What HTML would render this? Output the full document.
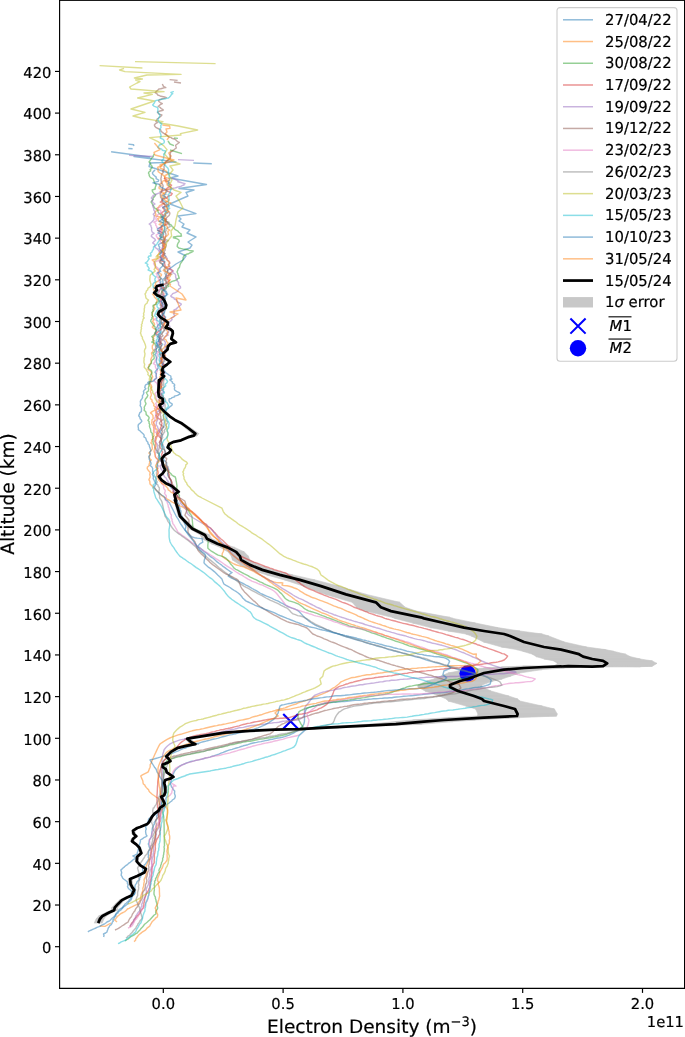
<!DOCTYPE html>
<html><head><meta charset="utf-8"><title>Electron Density</title>
<style>
html,body{margin:0;padding:0;background:#fff;}
svg{display:block;}
text{font-family:"DejaVu Sans","Liberation Sans",sans-serif;fill:#000;text-rendering:geometricPrecision;stroke:#000;stroke-width:0.2px;}
.tk{font-size:14.75px;}
.lg{font-size:14.85px;}
.ax{font-size:18.55px;}
</style></head><body>
<svg width="685" height="1037" viewBox="0 0 685 1037">
<rect x="0" y="0" width="685" height="1037" fill="#fff"/>
<clipPath id="cp"><rect x="59.6" y="0.6" width="624.6" height="987.6999999999999"/></clipPath>
<g clip-path="url(#cp)">
<path d="M162.4 284.6 L164.8 284.6 L158.2 286.0 L155.8 286.0Z M155.8 286.0 L158.2 286.0 L157.1 288.2 L154.7 288.2Z M154.7 288.2 L157.1 288.2 L158.2 290.1 L155.8 290.1Z M155.8 290.1 L158.2 290.1 L155.4 292.8 L153.0 292.8Z M153.0 292.8 L155.4 292.8 L158.2 295.2 L155.8 295.2Z M155.8 295.2 L158.2 295.2 L163.3 297.4 L160.9 297.4Z M160.9 297.4 L163.3 297.4 L165.8 301.0 L163.4 301.0Z M163.4 301.0 L165.8 301.0 L167.4 305.1 L165.0 305.1Z M165.0 305.1 L167.4 305.1 L166.7 308.1 L164.3 308.1Z M164.3 308.1 L166.7 308.1 L163.8 309.7 L161.4 309.7Z M161.4 309.7 L163.8 309.7 L160.2 311.7 L157.8 311.7Z M157.8 311.7 L160.2 311.7 L159.2 314.3 L156.8 314.3Z M156.8 314.3 L159.2 314.3 L161.7 317.3 L159.3 317.3Z M159.3 317.3 L161.7 317.3 L165.8 319.9 L163.4 319.9Z M163.4 319.9 L165.8 319.9 L169.1 322.5 L166.7 322.5Z M166.7 322.5 L169.1 322.5 L168.7 325.0 L166.3 325.0Z M166.3 325.0 L168.7 325.0 L166.9 327.6 L164.5 327.6Z M164.5 327.6 L166.9 327.6 L171.5 329.1 L169.1 329.1Z M169.1 329.1 L171.5 329.1 L173.8 331.1 L171.4 331.1Z M171.4 331.1 L173.8 331.1 L174.0 333.7 L171.6 333.7Z M171.6 333.7 L174.0 333.7 L173.0 336.8 L170.6 336.8Z M170.6 336.8 L173.0 336.8 L172.5 338.8 L170.1 338.8Z M170.1 338.8 L172.5 338.8 L177.3 342.4 L174.5 342.4Z M174.5 342.4 L177.3 342.4 L171.5 343.9 L169.1 343.9Z M169.1 343.9 L171.5 343.9 L169.1 346.5 L166.7 346.5Z M166.7 346.5 L169.1 346.5 L168.7 349.5 L166.3 349.5Z M166.3 349.5 L168.7 349.5 L164.3 353.6 L161.9 353.6Z M161.9 353.6 L164.3 353.6 L164.8 356.7 L162.4 356.7Z M162.4 356.7 L164.8 356.7 L166.9 358.7 L164.5 358.7Z M164.5 358.7 L166.9 358.7 L171.5 361.8 L169.1 361.8Z M169.1 361.8 L171.5 361.8 L168.4 364.3 L166.0 364.3Z M166.0 364.3 L168.4 364.3 L164.3 367.4 L161.9 367.4Z M161.9 367.4 L164.3 367.4 L163.3 370.0 L160.9 370.0Z M160.9 370.0 L163.3 370.0 L164.6 372.5 L162.2 372.5Z M162.2 372.5 L164.6 372.5 L163.0 374.6 L160.6 374.6Z M160.6 374.6 L163.0 374.6 L165.3 376.1 L162.9 376.1Z M162.9 376.1 L165.3 376.1 L161.7 379.2 L159.3 379.2Z M159.3 379.2 L161.7 379.2 L160.2 382.2 L157.8 382.2Z M157.8 382.2 L160.2 382.2 L160.2 380.0 L157.8 380.0Z M157.8 380.0 L160.2 380.0 L159.9 386.1 L157.5 386.1Z M157.5 386.1 L159.9 386.1 L159.5 392.3 L157.1 392.3Z M157.1 392.3 L159.5 392.3 L160.2 396.9 L157.8 396.9Z M157.8 396.9 L160.2 396.9 L163.8 398.9 L161.4 398.9Z M161.4 398.9 L163.8 398.9 L164.0 403.0 L161.6 403.0Z M161.6 403.0 L164.0 403.0 L160.7 405.0 L158.3 405.0Z M158.3 405.0 L160.7 405.0 L161.7 407.6 L159.3 407.6Z M159.3 407.6 L161.7 407.6 L165.8 411.7 L163.4 411.7Z M163.4 411.7 L165.8 411.7 L170.9 416.3 L168.5 416.3Z M168.5 416.3 L170.9 416.3 L176.1 419.9 L173.6 419.9Z M173.6 419.9 L176.1 419.9 L183.0 422.9 L179.0 422.9Z M179.0 422.9 L183.0 422.9 L190.9 428.0 L185.4 428.0Z M185.4 428.0 L190.9 428.0 L198.9 433.6 L191.7 433.6Z M191.7 433.6 L198.9 433.6 L197.2 435.7 L190.3 435.7Z M190.3 435.7 L197.2 435.7 L190.9 437.2 L185.4 437.2Z M185.4 437.2 L190.9 437.2 L183.0 440.3 L179.0 440.3Z M179.0 440.3 L183.0 440.3 L175.0 441.8 L172.6 441.8Z M172.6 441.8 L175.0 441.8 L170.4 443.9 L168.0 443.9Z M168.0 443.9 L170.4 443.9 L168.9 447.4 L166.5 447.4Z M166.5 447.4 L168.9 447.4 L172.0 450.0 L169.6 450.0Z M169.6 450.0 L172.0 450.0 L170.4 452.6 L168.0 452.6Z M168.0 452.6 L170.4 452.6 L165.8 455.1 L163.4 455.1Z M163.4 455.1 L165.8 455.1 L163.0 458.7 L160.6 458.7Z M160.6 458.7 L163.0 458.7 L163.6 461.7 L161.2 461.7Z M161.2 461.7 L163.6 461.7 L164.3 465.8 L161.9 465.8Z M161.9 465.8 L164.3 465.8 L166.3 469.9 L163.9 469.9Z M163.9 469.9 L166.3 469.9 L163.8 473.5 L161.4 473.5Z M161.4 473.5 L163.8 473.5 L160.2 476.6 L157.8 476.6Z M157.8 476.6 L160.2 476.6 L162.8 480.1 L160.4 480.1Z M160.4 480.1 L162.8 480.1 L166.9 483.2 L164.5 483.2Z M164.5 483.2 L166.9 483.2 L173.0 486.0 L170.6 486.0Z M170.6 486.0 L173.0 486.0 L180.3 491.7 L176.9 491.7Z M176.9 491.7 L180.3 491.7 L175.6 494.7 L173.1 494.7Z M173.1 494.7 L175.6 494.7 L177.6 500.9 L174.7 500.9Z M174.7 500.9 L177.6 500.9 L176.3 500.0 L173.7 500.0Z M173.7 500.0 L176.3 500.0 L179.0 507.5 L175.9 507.5Z M175.9 507.5 L179.0 507.5 L181.8 516.2 L178.1 516.2Z M178.1 516.2 L181.8 516.2 L190.1 523.7 L184.7 523.7Z M184.7 523.7 L190.1 523.7 L195.7 528.7 L189.2 528.7Z M189.2 528.7 L195.7 528.7 L209.6 534.9 L200.3 534.9Z M200.3 534.9 L209.6 534.9 L211.8 538.7 L202.0 538.7Z M202.0 538.7 L211.8 538.7 L223.5 543.7 L211.3 543.7Z M211.3 543.7 L223.5 543.7 L234.6 547.4 L220.2 547.4Z M220.2 547.4 L234.6 547.4 L244.3 551.9 L228.0 551.9Z M228.0 551.9 L244.3 551.9 L248.4 556.2 L231.3 556.2Z M231.3 556.2 L248.4 556.2 L249.8 559.9 L232.4 559.9Z M232.4 559.9 L249.8 559.9 L259.5 564.9 L240.2 564.9Z M240.2 564.9 L259.5 564.9 L273.4 569.9 L251.2 569.9Z M251.2 569.9 L273.4 569.9 L292.9 574.9 L266.8 574.9Z M266.8 574.9 L292.9 574.9 L315.1 579.9 L284.5 579.9Z M284.5 579.9 L315.1 579.9 L338.7 586.1 L303.3 586.1Z M303.3 586.1 L338.7 586.1 L366.4 594.4 L325.5 594.4Z M325.5 594.4 L366.4 594.4 L399.7 602.3 L352.1 602.3Z M352.1 602.3 L399.7 602.3 L405.3 607.3 L356.5 607.3Z M356.5 607.3 L405.3 607.3 L416.4 611.1 L365.4 611.1Z M365.4 611.1 L416.4 611.1 L449.7 617.3 L392.0 617.3Z M392.0 617.3 L449.7 617.3 L453.2 618.4 L394.8 618.4Z M394.8 618.4 L453.2 618.4 L475.4 623.0 L412.6 623.0Z M412.6 623.0 L475.4 623.0 L497.7 627.6 L430.3 627.6Z M430.3 627.6 L497.7 627.6 L519.9 631.0 L448.1 631.0Z M448.1 631.0 L519.9 631.0 L542.2 634.0 L465.8 634.0Z M465.8 634.0 L542.2 634.0 L548.8 636.0 L471.2 636.0Z M471.2 636.0 L548.8 636.0 L564.4 642.0 L483.6 642.0Z M483.6 642.0 L564.4 642.0 L586.6 647.0 L501.4 647.0Z M501.4 647.0 L586.6 647.0 L605.5 649.6 L516.5 649.6Z M516.5 649.6 L605.5 649.6 L613.5 651.3 L522.8 651.3Z M522.8 651.3 L613.5 651.3 L625.6 654.2 L532.4 654.2Z M532.4 654.2 L625.6 654.2 L630.1 656.6 L536.1 656.6Z M536.1 656.6 L630.1 656.6 L640.3 659.0 L544.2 659.0Z M544.2 659.0 L640.3 659.0 L652.3 660.9 L553.8 660.9Z M553.8 660.9 L652.3 660.9 L656.9 663.4 L557.5 663.4Z M557.5 663.4 L656.9 663.4 L652.3 666.2 L553.8 666.2Z M553.8 666.2 L652.3 666.2 L640.3 666.7 L544.2 666.7Z M544.2 666.7 L640.3 666.7 L613.5 666.2 L522.8 666.2Z M522.8 666.2 L613.5 666.2 L606.0 666.5 L516.8 666.5Z M516.8 666.5 L606.0 666.5 L605.5 666.4 L516.5 666.4Z M516.5 666.4 L605.5 666.4 L586.6 667.0 L501.4 667.0Z M501.4 667.0 L586.6 667.0 L564.4 668.0 L483.6 668.0Z M483.6 668.0 L564.4 668.0 L542.2 669.6 L465.8 669.6Z M465.8 669.6 L542.2 669.6 L519.9 673.0 L448.1 673.0Z M448.1 673.0 L519.9 673.0 L511.0 676.0 L441.0 676.0Z M441.0 676.0 L511.0 676.0 L502.1 679.0 L433.9 679.0Z M433.9 679.0 L502.1 679.0 L493.2 681.0 L426.8 681.0Z M426.8 681.0 L493.2 681.0 L482.1 685.0 L417.9 685.0Z M417.9 685.0 L482.1 685.0 L482.1 687.0 L417.9 687.0Z M417.9 687.0 L482.1 687.0 L491.0 691.0 L425.0 691.0Z M425.0 691.0 L491.0 691.0 L508.8 696.0 L439.2 696.0Z M439.2 696.0 L508.8 696.0 L517.7 699.0 L446.3 699.0Z M446.3 699.0 L517.7 699.0 L519.9 701.0 L448.1 701.0Z M448.1 701.0 L519.9 701.0 L542.2 706.0 L465.8 706.0Z M465.8 706.0 L542.2 706.0 L554.4 709.0 L475.6 709.0Z M475.6 709.0 L554.4 709.0 L557.3 714.0 L477.9 714.0Z M477.9 714.0 L557.3 714.0 L556.6 716.0 L477.4 716.0Z M477.4 716.0 L556.6 716.0 L519.9 717.6 L448.1 717.6Z M448.1 717.6 L519.9 717.6 L475.4 720.0 L412.6 720.0Z M412.6 720.0 L475.4 720.0 L453.2 721.6 L394.8 721.6Z M394.8 721.6 L453.2 721.6 L421.9 724.2 L369.8 724.2Z M369.8 724.2 L421.9 724.2 L366.4 726.7 L325.5 726.7Z M325.5 726.7 L366.4 726.7 L338.7 727.9 L303.3 727.9Z M303.3 727.9 L338.7 727.9 L315.1 729.2 L284.5 729.2Z M284.5 729.2 L315.1 729.2 L287.3 729.7 L262.3 729.7Z M262.3 729.7 L287.3 729.7 L259.5 730.9 L240.2 730.9Z M240.2 730.9 L259.5 730.9 L231.8 732.7 L218.0 732.7Z M218.0 732.7 L231.8 732.7 L204.0 736.6 L195.8 736.6Z M195.8 736.6 L204.0 736.6 L189.9 738.6 L184.5 738.6Z M184.5 738.6 L189.9 738.6 L194.4 742.2 L188.2 742.2Z M188.2 742.2 L194.4 742.2 L199.0 744.2 L191.8 744.2Z M191.8 744.2 L199.0 744.2 L189.9 745.7 L184.5 745.7Z M184.5 745.7 L189.9 745.7 L179.7 747.8 L176.4 747.8Z M176.4 747.8 L179.7 747.8 L172.1 751.9 L169.7 751.9Z M169.7 751.9 L172.1 751.9 L167.5 756.5 L165.1 756.5Z M165.1 756.5 L167.5 756.5 L170.0 759.0 L167.6 759.0Z M167.6 759.0 L170.0 759.0 L171.6 761.1 L169.2 761.1Z M169.2 761.1 L171.6 761.1 L169.0 762.6 L166.6 762.6Z M166.6 762.6 L169.0 762.6 L163.9 764.6 L161.5 764.6Z M161.5 764.6 L163.9 764.6 L163.9 767.2 L161.5 767.2Z M161.5 767.2 L163.9 767.2 L167.0 769.2 L164.6 769.2Z M164.6 769.2 L167.0 769.2 L168.0 772.3 L165.6 772.3Z M165.6 772.3 L168.0 772.3 L174.6 776.9 L172.2 776.9Z M172.2 776.9 L174.6 776.9 L172.1 778.4 L169.7 778.4Z M169.7 778.4 L172.1 778.4 L166.5 780.0 L164.1 780.0Z M164.1 780.0 L166.5 780.0 L165.4 783.0 L163.0 783.0Z M163.0 783.0 L165.4 783.0 L166.5 787.1 L164.1 787.1Z M164.1 787.1 L166.5 787.1 L166.5 792.2 L164.1 792.2Z M164.1 792.2 L166.5 792.2 L165.4 795.3 L163.0 795.3Z M163.0 795.3 L165.4 795.3 L162.4 796.8 L160.0 796.8Z M160.0 796.8 L162.4 796.8 L164.4 800.4 L162.0 800.4Z M162.0 800.4 L164.4 800.4 L165.9 803.5 L163.5 803.5Z M163.5 803.5 L165.9 803.5 L164.9 805.5 L162.5 805.5Z M162.5 805.5 L164.9 805.5 L161.3 807.6 L158.9 807.6Z M158.9 807.6 L161.3 807.6 L159.8 810.6 L157.4 810.6Z M157.4 810.6 L159.8 810.6 L155.7 813.7 L153.3 813.7Z M153.3 813.7 L155.7 813.7 L153.2 816.7 L150.8 816.7Z M150.8 816.7 L153.2 816.7 L150.1 822.4 L147.7 822.4Z M147.7 822.4 L150.1 822.4 L148.6 823.9 L146.2 823.9Z M146.2 823.9 L148.6 823.9 L141.6 827.0 L138.8 827.0Z M138.8 827.0 L141.6 827.0 L138.8 828.0 L135.6 828.0Z M135.6 828.0 L138.8 828.0 L135.0 830.6 L131.3 830.6Z M131.3 830.6 L135.0 830.6 L135.5 833.7 L131.8 833.7Z M131.8 833.7 L135.5 833.7 L137.9 836.2 L134.5 836.2Z M134.5 836.2 L137.9 836.2 L135.0 838.8 L131.3 838.8Z M131.3 838.8 L135.0 838.8 L134.0 841.3 L130.2 841.3Z M130.2 841.3 L134.0 841.3 L137.9 844.4 L134.5 844.4Z M134.5 844.4 L137.9 844.4 L140.8 847.5 L137.8 847.5Z M137.8 847.5 L140.8 847.5 L142.7 853.1 L139.9 853.1Z M139.9 853.1 L142.7 853.1 L138.8 856.7 L135.6 856.7Z M135.6 856.7 L138.8 856.7 L138.4 861.3 L135.1 861.3Z M135.1 861.3 L138.4 861.3 L141.7 865.3 L138.9 865.3Z M138.9 865.3 L141.7 865.3 L147.1 868.9 L144.7 868.9Z M144.7 868.9 L147.1 868.9 L145.6 872.5 L143.2 872.5Z M143.2 872.5 L145.6 872.5 L138.8 876.1 L135.6 876.1Z M135.6 876.1 L138.8 876.1 L132.1 879.1 L128.0 879.1Z M128.0 879.1 L132.1 879.1 L132.6 884.2 L128.6 884.2Z M128.6 884.2 L132.6 884.2 L134.5 887.8 L130.7 887.8Z M130.7 887.8 L134.5 887.8 L136.0 889.9 L132.4 889.9Z M132.4 889.9 L136.0 889.9 L133.6 895.5 L129.6 895.5Z M129.6 895.5 L133.6 895.5 L129.3 897.5 L124.8 897.5Z M124.8 897.5 L129.3 897.5 L124.5 900.1 L119.3 900.1Z M119.3 900.1 L124.5 900.1 L121.1 903.7 L115.5 903.7Z M115.5 903.7 L121.1 903.7 L117.8 907.7 L111.7 907.7Z M111.7 907.7 L117.8 907.7 L117.3 910.3 L111.2 910.3Z M111.2 910.3 L117.3 910.3 L113.0 912.3 L106.3 912.3Z M106.3 912.3 L113.0 912.3 L106.3 915.9 L98.7 915.9Z M98.7 915.9 L106.3 915.9 L103.9 919.0 L96.0 919.0Z M96.0 919.0 L103.9 919.0 L102.2 923.1 L94.2 923.1Z" fill="#c8c8c8" stroke="#c8c8c8" stroke-width="0.6" stroke-linejoin="round"/>
<path d="M283.20000000000005 714.0L298.0 728.8M283.20000000000005 728.8L298.0 714.0" stroke="#0000ff" stroke-width="2.1" fill="none"/>
<circle cx="467.6" cy="673.5" r="8.2" fill="#0000ff"/>
<path d="M128.3 144.1 L133.6 144.8 L133.9 146.0" fill="none" stroke="#1f77b4" stroke-opacity="0.5" stroke-width="1.4" stroke-linejoin="round"/>
<path d="M128.3 148.5 L132.6 148.8" fill="none" stroke="#1f77b4" stroke-opacity="0.5" stroke-width="1.4" stroke-linejoin="round"/>
<path d="M193.3 163.0 L211.8 163.7" fill="none" stroke="#1f77b4" stroke-opacity="0.5" stroke-width="1.4" stroke-linejoin="round"/>
<path d="M111.1 151.7 L150.0 157.0 L134.0 156.5 L176.0 162.0 L150.0 163.0 L149.0 166.5 L178.0 176.0 L170.0 178.0 L206.5 184.5 L179.0 188.5 L194.0 190.0 L186.0 192.5 L188.0 196.0 L181.0 199.0 L170.0 204.0 L196.0 213.6 L178.0 216.0 L181.0 219.0 L179.0 221.0 L184.0 224.0 L182.0 227.0 L190.0 230.0 L187.0 233.0 L196.0 237.0 L188.0 242.0 L192.0 245.0 L190.0 248.0 L178.0 252.0 L186.0 256.0 L183.0 260.0 L176.0 264.0 L168.0 270.0 L165.0 278.0 L164.7 278.0 L162.4 279.5 L162.8 281.0 L162.9 282.5 L163.6 284.0 L162.7 285.5 L163.8 287.0 L164.6 288.5 L163.4 290.0 L165.0 291.4 L165.4 292.9 L167.7 294.3 L166.1 295.7 L164.6 297.1 L165.4 298.6 L164.7 300.0 L165.3 301.4 L164.3 302.9 L164.4 304.3 L165.2 305.7 L165.0 307.1 L164.0 308.6 L161.9 310.0 L162.5 311.4 L162.7 312.9 L163.8 314.3 L164.2 315.7 L165.6 317.1 L165.1 318.6 L164.8 320.0 L164.6 321.4 L162.0 322.9 L160.7 324.3 L159.6 325.7 L161.5 327.1 L160.4 328.6 L160.8 330.0 L161.1 331.4 L160.4 332.9 L158.6 334.3 L160.1 335.7 L159.3 337.1 L160.1 338.6 L158.4 340.0 L158.6 341.4 L160.8 342.9 L162.7 344.3 L161.2 345.7 L160.3 347.1 L161.0 348.6 L161.9 350.0 L161.7 351.5 L161.5 353.0 L160.0 354.5 L160.9 356.0 L162.4 357.5 L162.1 359.0 L161.4 360.5 L161.8 362.0 L163.6 363.5 L162.2 365.0 L163.2 366.5 L163.0 368.0 L163.8 369.5 L164.5 371.0 L165.5 372.5 L167.7 374.0 L168.9 375.0 L170.8 376.0 L170.9 377.0 L170.9 378.0 L171.9 379.0 L169.8 380.0 L171.2 381.0 L172.5 382.0 L172.3 383.0 L174.2 384.0 L174.8 385.0 L174.0 386.0 L174.7 387.3 L174.4 388.7 L174.6 390.0 L176.6 391.3 L179.3 392.7 L180.2 394.0 L178.7 394.7 L177.6 395.4 L174.4 396.1 L174.6 396.9 L172.1 397.6 L171.4 398.3 L169.1 399.0 L169.0 400.7 L169.7 402.3 L172.3 404.0 L171.8 405.4 L170.0 406.8 L168.6 408.1 L166.6 409.5 L165.9 410.9 L164.7 412.2 L164.9 413.6 L163.2 415.0 L163.6 416.5 L163.5 418.0 L163.6 419.5 L164.5 421.0 L164.3 422.5 L164.1 424.0 L164.0 425.5 L163.7 427.0 L161.5 428.5 L161.6 430.0 L160.1 431.5 L160.6 433.0 L162.4 434.5 L161.8 436.0 L161.2 437.5 L161.2 439.0 L161.1 440.5 L161.2 442.0 L160.9 443.5 L162.4 445.0 L163.7 446.5 L163.9 448.0 L164.4 449.5 L164.9 451.0 L165.3 452.5 L164.9 454.0 L164.8 455.5 L164.2 457.0 L163.6 458.5 L163.8 460.0 L165.4 461.4 L166.5 462.7 L166.8 464.1 L166.5 465.5 L167.0 466.8 L168.2 468.2 L168.8 469.5 L168.0 470.9 L168.1 472.3 L167.6 473.6 L167.7 475.0 L168.8 476.4 L169.4 477.9 L170.3 479.3 L170.9 480.8 L171.0 482.2 L171.3 483.7 L170.7 485.1 L170.3 486.6 L171.3 488.0 L173.3 489.3 L173.7 490.7 L173.4 492.0 L174.2 493.3 L175.3 494.7 L174.9 496.0 L175.7 497.3 L175.6 498.7 L176.6 500.0 L177.3 501.4 L177.8 502.7 L179.0 504.1 L179.0 505.5 L179.0 506.8 L180.1 508.2 L179.8 509.5 L180.9 510.9 L180.9 512.3 L180.8 513.6 L181.3 515.0 L182.0 516.4 L182.7 517.8 L183.3 519.1 L184.2 520.5 L184.0 521.9 L184.6 523.2 L185.1 524.6 L186.0 526.0 L185.1 530.0 L186.4 531.5 L188.2 533.4 L190.2 535.3 L192.1 537.0 L194.5 537.7 L197.3 538.1 L199.8 538.4 L202.0 538.6 L202.8 542.2 L199.8 543.9 L197.9 546.1 L199.2 547.4 L200.7 548.5 L202.3 549.9 L204.1 551.5 L206.1 552.8 L208.1 554.5 L210.1 556.2 L211.6 557.4 L213.5 558.5 L215.1 560.1 L217.1 561.9 L219.3 563.5 L221.3 564.8 L223.0 566.4 L224.9 567.6 L226.5 568.9 L228.1 570.0 L230.8 571.8 L232.1 572.5 L229.7 574.1 L228.3 576.1 L229.5 576.8 L231.2 577.8 L232.8 578.7 L235.0 579.6 L237.4 580.7 L239.7 581.8 L241.9 582.9 L244.1 584.0 L246.0 585.1 L248.2 586.2 L250.3 587.3 L252.2 588.5 L254.2 589.6 L256.2 590.6 L258.2 591.8 L260.0 593.0 L261.9 594.0 L264.4 595.1 L266.6 596.2 L269.1 597.2 L271.6 598.2 L273.9 599.3 L276.2 600.3 L278.2 601.1 L280.7 602.6 L282.9 603.7 L284.9 604.8 L286.9 606.0 L289.5 607.2 L292.0 608.1 L294.5 608.9 L297.2 610.1 L299.2 611.8 L301.0 613.6 L303.1 615.9 L304.8 617.5 L306.7 619.1 L308.7 620.9 L310.9 622.5 L313.2 624.0 L315.2 625.1 L317.3 626.1 L319.7 627.1 L322.3 627.9 L324.6 628.8 L327.1 629.9 L329.1 630.5 L331.3 631.5 L333.3 632.4 L335.5 633.1 L337.9 633.8 L340.2 634.5 L342.4 635.5 L344.8 636.4 L347.0 637.0 L349.1 637.6 L351.4 638.3 L353.8 639.1 L356.2 639.7 L358.0 640.3 L360.3 640.9 L362.5 641.4 L364.7 642.4 L367.1 643.0 L369.1 643.7 L371.4 644.2 L373.8 644.9 L375.9 645.7 L378.1 646.2 L380.1 646.7 L382.5 647.4 L384.7 648.1 L386.8 648.8 L388.8 649.6 L391.0 650.1 L393.4 650.7 L395.9 651.3 L398.1 652.0 L400.3 652.4 L402.6 653.1 L404.8 653.7 L407.1 654.5 L409.2 655.0 L411.4 655.5 L413.5 656.1 L415.7 656.9 L417.6 657.2 L419.6 657.6 L421.7 658.4 L423.8 659.1 L425.9 659.8 L428.2 660.5 L430.4 661.1 L432.8 661.8 L435.1 662.5 L437.4 663.0 L439.5 663.5 L441.8 664.3 L444.0 665.1 L446.3 665.8 L448.3 666.4 L450.5 667.0 L452.7 667.8 L455.2 668.6 L457.4 669.4 L459.7 670.0 L461.9 670.8 L464.0 671.1 L466.4 671.6 L468.5 672.2 L470.9 672.6 L473.2 673.2 L475.6 673.7 L477.8 674.3 L479.9 674.8 L482.2 675.4 L484.2 675.9 L487.5 677.4 L489.5 678.8 L491.2 680.1 L490.2 684.0 L487.9 685.0 L485.6 685.7 L483.0 686.4 L480.1 687.0 L477.9 687.3 L475.8 687.5 L473.5 687.8 L471.4 688.2 L468.9 688.7 L466.4 689.0 L464.1 689.5 L461.9 690.0 L459.6 690.3 L457.4 690.6 L455.4 690.7 L453.1 691.2 L450.9 691.5 L448.7 691.8 L446.4 692.2 L444.0 692.6 L441.7 692.6 L439.8 692.8 L437.6 692.8 L435.7 692.9 L433.6 693.3 L431.4 693.6 L429.0 693.7 L426.6 694.0 L423.7 694.3 L421.9 694.6 L419.8 694.9 L417.8 695.0 L415.6 695.2 L413.3 695.5 L411.0 695.7 L408.6 695.9 L406.3 696.1 L403.7 696.3 L401.4 696.6 L398.9 696.9 L396.5 697.0 L394.1 697.3 L391.8 697.8 L389.5 697.7 L387.2 698.0 L384.8 698.0 L382.4 698.3 L380.1 698.4 L378.0 698.6 L375.8 698.7 L373.3 698.8 L371.0 699.1 L368.6 699.2 L366.4 699.5 L364.0 699.8 L361.7 700.0 L359.4 700.2 L357.1 700.4 L355.1 700.3 L352.9 700.6 L350.8 700.8 L348.9 701.1 L346.8 701.2 L344.3 701.5 L341.9 701.5 L339.7 701.7 L337.4 702.1 L335.3 702.3 L333.3 702.3 L331.2 702.5 L329.1 702.7 L326.9 703.1 L324.7 703.5 L322.2 704.0 L319.9 704.5 L317.4 705.1 L315.1 705.9 L312.9 706.2 L310.7 706.9 L308.8 707.6 L307.0 708.4 L305.2 711.2 L304.7 714.4 L304.4 716.3 L304.5 719.0 L304.4 721.7 L303.9 723.9 L302.8 726.0 L300.9 728.0 L299.2 729.9 L297.3 731.0 L295.4 732.0 L293.5 733.1 L291.2 734.1 L289.2 735.2 L287.0 735.9 L284.7 736.6 L282.4 737.2 L279.9 737.7 L277.7 738.0 L275.0 738.6 L272.4 739.2 L269.9 739.6 L267.7 740.2 L265.4 740.6 L263.2 741.1 L261.0 741.6 L258.8 741.9 L256.6 742.4 L254.4 742.7 L252.1 743.3 L250.1 743.8 L247.8 744.7 L245.5 745.3 L243.3 745.8 L241.1 746.5 L238.8 747.3 L236.4 748.0 L234.3 748.7 L232.2 749.4 L229.8 749.9 L227.5 750.7 L225.4 751.5 L223.2 752.4 L221.0 753.1 L218.8 754.1 L216.6 754.8 L214.3 755.7 L212.2 756.2 L210.0 757.1 L207.7 757.6 L205.4 758.0 L203.3 758.8 L200.8 759.4 L198.5 759.9 L196.1 760.4 L194.0 760.9 L192.1 761.2 L189.9 761.8 L186.8 762.8 L184.4 764.0 L182.0 764.9 L179.8 766.1 L177.8 767.8 L176.0 769.4 L174.3 771.7 L173.2 774.2 L172.3 776.9 L171.4 779.7 L170.7 782.2 L170.0 784.0 L170.3 784.0 L171.1 785.4 L171.4 786.8 L172.7 788.2 L173.2 789.6 L174.7 791.0 L174.6 792.4 L174.5 793.8 L175.1 795.2 L175.3 796.6 L174.8 798.0 L174.0 799.0 L172.3 800.0 L171.8 801.0 L170.2 802.0 L169.2 803.0 L167.4 804.0 L166.4 805.0 L165.9 806.2 L164.9 807.4 L163.0 808.7 L161.0 809.9 L160.4 811.1 L159.1 812.3 L158.0 813.6 L157.9 814.8 L156.6 816.0 L156.9 817.3 L157.0 818.7 L156.2 820.0 L155.0 821.3 L154.2 822.7 L154.4 824.0 L153.5 825.3 L153.3 826.7 L152.4 828.0 L152.2 829.5 L152.1 830.9 L151.9 832.4 L151.7 833.8 L151.6 835.3 L151.5 836.7 L150.6 838.2 L149.6 839.6 L149.2 841.1 L148.9 842.5 L148.3 844.0 L149.0 845.5 L149.1 846.9 L150.3 848.4 L149.6 849.8 L148.5 851.3 L148.6 852.7 L148.3 854.2 L148.5 855.6 L148.2 857.1 L148.9 858.5 L148.1 860.0 L147.5 861.3 L146.4 862.7 L145.5 864.0 L144.0 865.3 L144.0 866.7 L142.6 868.0 L142.7 869.3 L142.7 870.7 L142.6 872.0 L141.3 873.2 L141.6 874.5 L140.8 875.8 L140.5 877.0 L139.5 878.2 L139.7 879.5 L138.1 880.8 L136.9 882.0 L136.5 883.4 L135.3 884.9 L135.0 886.3 L134.9 887.7 L135.0 889.1 L134.6 890.6 L135.3 892.0 L135.1 893.2 L134.2 894.5 L132.7 895.8 L131.8 897.0 L131.7 898.2 L131.3 899.5 L130.2 900.8 L128.8 902.0 L128.2 903.1 L127.3 904.2 L125.9 905.3 L124.4 906.4 L122.4 907.6 L120.6 908.7 L119.0 909.8 L118.4 910.9 L117.5 912.0 L116.3 913.3 L115.6 914.7 L115.9 916.0 L114.5 917.3 L113.9 918.7 L112.8 920.0 L113.4 921.1 L112.2 922.3 L112.0 923.4 L111.2 924.6 L109.7 925.7 L109.2 926.9 L108.3 928.0 L107.9 929.3 L107.3 930.7 L107.0 932.0 L105.6 933.0 L103.5 934.0 L104.0 935.5 L103.6 937.0" fill="none" stroke="#1f77b4" stroke-opacity="0.5" stroke-width="1.4" stroke-linejoin="round"/>
<path d="M162.4 125.0 L169.6 126.0 L170.0 128.4 L166.0 129.0 L167.0 132.0 L165.0 134.0 L169.0 137.0 L167.0 140.0" fill="none" stroke="#ff7f0e" stroke-opacity="0.5" stroke-width="1.4" stroke-linejoin="round"/>
<path d="M173.1 150.0 L170.6 151.5 L168.7 153.0 L169.5 154.5 L171.2 156.0 L169.8 157.5 L170.2 159.0 L166.6 160.5 L165.5 162.0 L164.5 163.5 L162.2 165.0 L160.6 166.5 L160.1 168.0 L163.4 169.5 L166.0 171.0 L167.2 172.5 L168.2 174.0 L165.1 175.5 L164.9 177.0 L164.6 178.5 L165.1 180.0 L162.5 181.4 L162.3 182.9 L159.4 184.3 L161.2 185.7 L159.0 187.1 L159.2 188.6 L164.0 190.0 L160.1 191.4 L163.3 192.9 L164.4 194.3 L164.0 195.7 L165.6 197.1 L167.0 198.6 L168.9 200.0 L167.1 201.4 L164.7 202.9 L162.3 204.3 L159.4 205.7 L158.7 207.1 L156.7 208.6 L158.9 210.0 L155.4 211.4 L155.3 212.9 L156.0 214.3 L154.9 215.7 L161.2 217.1 L157.5 218.6 L158.6 220.0 L158.9 221.4 L162.7 222.9 L159.1 224.3 L162.3 225.7 L161.6 227.1 L162.4 228.6 L161.9 230.0 L163.5 231.4 L161.1 232.9 L160.8 234.3 L161.0 235.7 L163.2 237.1 L158.1 238.6 L161.6 240.0 L163.2 241.4 L162.4 242.9 L163.4 244.3 L162.7 245.7 L165.0 247.1 L163.7 248.6 L161.8 250.0 L160.2 251.4 L159.1 252.9 L158.4 254.3 L157.1 255.7 L160.4 257.1 L156.8 258.6 L152.2 260.0 L153.9 261.4 L154.6 262.9 L155.4 264.3 L155.2 265.7 L155.3 267.1 L156.4 268.6 L158.4 270.0 L158.2 271.4 L158.5 272.9 L161.5 274.3 L161.3 275.7 L158.8 277.1 L161.0 278.6 L160.0 280.0 L157.5 281.4 L155.2 282.9 L155.8 284.3 L155.0 285.7 L154.2 287.1 L153.5 288.6 L153.7 290.0 L155.6 291.4 L154.6 292.9 L152.6 294.3 L154.1 295.7 L154.4 297.1 L155.8 298.6 L157.3 300.0 L156.7 301.4 L156.2 302.9 L155.7 304.3 L153.7 305.7 L154.1 307.1 L154.9 308.6 L153.8 310.0 L152.8 311.4 L152.5 312.9 L152.2 314.3 L152.3 315.7 L153.1 317.1 L153.2 318.6 L153.7 320.0 L152.6 321.4 L154.0 322.9 L154.6 324.3 L153.8 325.7 L152.3 327.1 L154.1 328.6 L156.5 330.0 L155.8 331.4 L155.4 332.9 L154.5 334.3 L154.9 335.7 L153.0 337.1 L153.8 338.6 L152.9 340.0 L153.8 341.4 L153.7 342.9 L153.6 344.3 L152.3 345.7 L152.3 347.1 L152.4 348.6 L153.2 350.0 L152.9 351.4 L151.5 352.9 L151.7 354.3 L152.4 355.7 L151.8 357.1 L151.1 358.6 L150.7 360.0 L151.3 361.6 L151.0 363.2 L149.0 364.8 L148.9 366.4 L148.1 368.0 L147.9 369.5 L150.2 370.9 L151.6 372.4 L151.3 373.9 L152.0 375.3 L152.7 376.8 L151.9 378.3 L151.6 379.7 L151.9 381.2 L149.8 382.7 L150.5 384.1 L151.4 385.6 L151.9 387.1 L150.5 388.5 L151.2 390.0 L150.4 391.4 L151.0 392.9 L151.3 394.3 L151.2 395.7 L150.4 397.1 L150.4 398.6 L152.1 400.0 L151.9 401.4 L153.1 402.9 L154.0 404.3 L153.7 405.7 L155.6 407.1 L154.5 408.6 L155.5 410.0 L152.4 411.4 L150.5 412.9 L152.1 414.3 L153.0 415.7 L153.0 417.1 L153.3 418.6 L151.9 420.0 L152.0 421.4 L151.7 422.9 L152.1 424.3 L153.3 425.7 L153.5 427.1 L154.0 428.6 L153.6 430.0 L153.6 431.4 L153.9 432.9 L153.6 434.3 L154.1 435.7 L152.5 437.1 L153.3 438.6 L151.5 440.0 L151.9 441.4 L150.9 442.9 L152.2 444.3 L152.1 445.7 L152.2 447.1 L152.4 448.6 L151.5 450.0 L150.4 451.4 L148.9 452.9 L150.2 454.3 L149.6 455.7 L149.4 457.1 L149.7 458.6 L151.3 460.0 L149.6 461.4 L149.7 462.9 L149.1 464.3 L149.1 465.7 L147.4 467.1 L147.2 468.6 L148.0 470.0 L149.3 471.4 L150.3 472.8 L149.7 474.2 L150.0 475.6 L150.2 477.0 L149.5 478.4 L148.9 479.8 L149.8 481.2 L149.9 482.6 L150.0 484.0 L162.0 495.8 L163.5 496.8 L165.3 497.7 L167.2 499.1 L169.6 500.4 L171.9 501.8 L173.8 502.8 L175.7 503.9 L177.8 505.0 L179.7 505.9 L181.7 506.7 L183.7 507.7 L185.5 508.8 L187.8 510.1 L189.8 511.2 L191.6 512.6 L193.4 514.3 L195.4 515.8 L197.4 517.5 L199.3 519.0 L201.2 520.6 L202.9 522.1 L204.5 523.8 L206.1 525.1 L207.5 527.4 L208.4 529.5 L208.9 531.2 L209.9 533.1 L211.7 534.8 L213.7 536.7 L215.9 538.3 L218.2 540.0 L219.6 542.4 L221.5 544.8 L223.0 547.2 L224.0 549.0 L223.3 551.5 L222.2 553.7 L222.1 556.2 L223.6 557.5 L225.5 558.8 L227.5 560.1 L229.7 561.4 L232.0 562.9 L234.1 564.0 L236.6 565.0 L238.9 565.7 L241.2 566.4 L243.5 566.9 L246.1 568.0 L248.1 568.9 L250.0 569.8 L252.0 570.7 L254.0 571.7 L256.0 572.8 L257.9 574.0 L260.0 575.2 L262.1 576.1 L264.3 577.1 L266.1 578.2 L268.1 579.1 L270.0 580.3 L271.9 581.2 L273.8 582.0 L276.5 582.6 L278.8 582.7 L281.0 582.8 L282.8 583.0 L282.0 585.0 L284.1 585.6 L287.1 585.8 L289.3 586.3 L291.9 587.0 L294.3 588.0 L297.1 589.0 L298.8 590.0 L300.5 591.4 L302.4 592.4 L304.6 593.9 L306.9 595.0 L308.9 595.9 L311.1 597.0 L313.1 597.8 L315.3 598.4 L317.7 599.4 L320.1 600.3 L322.5 601.2 L324.9 602.1 L327.1 602.9 L329.3 603.9 L331.6 604.8 L333.7 605.8 L336.0 606.7 L338.1 607.5 L340.3 608.2 L342.5 609.0 L344.6 610.1 L346.8 611.2 L349.1 612.0 L351.4 612.9 L353.8 613.8 L356.1 614.8 L358.1 616.1 L360.5 617.0 L362.6 617.9 L364.8 619.0 L366.9 619.9 L369.0 620.9 L371.2 621.7 L373.7 622.5 L375.8 623.2 L378.1 623.9 L380.3 624.5 L382.5 625.3 L384.9 626.0 L387.1 626.9 L389.3 627.7 L391.5 628.3 L393.8 628.9 L396.1 629.4 L398.4 629.8 L400.5 630.4 L402.6 631.1 L404.8 631.8 L406.8 632.5 L409.1 633.0 L411.2 633.7 L413.2 634.2 L415.4 634.6 L417.4 635.1 L419.6 635.7 L421.9 636.4 L424.2 636.9 L426.3 637.4 L428.3 638.0 L430.5 638.9 L432.8 639.6 L434.9 640.5 L437.2 641.2 L439.5 641.8 L441.6 642.4 L443.6 643.0 L445.9 643.8 L448.4 644.5 L450.8 645.3 L453.3 646.0 L455.6 646.7 L457.9 647.6 L460.0 648.5 L462.1 649.2 L464.1 650.1 L467.0 651.4 L469.2 652.5 L471.2 653.3 L473.0 654.2 L476.4 654.0 L475.9 657.0 L478.5 659.0 L480.9 661.0 L477.7 663.9 L475.6 664.5 L473.2 664.9 L470.4 665.2 L467.9 665.7 L465.6 665.5 L463.2 665.7 L460.7 665.6 L458.0 665.6 L455.9 665.7 L453.5 665.8 L451.3 665.8 L448.9 665.9 L446.5 666.2 L444.0 666.4 L442.0 666.4 L439.9 666.5 L437.8 666.6 L435.4 666.8 L433.0 666.9 L430.6 667.1 L428.4 667.3 L426.1 667.6 L424.0 667.6 L421.4 667.8 L419.2 667.9 L416.7 668.2 L414.3 668.4 L412.1 668.5 L409.7 668.9 L407.2 668.9 L405.0 669.2 L402.7 669.5 L400.5 669.8 L398.2 670.2 L395.9 670.5 L393.9 671.0 L391.6 671.2 L389.2 671.7 L386.9 672.0 L384.7 672.3 L382.5 672.7 L380.1 673.0 L377.9 673.2 L375.5 673.7 L373.2 674.0 L371.1 674.5 L369.2 674.8 L366.9 674.8 L364.6 675.2 L362.1 675.6 L359.7 676.3 L357.3 676.8 L355.2 677.2 L353.1 677.5 L351.0 677.8 L348.3 678.9 L345.5 679.9 L343.3 680.9 L341.0 681.8 L339.1 683.7 L336.9 685.5 L335.0 687.0 L333.0 688.2 L331.1 689.4 L329.1 690.8 L326.8 692.2 L324.3 693.2 L322.0 694.2 L319.3 695.2 L316.7 696.3 L314.5 696.8 L312.4 697.9 L310.0 698.8 L307.1 700.1 L305.1 700.9 L303.1 701.4 L300.8 702.1 L298.3 702.9 L296.0 704.0 L293.9 704.6 L291.4 705.4 L289.3 706.2 L287.0 707.0 L285.0 707.8 L282.9 708.4 L280.8 708.7 L278.7 709.5 L276.4 710.0 L274.4 710.8 L272.2 711.4 L270.0 711.8 L268.0 712.5 L265.8 713.1 L263.6 713.9 L261.3 714.8 L259.1 715.3 L256.8 716.0 L254.5 716.5 L252.2 717.2 L250.0 718.1 L247.8 718.8 L245.6 719.2 L243.3 719.7 L241.2 720.1 L238.9 720.5 L236.9 721.1 L234.7 722.0 L232.4 722.5 L230.2 722.9 L227.9 723.4 L225.7 723.9 L223.6 724.2 L221.4 724.7 L219.1 725.0 L216.8 725.6 L214.4 726.0 L212.3 726.5 L210.0 727.0 L207.9 727.5 L205.8 728.0 L203.4 728.6 L201.3 729.0 L199.2 729.6 L196.8 729.8 L194.6 730.2 L192.3 730.8 L190.2 731.4 L187.8 732.2 L185.4 732.9 L183.0 733.6 L180.7 734.3 L178.2 734.9 L176.1 735.6 L174.1 736.3 L171.8 737.2 L169.9 738.0 L167.6 739.1 L165.5 740.4 L163.5 741.6 L161.7 742.8 L159.9 744.1 L158.9 745.9 L157.7 748.2 L156.7 750.4 L155.8 752.4 L155.0 754.0 L151.5 762.0 L151.0 763.4 L150.1 764.9 L150.3 766.3 L149.9 767.7 L149.2 769.1 L148.8 770.6 L148.1 772.0 L146.5 772.8 L144.9 773.6 L143.4 774.4 L142.0 775.2 L140.7 776.0 L141.3 777.3 L141.8 778.7 L142.5 780.0 L142.9 781.3 L143.0 782.7 L143.4 784.0 L144.9 785.1 L145.3 786.3 L146.2 787.4 L147.3 788.6 L148.6 789.7 L148.9 790.9 L149.7 792.0 L150.8 793.0 L151.9 794.0 L153.3 795.0 L154.8 796.0 L156.0 797.0 L157.8 798.0 L158.9 799.0 L158.9 800.0 L158.7 801.3 L159.1 802.7 L159.4 804.0 L160.2 805.3 L160.8 806.7 L161.5 808.0 L161.2 809.5 L161.2 810.9 L161.1 812.4 L160.8 813.8 L160.7 815.3 L159.9 816.7 L159.9 818.2 L159.8 819.6 L160.3 821.1 L159.6 822.5 L158.8 824.0 L158.3 825.5 L157.9 826.9 L157.3 828.4 L156.6 829.8 L156.2 831.3 L155.5 832.7 L155.7 834.2 L155.0 835.6 L155.2 837.1 L155.5 838.5 L155.4 840.0 L155.4 841.4 L155.0 842.8 L154.7 844.2 L153.7 845.6 L152.7 847.0 L152.1 848.4 L151.8 849.8 L151.8 851.2 L150.9 852.6 L150.5 854.0 L150.0 855.4 L150.0 856.8 L149.3 858.2 L149.2 859.6 L148.5 861.0 L147.8 862.4 L147.3 863.8 L146.6 865.2 L145.9 866.6 L146.0 868.0 L146.0 869.5 L146.8 871.0 L146.6 872.5 L146.4 874.0 L145.8 875.5 L145.3 877.0 L144.5 878.5 L144.0 880.0 L144.4 881.4 L144.0 882.8 L143.7 884.2 L143.7 885.6 L143.3 887.0 L142.8 888.4 L143.1 889.8 L142.6 891.2 L142.0 892.6 L141.5 894.0 L141.0 895.4 L140.9 896.9 L140.8 898.3 L140.1 899.7 L139.5 901.1 L138.4 902.6 L137.8 904.0 L136.7 904.7 L134.9 905.4 L133.4 906.1 L131.8 906.9 L130.3 907.6 L129.1 908.3 L127.4 909.0 L126.7 909.9 L125.8 910.8 L124.8 911.6 L123.1 912.5 L121.3 913.4 L120.1 914.2 L119.1 915.1 L117.9 916.0 L116.8 917.3 L115.8 918.7 L114.6 920.0 L115.9 921.0 L117.0 922.0" fill="none" stroke="#ff7f0e" stroke-opacity="0.5" stroke-width="1.4" stroke-linejoin="round"/>
<path d="M111.0 923.0 L105.0 926.4 L100.0 926.0" fill="none" stroke="#ff7f0e" stroke-opacity="0.5" stroke-width="1.4" stroke-linejoin="round"/>
<path d="M174.0 138.0 L178.0 138.4" fill="none" stroke="#2ca02c" stroke-opacity="0.5" stroke-width="1.4" stroke-linejoin="round"/>
<path d="M168.0 141.0 L170.0 144.0 L174.0 145.6" fill="none" stroke="#2ca02c" stroke-opacity="0.5" stroke-width="1.4" stroke-linejoin="round"/>
<path d="M170.0 150.0 L182.0 153.6" fill="none" stroke="#2ca02c" stroke-opacity="0.5" stroke-width="1.4" stroke-linejoin="round"/>
<path d="M154.3 154.0 L153.4 155.3 L153.3 156.7 L151.6 158.0 L151.0 159.3 L150.0 160.7 L149.0 162.0 L150.5 163.3 L150.7 164.7 L151.9 166.0 L152.2 167.2 L151.5 168.4 L150.1 169.6 L150.7 170.8 L148.9 172.0 L148.5 173.1 L149.1 174.3 L149.2 175.4 L149.8 176.6 L150.6 177.7 L153.2 178.9 L153.7 180.0 L154.1 181.6 L154.8 183.2 L156.3 184.8 L155.6 186.4 L155.1 188.0 L155.3 189.0 L152.2 190.0 L152.5 191.6 L153.7 193.2 L155.7 194.8 L154.7 196.4 L153.1 198.0 L153.2 199.3 L152.1 200.7 L151.1 202.0 L152.0 203.4 L152.8 204.9 L153.8 206.3 L154.4 207.7 L156.3 209.1 L157.9 210.6 L158.2 212.0 L158.6 213.0 L160.0 214.0 L161.0 215.0 L161.0 216.0 L161.8 217.0 L163.5 218.0 L164.3 219.0 L165.0 220.0 L166.3 221.0 L167.2 222.0 L168.4 222.9 L168.3 223.8 L170.8 224.7 L171.7 225.6 L172.0 226.5 L173.5 227.5 L174.3 228.4 L174.9 229.3 L176.2 230.2 L178.0 231.1 L178.6 232.0 L179.8 233.0 L181.3 234.0 L181.0 235.0 L181.6 236.0 L180.4 236.2 L177.8 236.3 L176.5 236.5 L175.9 236.7 L174.9 236.8 L173.4 237.0 L173.5 237.8 L176.4 238.5 L177.6 239.2 L179.0 240.0 L179.2 241.6 L178.0 243.2 L177.4 244.8 L177.2 246.4 L178.8 248.0 L179.8 248.3 L181.2 248.6 L182.7 248.9 L184.7 249.2 L186.4 249.5 L187.9 249.8 L188.7 250.1 L188.8 250.4 L191.1 250.7 L193.2 251.0 L192.7 251.7 L191.3 252.3 L189.6 253.0 L188.6 253.7 L186.4 254.3 L184.9 255.0 L183.6 256.5 L183.0 258.0 L183.3 259.2 L182.5 260.4 L182.0 261.6 L181.0 262.8 L180.3 264.0 L179.8 265.6 L179.5 267.2 L178.2 268.8 L177.7 270.4 L177.0 272.0 L177.8 273.5 L178.2 275.0 L178.7 276.5 L179.0 278.0 L179.4 278.0 L177.2 278.8 L177.3 279.7 L175.0 280.5 L172.1 281.3 L170.8 282.2 L169.2 283.0 L168.3 283.8 L168.8 284.7 L167.7 285.5 L168.7 286.3 L166.7 287.2 L166.1 288.0 L164.9 289.2 L161.9 290.4 L161.7 291.6 L161.5 292.8 L161.6 294.0 L159.0 295.2 L159.7 296.4 L160.2 297.6 L158.2 298.8 L158.2 300.0 L159.1 301.3 L156.2 302.7 L156.3 304.0 L153.1 305.3 L153.0 306.7 L153.6 308.0 L152.8 309.5 L153.4 311.0 L151.8 312.5 L152.3 314.0 L151.9 315.2 L152.7 316.4 L151.8 317.6 L152.0 318.8 L150.9 320.0 L150.7 321.3 L151.7 322.7 L152.7 324.0 L153.2 325.3 L155.0 326.7 L155.1 328.0 L155.6 329.4 L156.2 330.9 L155.2 332.3 L154.7 333.7 L154.0 335.1 L151.8 336.6 L153.0 338.0 L152.9 339.3 L154.0 340.7 L151.7 342.0 L154.7 343.3 L155.3 344.7 L155.6 346.0 L155.7 347.4 L156.5 348.8 L154.1 350.2 L154.9 351.6 L153.0 353.0 L153.9 354.4 L153.7 355.8 L154.2 357.2 L154.1 358.6 L152.3 360.0 L151.4 361.5 L151.4 363.0 L150.2 364.5 L149.5 366.0 L148.2 367.5 L149.0 369.0 L151.4 370.5 L151.8 372.0 L151.8 373.5 L150.6 375.0 L150.5 376.5 L151.4 377.9 L150.7 379.4 L150.6 380.8 L149.6 382.3 L149.0 383.8 L149.1 385.2 L148.7 386.7 L148.3 388.2 L148.7 389.6 L148.2 391.1 L146.3 392.5 L147.1 394.0 L147.9 395.3 L147.3 396.7 L146.3 398.0 L145.3 399.3 L144.9 400.7 L145.2 402.0 L146.0 403.3 L145.6 404.7 L144.8 406.0 L144.2 407.4 L144.5 408.9 L144.1 410.3 L145.8 411.7 L146.1 413.1 L146.2 414.6 L147.9 416.0 L149.1 417.4 L148.9 418.9 L147.9 420.3 L149.2 421.7 L149.0 423.1 L149.8 424.6 L149.4 426.0 L149.8 427.5 L150.5 429.0 L150.7 430.5 L150.9 432.0 L152.4 433.5 L152.2 435.0 L153.1 436.5 L153.0 438.0 L152.8 439.3 L153.1 440.7 L153.0 442.0 L153.3 443.3 L154.0 444.7 L154.7 446.0 L154.7 447.3 L155.8 448.7 L156.2 450.0 L157.5 451.3 L157.1 452.7 L158.9 454.0 L159.0 455.3 L159.8 456.7 L160.4 458.0 L159.9 459.3 L160.6 460.7 L162.0 462.0 L163.3 463.1 L163.5 464.2 L164.8 465.3 L165.6 466.4 L165.5 467.6 L166.8 468.7 L167.3 469.8 L167.3 470.9 L168.9 472.0 L170.2 473.0 L171.2 474.0 L171.9 475.0 L173.2 476.0 L175.3 477.0 L175.8 478.7 L176.0 480.3 L176.4 482.0 L176.7 484.0 L177.0 486.0 L176.7 487.4 L177.0 488.8 L177.8 490.2 L178.5 491.6 L178.4 493.0 L178.7 494.4 L179.5 495.8 L179.2 497.2 L179.4 498.6 L179.9 500.0 L181.1 501.1 L182.0 502.2 L182.6 503.3 L183.8 504.4 L185.1 505.6 L185.6 506.7 L186.2 507.8 L187.0 508.9 L188.5 510.0 L189.0 511.4 L189.3 512.8 L190.5 514.2 L191.5 515.6 L192.0 517.0 L193.0 528.0 L194.8 529.0 L197.0 530.1 L199.5 531.4 L201.9 532.7 L204.1 534.0 L206.0 536.0 L207.2 537.9 L208.2 540.1 L208.1 542.7 L207.8 545.5 L207.9 548.3 L209.6 549.7 L211.4 551.2 L213.9 552.7 L216.0 554.0 L218.2 555.1 L220.8 555.9 L223.5 556.8 L225.7 558.1 L227.5 559.7 L229.0 561.6 L230.4 563.7 L232.4 565.9 L234.0 568.1 L235.7 569.3 L237.6 570.2 L239.7 571.3 L242.0 572.6 L243.9 573.7 L245.9 574.6 L248.0 575.6 L249.8 576.9 L251.9 577.8 L254.1 578.9 L256.4 579.8 L258.2 580.8 L260.0 581.9 L262.1 582.7 L264.1 583.9 L266.4 584.9 L268.8 585.8 L271.3 586.9 L273.6 587.8 L275.6 588.9 L277.8 590.2 L279.6 592.1 L281.7 593.9 L283.5 596.2 L285.1 598.2 L286.9 599.7 L289.1 600.8 L291.9 601.6 L294.4 602.3 L296.8 603.3 L298.8 604.2 L300.6 605.5 L302.7 607.0 L304.5 608.7 L306.8 610.0 L308.6 610.8 L310.9 611.5 L313.1 612.1 L315.3 612.8 L317.6 613.6 L319.8 614.6 L322.4 615.6 L324.6 616.3 L326.9 617.3 L329.2 618.1 L331.5 619.0 L333.8 619.8 L335.9 620.7 L338.2 621.6 L340.5 622.4 L342.6 623.3 L344.8 624.1 L347.2 624.9 L349.1 625.8 L351.4 626.5 L353.7 626.9 L355.9 627.7 L358.1 628.2 L360.6 628.7 L362.9 629.5 L365.1 630.2 L367.2 631.2 L369.5 631.9 L371.6 632.8 L373.6 633.4 L375.9 634.0 L377.9 634.8 L380.1 635.7 L382.3 636.5 L384.5 637.2 L386.8 638.1 L389.2 638.8 L391.5 639.5 L393.7 640.3 L396.0 641.3 L398.2 641.9 L400.4 642.7 L402.8 643.4 L405.1 644.3 L407.2 645.0 L409.1 645.8 L411.3 646.5 L413.3 646.9 L415.6 647.5 L417.5 648.2 L419.7 648.8 L421.8 649.3 L424.1 649.9 L426.2 650.7 L428.4 651.4 L430.5 651.7 L432.6 652.6 L434.9 653.2 L437.2 654.1 L439.7 654.8 L441.9 655.5 L444.0 656.1 L446.5 656.9 L448.5 657.5 L451.1 658.1 L453.3 658.6 L455.8 659.3 L457.9 660.1 L460.0 660.8 L462.0 661.6 L463.9 662.4 L466.6 663.2 L468.6 664.2 L470.6 665.1 L472.4 665.9 L473.8 666.9 L476.3 668.4 L477.9 669.7 L477.7 671.7 L475.8 673.9 L473.9 674.7 L471.6 675.5 L469.2 676.4 L466.6 677.1 L464.0 678.1 L462.0 678.4 L459.8 678.5 L457.6 679.1 L455.3 679.4 L452.7 679.8 L450.4 679.8 L448.1 680.3 L446.1 680.4 L444.0 680.9 L441.0 681.6 L438.6 682.0 L436.4 682.6 L434.1 682.9 L431.6 683.2 L429.3 683.3 L426.8 683.6 L423.9 683.8 L421.7 684.3 L419.6 684.8 L417.0 685.0 L414.5 685.4 L412.2 685.9 L409.8 686.3 L407.0 686.9 L404.9 687.8 L402.7 688.5 L400.3 689.4 L398.3 690.1 L396.0 690.9 L393.7 691.7 L391.5 692.5 L389.2 693.2 L387.0 693.8 L384.7 694.3 L382.5 694.6 L380.4 694.9 L378.2 695.3 L375.8 695.6 L373.5 696.0 L371.2 696.3 L369.2 696.5 L367.0 697.0 L364.6 697.6 L362.3 697.9 L360.2 698.2 L357.9 698.4 L355.8 698.8 L353.5 699.2 L351.5 699.4 L349.4 699.9 L347.1 700.3 L344.7 700.4 L342.5 700.7 L340.2 700.9 L338.0 701.2 L335.7 701.7 L333.5 701.8 L331.2 702.2 L329.2 702.6 L326.8 702.9 L324.6 703.5 L322.5 704.1 L320.2 704.7 L317.8 705.2 L315.4 705.9 L313.1 706.3 L311.0 706.9 L309.0 707.4 L307.0 708.0 L304.4 709.0 L302.2 710.0 L300.7 710.6 L298.9 711.8 L298.1 714.6 L297.9 717.9 L298.8 720.0 L300.0 722.1 L300.9 723.9 L302.9 726.9 L301.5 728.1 L299.2 729.0 L297.0 730.2 L294.9 731.1 L292.4 732.2 L289.9 733.1 L287.0 734.2 L284.8 734.7 L282.5 735.3 L280.0 735.8 L277.7 736.2 L275.2 736.8 L272.5 737.3 L270.1 737.8 L268.0 738.0 L265.9 738.4 L263.6 738.9 L261.4 739.1 L259.1 739.4 L257.0 739.8 L254.7 740.2 L252.5 740.7 L250.1 741.2 L247.7 741.4 L245.5 741.7 L243.2 742.1 L241.2 742.7 L238.8 743.0 L236.7 743.5 L234.5 744.2 L232.5 744.5 L230.2 744.9 L227.9 745.7 L225.7 746.1 L223.4 746.7 L221.0 747.2 L218.6 747.9 L216.4 748.2 L214.4 748.8 L212.3 749.3 L209.9 749.7 L207.8 750.1 L205.6 750.9 L203.5 751.6 L201.4 751.9 L198.9 752.5 L196.9 752.8 L194.6 753.3 L192.1 753.7 L190.0 754.4 L187.7 754.6 L185.5 755.1 L182.9 755.7 L180.5 756.5 L178.2 756.9 L175.9 757.4 L174.1 758.0 L171.8 758.6 L170.0 759.2 L167.3 760.5 L165.9 762.1 L165.3 764.4 L164.6 767.0 L164.1 769.9 L163.8 771.9 L163.5 774.2 L163.4 776.7 L163.4 779.2 L163.2 781.6 L163.1 784.1 L162.8 786.3 L162.7 788.6 L162.7 790.8 L162.5 793.0 L162.1 795.4 L161.9 797.6 L161.9 800.0 L162.1 802.2 L162.1 804.6 L162.4 807.0 L162.6 809.4 L162.7 811.8 L163.1 814.0 L163.6 816.1 L163.8 818.4 L164.0 820.0 L164.4 844.0 L164.5 845.5 L164.0 846.9 L164.3 848.4 L164.2 849.8 L164.2 851.3 L163.8 852.7 L163.7 854.2 L163.3 855.6 L163.3 857.1 L162.6 858.5 L162.7 860.0 L162.3 861.3 L161.5 862.7 L161.4 864.0 L160.7 865.3 L160.7 866.7 L159.9 868.0 L159.2 869.3 L158.9 870.7 L159.5 872.0 L158.2 873.3 L157.5 874.7 L156.9 876.0 L156.6 877.3 L155.5 878.7 L155.7 880.0 L154.6 881.3 L154.8 882.7 L154.3 884.0 L154.2 885.5 L154.6 886.9 L154.2 888.4 L154.4 889.8 L154.1 891.3 L154.0 892.7 L154.0 894.2 L154.5 895.6 L155.4 897.1 L155.4 898.5 L156.0 900.0 L156.1 901.3 L156.6 902.7 L157.0 904.0 L157.0 905.3 L157.4 906.7 L157.7 908.0 L157.1 909.5 L155.9 911.0 L155.7 912.5 L155.9 914.0 L154.2 915.0 L153.3 916.0 L152.4 917.0 L151.5 918.0 L150.6 919.0 L149.7 920.0 L148.4 921.0 L147.4 922.0 L146.2 923.0 L144.9 924.0 L144.0 925.0 L143.3 926.0 L142.5 927.0 L141.5 928.0 L140.6 929.0 L140.0 930.0 L138.9 931.0 L137.9 932.0 L137.4 932.9 L135.8 933.7 L134.5 934.6 L133.4 935.4 L131.4 936.3 L130.3 937.1 L129.3 938.0 L128.4 938.8 L127.1 939.5 L126.0 940.2 L125.0 941.0" fill="none" stroke="#2ca02c" stroke-opacity="0.5" stroke-width="1.4" stroke-linejoin="round"/>
<path d="M163.9 178.0 L166.7 179.4 L165.3 180.8 L169.1 182.2 L168.2 183.7 L171.6 185.1 L169.9 186.5 L167.6 187.9 L165.7 189.3 L167.1 190.8 L169.6 192.2 L172.2 193.6 L171.4 195.0 L167.8 196.4 L167.1 197.9 L162.2 199.3 L162.5 200.7 L160.3 202.1 L163.5 203.6 L164.9 205.0 L164.9 206.4 L162.7 207.9 L164.1 209.3 L164.4 210.7 L162.6 212.1 L161.2 213.6 L163.6 215.0 L162.6 216.4 L163.8 217.9 L166.6 219.3 L163.6 220.7 L167.3 222.1 L167.9 223.6 L165.0 225.0 L162.3 226.4 L159.9 227.9 L161.9 229.3 L157.8 230.7 L161.4 232.1 L163.0 233.6 L163.2 235.0 L163.6 236.4 L164.0 237.9 L164.1 239.3 L165.4 240.7 L163.1 242.1 L164.3 243.6 L164.7 245.0 L163.1 246.4 L163.5 247.9 L162.2 249.3 L162.2 250.7 L162.6 252.1 L164.6 253.6 L162.6 255.0 L161.3 256.4 L161.0 257.9 L161.0 259.3 L160.3 260.7 L164.7 262.1 L164.6 263.6 L165.0 265.0 L165.3 266.4 L167.2 267.9 L171.0 269.3 L173.0 270.7 L171.5 272.1 L169.7 273.6 L168.3 275.0 L166.2 276.4 L167.3 277.9 L167.0 279.3 L169.4 280.7 L167.6 282.1 L165.3 283.6 L162.6 285.0 L160.9 286.4 L162.9 287.9 L163.9 289.3 L163.0 290.7 L162.1 292.1 L163.8 293.6 L163.8 295.0 L164.3 296.4 L163.8 297.9 L162.0 299.3 L159.5 300.7 L160.0 302.1 L160.4 303.6 L161.0 305.0 L162.6 306.4 L163.8 307.9 L163.1 309.3 L163.9 310.7 L161.2 312.1 L162.8 313.6 L162.9 315.0 L164.0 316.4 L164.8 317.9 L163.3 319.3 L163.5 320.7 L165.1 322.1 L163.9 323.6 L163.6 325.0 L162.1 326.4 L162.0 327.9 L161.3 329.3 L159.3 330.7 L157.6 332.1 L155.8 333.6 L158.4 335.0 L159.0 336.4 L159.3 337.9 L159.7 339.3 L159.4 340.7 L160.7 342.1 L161.3 343.6 L158.6 345.0 L159.4 346.4 L160.1 347.9 L160.4 349.3 L161.1 350.7 L163.2 352.1 L162.9 353.6 L163.4 355.0 L163.1 356.4 L160.2 357.9 L161.8 359.3 L161.4 360.7 L161.0 362.1 L162.4 363.6 L164.9 365.0 L163.7 366.4 L163.0 367.9 L163.5 369.3 L161.4 370.7 L160.5 372.1 L160.9 373.6 L161.7 375.0 L162.1 376.4 L162.8 377.9 L163.5 379.3 L162.4 380.7 L161.8 382.1 L161.2 383.6 L160.5 385.0 L161.3 386.4 L161.5 387.9 L159.1 389.3 L160.2 390.7 L159.7 392.1 L159.6 393.6 L161.9 395.0 L163.0 396.4 L163.2 397.9 L162.5 399.3 L162.7 400.7 L159.9 402.1 L159.8 403.6 L158.5 405.0 L157.8 406.4 L156.7 407.9 L158.8 409.3 L160.3 410.7 L160.4 412.1 L159.0 413.6 L158.7 415.0 L157.7 416.4 L157.9 417.9 L159.8 419.3 L161.2 420.7 L161.6 422.1 L162.0 423.6 L161.4 425.0 L161.3 426.4 L160.5 427.9 L160.2 429.3 L159.0 430.7 L159.4 432.1 L158.8 433.6 L159.0 435.0 L159.0 436.4 L160.6 437.9 L161.1 439.3 L160.2 440.7 L159.5 442.1 L160.1 443.6 L160.1 445.0 L159.9 446.4 L160.3 447.9 L161.8 449.3 L161.6 450.7 L162.7 452.1 L162.0 453.6 L161.7 455.0 L162.0 456.4 L161.9 457.7 L161.6 459.1 L161.2 460.5 L161.7 461.8 L162.4 463.2 L163.4 464.5 L165.1 465.9 L166.2 467.3 L167.4 468.6 L167.6 470.0 L168.1 471.3 L168.6 472.7 L169.0 474.0 L169.6 475.3 L169.2 476.7 L169.7 478.0 L170.2 479.3 L171.3 480.7 L171.8 482.0 L171.4 483.4 L171.8 484.9 L172.2 486.3 L172.2 487.7 L173.0 489.1 L173.3 490.6 L173.0 492.0 L174.4 493.1 L175.9 494.1 L176.5 495.2 L178.0 496.2 L177.7 497.3 L180.1 498.4 L180.2 499.4 L181.1 500.5 L181.9 501.5 L182.3 502.6 L183.6 503.6 L184.2 504.7 L184.8 505.8 L185.2 506.8 L187.1 507.9 L188.8 508.9 L189.6 510.0 L190.8 510.9 L192.5 511.9 L193.4 512.8 L194.7 513.8 L195.7 514.7 L196.7 515.7 L197.6 516.6 L198.8 517.6 L199.6 518.5 L200.6 519.5 L201.4 520.4 L202.0 521.4 L203.1 522.3 L204.5 523.3 L206.1 524.2 L207.1 525.2 L207.7 526.1 L209.1 527.1 L210.5 528.0 L211.4 529.0 L212.3 530.0 L213.2 531.0 L214.1 532.0 L215.3 533.0 L216.0 534.0 L216.9 535.0 L217.7 536.0 L218.8 537.0 L219.9 538.0 L221.0 539.0 L222.3 540.0 L223.5 541.0 L224.3 542.0 L225.4 543.0 L226.4 544.0 L227.4 545.0 L228.5 546.0 L229.6 547.0 L230.5 548.0 L231.8 549.0 L232.9 550.0 L233.8 551.0 L234.8 552.0 L236.1 553.0 L237.2 554.0 L238.0 555.0 L253.8 562.1 L255.6 562.7 L257.8 563.4 L260.2 564.3 L262.8 565.3 L265.3 566.5 L267.7 567.2 L270.1 568.1 L272.2 568.7 L274.2 569.6 L276.2 570.2 L278.5 570.9 L280.6 571.4 L282.6 572.1 L284.7 572.6 L286.8 573.7 L288.5 575.0 L290.7 576.2 L292.4 577.6 L294.3 578.9 L296.0 580.2 L297.7 581.6 L299.7 582.9 L301.3 584.4 L303.2 585.6 L305.0 586.9 L306.9 587.9 L309.3 589.0 L311.5 589.8 L313.7 590.7 L315.6 591.7 L317.9 592.6 L320.2 593.5 L322.4 594.4 L324.5 595.3 L326.9 596.2 L329.2 597.1 L331.6 597.9 L333.8 598.7 L335.9 599.4 L338.1 600.4 L340.2 601.3 L342.4 602.3 L344.7 603.0 L347.1 603.8 L349.3 604.9 L351.5 605.9 L353.5 607.0 L355.7 607.8 L358.0 608.7 L360.2 609.5 L362.6 610.3 L364.8 611.4 L367.2 612.2 L369.1 613.1 L371.6 613.9 L373.6 614.5 L375.8 615.3 L378.0 616.0 L380.4 616.7 L382.6 617.3 L384.8 618.3 L387.1 619.0 L389.6 619.7 L391.6 620.3 L393.8 620.8 L396.0 621.3 L398.3 622.0 L400.5 622.6 L402.6 623.2 L404.6 623.6 L406.7 624.0 L409.4 624.7 L412.1 625.2 L414.4 625.8 L416.7 626.5 L419.0 627.1 L421.4 627.6 L423.9 628.4 L426.1 628.9 L428.2 629.5 L430.4 630.0 L432.5 630.8 L434.8 631.4 L437.0 632.0 L439.3 632.6 L441.7 633.1 L444.0 633.8 L446.1 634.6 L448.5 635.2 L450.9 636.0 L453.1 636.7 L455.3 637.4 L457.4 637.7 L459.6 638.6 L462.0 639.3 L464.2 639.8 L466.4 640.7 L468.6 641.6 L470.9 642.4 L473.4 643.2 L475.4 643.7 L477.3 644.7 L479.7 645.3 L481.7 646.2 L484.0 647.0 L486.2 647.7 L488.6 648.6 L491.1 649.3 L493.3 650.1 L495.6 651.0 L498.0 651.8 L500.1 652.6 L502.2 653.6 L504.1 653.9 L507.6 656.1 L506.3 658.0 L504.2 660.0 L501.5 661.0 L498.1 661.9 L496.1 662.3 L493.9 662.5 L491.6 662.8 L489.2 663.2 L486.6 663.5 L484.0 663.9 L482.0 664.2 L479.7 664.5 L477.7 664.7 L475.6 665.0 L473.2 665.5 L470.9 666.0 L468.6 666.4 L466.3 666.8 L463.9 667.3 L461.9 667.3 L459.5 667.8 L457.0 668.0 L454.9 668.2 L452.8 668.2 L450.3 668.2 L448.3 668.4 L446.0 668.5 L443.9 669.0 L441.7 669.1 L439.5 669.4 L437.3 669.6 L434.9 669.8 L432.7 670.2 L430.7 670.6 L428.3 670.6 L426.3 670.9 L424.1 671.1 L421.6 671.3 L419.1 671.8 L416.7 671.9 L414.4 672.1 L412.1 672.5 L409.5 672.6 L407.3 673.2 L405.0 673.4 L403.1 673.7 L400.6 674.1 L398.2 674.5 L395.9 674.8 L393.7 675.3 L391.5 675.7 L389.4 675.9 L387.1 676.3 L384.8 676.4 L382.6 676.7 L380.2 677.0 L378.0 677.3 L375.9 677.5 L373.6 678.0 L371.3 678.4 L369.2 678.5 L367.0 678.7 L364.2 679.3 L362.1 679.8 L359.7 680.5 L357.5 681.0 L355.4 681.5 L353.1 682.2 L350.5 682.7 L348.0 683.7 L345.5 684.3 L342.9 685.3 L341.0 685.9 L338.9 686.7 L336.9 687.8 L335.2 688.9 L333.9 690.9 L333.1 693.4 L332.0 695.8 L331.1 698.0 L329.8 700.0 L328.5 702.2 L327.0 704.1 L325.3 705.4 L323.4 706.6 L321.3 707.8 L319.1 708.7 L317.1 709.9 L314.5 710.6 L312.1 711.4 L309.4 712.2 L307.0 712.9 L304.4 713.5 L301.9 714.0 L299.3 714.3 L297.0 715.1 L294.7 715.8 L292.3 716.6 L289.7 717.4 L286.8 718.0 L284.5 718.0 L282.4 718.2 L280.1 718.3 L277.8 718.6 L275.5 718.6 L272.8 718.8 L270.0 719.1 L267.9 719.5 L265.8 719.9 L263.8 720.3 L261.4 720.8 L259.0 721.2 L256.8 721.6 L254.3 722.0 L252.4 722.5 L250.0 723.1 L247.7 723.4 L245.5 724.0 L243.2 724.5 L241.0 725.1 L239.1 725.9 L236.7 726.4 L234.5 726.9 L232.3 727.5 L230.2 728.0 L227.8 728.5 L225.7 728.8 L223.4 729.5 L221.0 729.7 L218.9 730.4 L216.5 730.8 L214.5 731.6 L212.2 732.0 L209.9 732.6 L207.9 733.3 L205.8 733.8 L203.4 734.1 L200.9 734.4 L198.8 734.9 L196.2 735.4 L194.1 736.0 L191.9 736.6 L190.0 737.1 L187.6 738.4 L185.5 739.3 L184.0 740.5 L181.8 741.9 L180.1 743.3 L178.4 745.3 L176.7 747.2 L174.9 748.9 L173.1 750.4 L171.4 752.0 L169.9 753.9 L168.2 756.1 L166.5 757.8 L164.8 759.7 L163.4 761.7 L162.1 764.0 L161.4 765.9 L160.7 768.3 L159.9 770.4 L159.5 772.8 L159.0 775.2 L158.6 777.6 L158.0 780.2 L157.7 782.3 L157.7 784.3 L157.5 786.6 L157.4 788.7 L157.3 791.0 L157.2 793.3 L157.0 795.4 L157.0 797.7 L157.0 800.0 L157.0 802.2 L157.5 804.8 L157.5 807.4 L157.9 809.6 L158.1 812.2 L158.4 814.3 L158.7 816.5 L158.9 818.3 L159.0 820.0 L160.5 830.0 L159.6 831.4 L159.7 832.8 L159.9 834.2 L158.8 835.6 L158.4 837.0 L157.4 838.4 L156.6 839.8 L156.3 841.2 L155.8 842.6 L155.4 844.0 L155.4 845.5 L155.2 846.9 L155.4 848.4 L155.3 849.8 L155.0 851.3 L154.8 852.7 L154.4 854.2 L154.3 855.6 L154.4 857.1 L154.4 858.5 L154.2 860.0 L154.2 861.4 L154.2 862.9 L153.2 864.3 L152.9 865.7 L152.2 867.1 L151.8 868.6 L151.6 870.0 L151.7 871.4 L151.7 872.9 L151.7 874.3 L151.5 875.7 L151.4 877.1 L151.2 878.6 L150.6 880.0 L150.4 881.5 L150.1 882.9 L150.1 884.4 L150.0 885.8 L149.9 887.3 L149.0 888.7 L148.6 890.2 L147.7 891.6 L146.7 893.1 L146.2 894.5 L145.5 896.0 L145.0 897.5 L144.6 899.0 L144.6 900.5 L144.3 902.0 L143.8 903.5 L143.8 905.0 L143.6 906.5 L143.1 908.0 L142.1 909.1 L141.4 910.2 L140.6 911.3 L140.2 912.4 L139.6 913.6 L138.6 914.7 L137.3 915.8 L136.5 916.9 L135.4 918.0 L134.7 919.3 L133.7 920.6 L133.1 921.9 L131.7 923.1 L131.1 924.4 L130.4 925.7 L130.0 927.0" fill="none" stroke="#d62728" stroke-opacity="0.5" stroke-width="1.4" stroke-linejoin="round"/>
<path d="M178.0 159.6 L194.0 160.4" fill="none" stroke="#9467bd" stroke-opacity="0.5" stroke-width="1.4" stroke-linejoin="round"/>
<path d="M129.0 155.4 L153.0 156.5" fill="none" stroke="#9467bd" stroke-opacity="0.5" stroke-width="1.4" stroke-linejoin="round"/>
<path d="M171.7 178.0 L173.1 178.6 L175.2 179.3 L176.2 179.9 L177.5 180.5 L178.7 181.2 L177.9 181.8 L181.0 182.5 L183.1 183.1 L185.0 183.7 L184.0 184.4 L184.0 185.0 L182.7 185.4 L181.8 185.7 L181.6 186.1 L180.5 186.4 L179.8 186.8 L177.4 187.1 L176.5 187.5 L175.4 187.9 L172.8 188.2 L173.4 188.6 L171.8 188.9 L170.8 189.3 L167.5 189.6 L164.7 190.0 L162.7 190.8 L161.0 191.6 L160.3 192.4 L158.8 193.2 L156.6 194.0 L154.3 194.8 L153.0 195.6 L153.8 196.4 L151.7 197.2 L151.3 198.0 L152.8 199.5 L151.8 201.0 L153.0 202.5 L155.0 204.0 L152.6 205.5 L153.1 207.0 L153.8 208.5 L153.8 210.0 L154.8 211.4 L154.8 212.8 L153.2 214.2 L154.2 215.6 L154.2 217.0 L154.0 218.4 L153.9 219.8 L152.5 221.2 L151.3 222.6 L149.2 224.0 L150.8 225.3 L151.1 226.7 L151.7 228.0 L151.5 229.3 L151.7 230.7 L152.2 232.0 L154.1 233.3 L152.0 234.7 L151.2 236.0 L152.5 237.4 L154.7 238.8 L155.5 240.2 L153.9 241.6 L152.7 243.0 L154.7 244.4 L155.0 245.8 L154.9 247.2 L156.8 248.6 L158.3 250.0 L159.0 251.2 L160.0 252.4 L161.4 253.6 L163.8 254.8 L165.0 256.0 L166.2 257.2 L167.3 258.4 L166.5 259.6 L168.5 260.8 L169.6 262.0 L169.9 263.3 L168.3 264.7 L168.6 266.0 L170.3 267.3 L169.6 268.7 L170.9 270.0 L173.0 271.3 L172.8 272.7 L175.1 274.0 L175.7 275.4 L175.6 276.8 L176.0 278.2 L176.8 279.6 L177.2 281.0 L178.6 282.4 L178.4 283.8 L178.9 285.2 L180.4 286.6 L180.6 288.0 L178.6 289.1 L178.1 290.3 L177.6 291.4 L175.3 292.6 L172.7 293.7 L171.7 294.9 L170.7 296.0 L171.7 297.0 L174.1 298.0 L174.3 299.0 L176.6 300.0 L176.7 301.0 L177.5 302.0 L179.5 303.0 L181.4 304.0 L180.7 305.0 L179.5 306.0 L178.3 307.0 L177.1 308.0 L176.4 309.0 L174.0 310.0 L174.0 310.0 L174.1 311.4 L174.1 312.7 L173.7 314.1 L174.8 315.5 L173.8 316.8 L171.2 318.2 L172.1 319.5 L170.8 320.9 L168.5 322.3 L168.5 323.6 L168.8 325.0 L169.9 326.4 L169.3 327.9 L168.9 329.3 L168.7 330.7 L168.5 332.1 L166.3 333.6 L168.2 335.0 L165.3 336.4 L164.0 337.9 L163.2 339.3 L164.2 340.7 L165.3 342.1 L165.5 343.6 L164.6 345.0 L165.2 346.4 L165.6 347.9 L164.8 349.3 L165.5 350.7 L165.6 352.1 L165.3 353.6 L164.5 355.0 L165.4 356.4 L163.6 357.9 L163.7 359.3 L163.9 360.7 L162.5 362.1 L162.8 363.6 L162.5 365.0 L162.1 366.4 L163.1 367.9 L161.8 369.3 L162.4 370.7 L164.2 372.1 L164.9 373.6 L163.5 375.0 L162.4 376.4 L161.8 377.9 L160.0 379.3 L161.1 380.7 L161.3 382.1 L160.0 383.6 L161.0 385.0 L160.5 386.4 L161.3 387.9 L161.5 389.3 L162.3 390.7 L163.9 392.1 L161.1 393.6 L160.3 395.0 L161.0 396.4 L162.4 397.9 L163.5 399.3 L163.7 400.7 L164.7 402.1 L163.7 403.6 L163.8 405.0 L163.0 406.4 L161.0 407.9 L159.4 409.3 L158.8 410.7 L156.9 412.1 L157.7 413.6 L155.9 415.0 L157.1 416.4 L156.9 417.9 L157.9 419.3 L157.2 420.7 L156.4 422.1 L156.4 423.6 L156.1 425.0 L157.5 426.4 L157.8 427.9 L158.5 429.3 L158.7 430.7 L157.4 432.1 L156.7 433.6 L157.6 435.0 L156.4 436.4 L155.4 437.9 L155.2 439.3 L154.9 440.7 L155.6 442.1 L156.9 443.6 L157.6 445.0 L157.5 446.4 L157.5 447.8 L157.8 449.2 L157.2 450.7 L157.1 452.1 L158.9 453.5 L159.4 454.9 L159.4 456.3 L159.1 457.8 L160.3 459.2 L160.1 460.6 L161.8 462.0 L161.7 463.3 L161.5 464.7 L159.9 466.0 L160.5 467.3 L160.9 468.7 L162.0 470.0 L162.7 471.3 L162.5 472.7 L162.7 474.0 L163.7 475.3 L164.5 476.7 L166.1 478.0 L166.6 479.3 L167.5 480.5 L168.4 481.8 L168.9 483.1 L170.9 484.4 L171.9 485.6 L172.0 486.9 L172.8 488.2 L173.7 489.5 L174.1 490.7 L174.6 492.0 L175.3 493.3 L176.3 494.6 L177.3 495.9 L177.8 497.2 L178.4 498.5 L179.4 499.8 L179.8 501.1 L180.5 502.4 L180.8 503.7 L182.2 505.0 L183.3 506.2 L184.9 507.4 L185.6 508.7 L186.2 509.9 L186.8 511.1 L187.0 512.3 L187.4 513.6 L188.5 514.8 L190.0 516.0 L210.1 528.0 L211.1 529.1 L212.6 530.5 L213.9 532.4 L215.2 534.2 L216.8 536.3 L218.4 538.3 L219.9 540.1 L221.3 541.8 L222.8 543.5 L224.5 545.3 L226.1 547.2 L227.9 549.0 L229.4 550.8 L230.9 552.6 L232.3 554.3 L233.9 555.9 L236.0 557.7 L238.1 559.4 L239.9 560.6 L241.8 562.1 L244.1 563.2 L246.2 564.9 L248.1 566.3 L249.9 567.6 L251.9 569.1 L253.7 570.5 L255.9 571.9 L258.1 573.4 L259.9 574.7 L261.9 575.9 L264.2 577.1 L266.1 578.6 L268.1 579.7 L270.0 580.6 L272.0 581.6 L273.8 583.0 L276.0 584.3 L278.1 585.7 L280.4 587.2 L282.6 588.7 L284.8 589.9 L286.9 591.2 L288.9 592.3 L291.0 593.6 L293.0 595.0 L295.3 596.3 L297.2 597.3 L299.1 598.3 L301.2 599.1 L303.0 599.9 L304.7 600.9 L307.2 602.2 L308.9 603.2 L310.6 604.0 L312.7 605.0 L314.4 605.9 L316.5 607.1 L318.7 608.0 L321.0 609.0 L322.9 610.3 L324.8 611.1 L327.1 611.9 L329.2 612.8 L331.6 613.6 L333.8 614.7 L336.0 615.3 L338.3 616.2 L340.3 616.8 L342.3 617.5 L344.5 618.2 L346.8 619.0 L349.1 619.7 L351.4 620.3 L353.8 621.1 L356.0 621.7 L358.3 622.4 L360.6 623.0 L362.7 623.5 L365.0 624.5 L367.3 625.1 L369.6 625.8 L371.5 626.3 L373.7 627.0 L376.0 627.7 L378.3 628.3 L380.3 628.8 L382.6 629.6 L384.9 630.3 L387.2 631.1 L389.4 631.6 L391.6 632.4 L393.9 632.9 L396.1 633.6 L398.3 634.3 L400.4 634.8 L402.6 635.2 L404.8 635.7 L406.8 636.4 L409.1 637.1 L411.4 637.7 L413.5 638.4 L415.4 638.9 L417.5 639.4 L419.6 639.6 L421.8 640.1 L424.1 640.7 L426.2 641.3 L428.2 642.0 L430.5 642.5 L432.8 643.3 L435.0 643.6 L437.5 644.2 L439.7 644.8 L441.9 645.3 L444.0 645.9 L446.3 646.6 L448.7 647.4 L450.7 648.1 L453.0 648.9 L455.3 649.5 L457.4 650.4 L459.6 651.4 L461.7 652.2 L463.9 652.8 L466.0 653.8 L468.4 654.8 L470.7 655.9 L472.9 657.0 L475.2 657.8 L477.4 658.9 L479.5 659.9 L481.8 661.0 L484.1 662.0 L486.2 662.9 L488.6 663.8 L490.8 664.5 L493.0 665.3 L495.3 666.1 L497.6 666.9 L499.6 667.7 L501.9 668.3 L503.9 669.2 L506.7 670.1 L509.6 670.6 L512.2 671.2 L514.6 671.5 L516.0 672.1 L514.5 672.5 L512.5 672.9 L509.8 672.9 L506.9 673.2 L503.9 673.7 L502.0 673.7 L500.0 673.8 L497.7 673.9 L495.2 674.1 L493.3 674.2 L490.7 674.1 L488.2 674.2 L486.0 674.5 L484.1 674.6 L482.0 674.7 L479.6 674.7 L477.6 674.8 L475.1 675.0 L472.8 675.4 L470.6 675.4 L468.3 675.6 L466.1 675.9 L463.9 676.1 L461.9 676.2 L459.7 676.2 L457.5 676.4 L455.0 676.5 L452.9 676.5 L450.6 676.5 L448.3 676.6 L445.9 676.7 L444.0 676.7 L441.8 676.7 L439.5 676.7 L437.3 676.8 L435.1 677.1 L433.0 677.2 L430.6 677.4 L428.5 677.3 L426.2 677.3 L424.1 677.6 L421.5 677.7 L419.0 678.0 L416.6 678.1 L414.4 678.3 L412.1 678.3 L409.6 678.7 L407.3 679.0 L404.9 679.1 L402.9 679.3 L400.7 679.4 L398.3 679.7 L396.2 680.1 L393.9 680.2 L391.5 680.3 L389.2 680.7 L386.9 680.9 L384.7 681.2 L382.7 681.7 L380.4 681.9 L378.2 682.3 L375.9 682.6 L373.7 683.1 L371.4 683.3 L369.1 683.6 L367.0 683.9 L364.6 684.3 L362.6 684.7 L360.2 684.8 L357.8 685.3 L355.5 685.7 L353.4 686.0 L351.3 686.3 L349.1 686.7 L347.0 687.1 L344.3 687.5 L341.9 688.2 L339.8 688.7 L337.6 689.0 L335.4 689.6 L333.1 690.1 L330.4 690.6 L327.8 691.0 L325.3 691.6 L322.9 692.1 L320.0 693.2 L317.6 694.1 L315.0 695.1 L313.3 696.5 L311.9 698.4 L310.3 700.4 L309.0 702.1 L307.5 704.1 L306.0 705.7 L304.8 707.8 L304.6 710.5 L304.3 713.3 L303.9 716.1 L301.9 718.0 L299.0 719.7 L297.1 720.0 L295.3 720.4 L293.2 720.4 L290.4 720.6 L287.1 720.7 L285.0 721.1 L283.1 721.3 L280.9 721.7 L278.9 722.2 L276.6 722.5 L274.2 722.6 L271.9 723.0 L269.5 723.3 L267.4 723.6 L264.8 724.1 L262.2 724.3 L259.8 724.6 L257.4 724.9 L255.1 725.2 L252.6 725.5 L250.1 725.8 L248.0 726.3 L245.7 726.8 L243.4 727.4 L241.0 727.6 L238.8 727.8 L236.7 728.5 L234.4 729.1 L232.2 729.5 L229.8 730.0 L227.6 730.5 L225.2 731.0 L222.9 731.4 L220.9 731.9 L218.6 732.5 L216.3 733.0 L214.2 733.2 L212.0 733.5 L209.8 733.8 L207.3 734.4 L205.0 735.0 L202.4 735.5 L200.1 736.1 L197.5 736.4 L195.0 737.0 L192.6 737.2 L190.3 737.9 L188.2 738.4 L186.0 738.8 L183.9 739.3 L181.8 739.6 L180.1 739.9 L176.5 741.2 L174.1 742.0 L172.1 742.8 L170.1 743.9 L167.7 745.7 L165.9 747.5 L164.1 749.7 L163.5 752.0 L162.7 754.5 L162.4 757.0 L161.9 760.0 L162.1 762.0 L162.1 764.0 L162.2 766.2 L162.2 768.4 L162.6 770.8 L162.7 773.2 L162.8 775.6 L163.1 777.8 L163.0 780.1 L162.8 782.2 L162.6 784.5 L162.5 786.6 L162.3 788.7 L162.0 791.1 L161.5 793.4 L161.4 795.7 L161.2 797.8 L161.1 800.2 L161.0 802.3 L160.8 804.7 L160.6 807.0 L160.5 809.4 L160.4 811.7 L160.4 814.0 L160.2 816.2 L160.0 818.1 L160.0 820.0 L158.8 826.0 L158.9 827.4 L158.0 828.8 L157.1 830.2 L156.4 831.5 L156.0 832.9 L156.3 834.3 L156.0 835.7 L155.8 837.1 L155.8 838.5 L154.9 839.8 L154.3 841.2 L154.1 842.6 L153.6 844.0 L153.4 845.5 L153.4 846.9 L153.5 848.4 L153.6 849.8 L153.5 851.3 L153.4 852.7 L153.1 854.2 L153.1 855.6 L152.8 857.1 L152.3 858.5 L152.0 860.0 L151.8 861.5 L151.8 862.9 L152.1 864.4 L152.1 865.8 L151.2 867.3 L151.1 868.7 L150.2 870.2 L150.1 871.6 L149.7 873.1 L149.7 874.5 L149.9 876.0 L149.2 877.5 L148.8 878.9 L149.2 880.4 L148.6 881.8 L148.8 883.3 L148.2 884.7 L147.5 886.2 L146.8 887.6 L146.1 889.1 L146.3 890.5 L146.5 892.0 L146.0 893.4 L145.6 894.8 L145.5 896.2 L144.6 897.6 L143.9 899.0 L143.1 900.4 L142.7 901.8 L142.3 903.2 L141.5 904.6 L142.1 906.0 L141.0 907.3 L140.8 908.5 L140.1 909.8 L139.3 911.1 L138.2 912.4 L137.4 913.6 L136.7 914.9 L135.6 916.2 L135.6 917.5 L134.6 918.7 L133.5 920.0 L133.7 921.2 L132.6 922.4 L132.3 923.6 L130.9 924.8 L130.0 926.0" fill="none" stroke="#9467bd" stroke-opacity="0.5" stroke-width="1.4" stroke-linejoin="round"/>
<path d="M169.6 79.6 L177.6 80.4" fill="none" stroke="#8c564b" stroke-opacity="0.5" stroke-width="1.4" stroke-linejoin="round"/>
<path d="M174.0 82.0 L181.0 83.0" fill="none" stroke="#8c564b" stroke-opacity="0.5" stroke-width="1.4" stroke-linejoin="round"/>
<path d="M162.3 84.0 L163.5 86.4 L164.6 87.0 L165.8 87.6 L163.9 87.8 L163.2 88.1 L162.4 88.3 L162.1 88.5 L160.6 88.8 L158.9 89.0 L157.7 90.3 L156.0 91.6 L155.2 92.7 L157.1 93.9 L157.7 95.0 L159.5 95.7 L160.9 96.3 L164.6 96.9 L166.3 97.6 L164.5 98.2 L161.9 98.7 L161.3 99.3 L159.1 99.8 L158.7 100.4 L158.8 101.5 L160.3 102.5 L162.3 103.6 L160.4 104.5 L159.3 105.5 L158.2 106.4 L160.3 107.5 L161.1 108.5 L163.1 109.6 L163.1 110.3 L160.1 111.0 L158.2 111.7 L157.5 112.4 L158.4 113.3 L159.0 114.1 L161.9 115.0 L161.1 116.0 L160.0 117.0 L158.7 118.0 L157.1 119.0 L156.7 120.1 L155.8 121.3 L157.8 122.4 L155.9 123.3 L155.1 124.1 L154.4 125.0 L154.8 126.3 L156.2 127.7 L159.0 129.0 L160.9 130.1 L160.9 131.3 L162.4 132.4 L163.8 133.4 L165.6 134.4 L167.2 135.4 L168.1 136.4 L169.3 137.1 L171.4 137.7 L171.7 138.3 L174.3 139.0 L175.8 139.8 L176.6 140.7 L177.6 141.6 L179.3 142.4 L177.6 143.8 L175.6 145.2 L175.9 146.6 L176.3 148.0 L174.8 149.0 L173.6 150.0 L172.5 151.0 L170.8 152.0 L170.4 153.0 L170.2 154.0 L170.1 156.0 L170.5 158.0 L168.5 159.3 L167.6 160.7 L165.8 162.0 L164.9 163.5 L164.5 165.0 L164.0 166.5 L164.1 168.0 L164.0 169.5 L162.6 171.0 L163.3 172.5 L161.7 174.0 L161.4 175.5 L161.3 177.0 L160.9 178.5 L161.0 180.0 L161.3 181.5 L161.2 183.0 L162.6 184.5 L163.2 186.0 L162.5 187.6 L162.4 189.2 L161.8 190.8 L161.3 192.4 L160.2 194.0 L160.5 195.6 L160.6 197.2 L161.9 198.8 L161.8 200.4 L162.8 202.0 L163.5 203.2 L164.9 204.4 L166.8 205.6 L166.7 206.8 L167.4 208.0 L167.4 209.2 L167.9 210.5 L168.7 211.8 L169.9 213.0 L169.7 214.2 L169.1 215.5 L167.6 216.8 L166.4 218.0 L165.6 219.5 L166.0 221.0 L165.9 222.5 L165.5 224.0 L164.7 225.5 L164.7 227.0 L164.4 228.5 L164.4 230.0 L164.8 231.5 L165.6 233.0 L166.0 234.5 L165.8 236.0 L165.3 237.5 L164.8 239.0 L164.0 240.5 L164.0 242.0 L165.5 243.6 L166.2 245.2 L165.9 246.8 L165.2 248.4 L165.2 250.0 L164.3 251.4 L164.0 252.8 L164.1 254.2 L163.6 255.6 L163.0 257.0 L162.2 257.0 L163.5 258.4 L160.7 259.9 L159.4 261.3 L160.2 262.8 L162.5 264.2 L162.9 265.6 L164.6 267.1 L166.8 268.5 L167.7 269.9 L167.1 271.4 L168.7 272.8 L171.8 274.2 L168.5 275.7 L167.7 277.1 L165.9 278.6 L164.0 280.0 L166.6 281.4 L166.5 282.9 L168.2 284.3 L166.4 285.7 L166.1 287.1 L161.2 288.6 L159.6 290.0 L159.3 291.4 L157.2 292.9 L157.9 294.3 L160.2 295.7 L162.0 297.1 L161.0 298.6 L161.4 300.0 L161.1 301.4 L162.4 302.9 L162.2 304.3 L161.2 305.7 L161.8 307.1 L162.5 308.6 L159.7 310.0 L160.8 311.4 L161.9 312.9 L162.3 314.3 L162.7 315.7 L162.0 317.1 L160.6 318.6 L161.1 320.0 L161.3 321.4 L161.2 322.9 L162.0 324.3 L163.5 325.7 L162.9 327.1 L163.4 328.6 L164.7 330.0 L163.7 331.4 L162.4 332.9 L161.6 334.3 L163.0 335.7 L161.2 337.1 L160.8 338.6 L162.8 340.0 L160.7 341.4 L159.9 342.9 L160.2 344.3 L161.7 345.7 L161.0 347.1 L160.6 348.6 L158.7 350.0 L159.2 351.4 L159.3 352.9 L160.2 354.3 L162.5 355.7 L162.8 357.1 L161.4 358.6 L160.2 360.0 L160.3 361.4 L161.3 362.9 L158.6 364.3 L159.0 365.7 L162.3 367.1 L162.6 368.6 L161.7 370.0 L162.2 371.4 L163.9 372.9 L162.1 374.3 L161.8 375.7 L164.4 377.1 L163.3 378.6 L162.4 380.0 L161.2 381.4 L161.7 382.9 L162.1 384.3 L162.0 385.7 L160.7 387.1 L159.8 388.6 L158.4 390.0 L158.4 391.4 L159.2 392.9 L158.7 394.3 L158.8 395.7 L159.7 397.1 L159.6 398.6 L158.7 400.0 L160.5 401.4 L160.6 402.9 L161.7 404.3 L161.0 405.7 L161.8 407.1 L161.0 408.6 L160.3 410.0 L159.3 411.4 L161.1 412.9 L160.2 414.3 L160.5 415.7 L160.9 417.1 L160.7 418.6 L162.6 420.0 L160.7 421.4 L159.4 422.9 L160.0 424.3 L162.1 425.7 L163.7 427.1 L162.5 428.6 L161.8 430.0 L162.4 431.4 L161.8 432.9 L161.4 434.3 L160.5 435.7 L160.6 437.1 L161.3 438.6 L161.3 440.0 L161.2 441.4 L162.0 442.9 L162.8 444.3 L161.9 445.7 L162.4 447.1 L162.7 448.6 L164.6 450.0 L165.1 451.4 L165.4 452.9 L165.3 454.3 L164.7 455.7 L164.9 457.1 L166.7 458.6 L166.4 460.0 L165.8 461.4 L166.5 462.7 L165.6 464.1 L166.6 465.5 L168.0 466.8 L167.4 468.2 L167.8 469.5 L169.0 470.9 L168.6 472.3 L168.0 473.6 L168.5 475.0 L168.3 476.3 L169.0 477.6 L170.3 478.9 L171.1 480.2 L171.2 481.5 L172.1 482.8 L172.3 484.1 L173.4 485.4 L174.2 486.7 L174.6 488.0 L174.8 489.2 L175.4 490.5 L175.5 491.8 L176.0 493.0 L176.1 494.2 L176.9 495.5 L177.7 496.8 L180.0 498.0 L184.8 501.0 L185.4 502.9 L186.1 505.4 L186.6 508.0 L187.0 510.1 L185.9 512.8 L184.9 515.3 L186.9 517.5 L189.0 520.2 L188.9 522.3 L188.6 524.5 L188.1 527.2 L188.0 529.6 L188.0 532.0 L189.1 534.2 L190.4 536.2 L192.0 538.3 L193.6 540.1 L194.9 541.8 L196.0 544.6 L196.8 547.4 L198.0 550.2 L199.5 552.1 L201.3 553.9 L203.3 555.7 L205.2 557.6 L206.8 559.3 L208.7 560.9 L209.8 562.3 L211.8 563.9 L213.4 565.2 L215.5 566.6 L217.6 568.2 L219.8 569.8 L221.8 571.3 L223.8 572.7 L225.9 574.0 L228.3 574.8 L230.4 576.0 L232.4 576.9 L234.5 578.0 L236.3 578.9 L238.0 580.0 L239.2 582.3 L240.0 584.3 L240.7 586.5 L242.1 589.0 L243.3 590.3 L244.5 591.9 L246.2 593.6 L247.9 595.3 L249.6 597.1 L251.4 598.8 L253.3 600.6 L255.2 601.9 L256.8 603.4 L258.1 605.0 L260.1 606.5 L262.3 607.9 L264.1 609.2 L266.0 610.2 L267.9 611.4 L270.0 612.7 L272.1 613.9 L274.3 615.1 L276.5 616.2 L278.7 617.4 L280.8 618.6 L282.9 619.7 L285.0 620.7 L287.0 621.7 L289.6 622.5 L292.0 623.1 L294.6 623.7 L296.7 624.2 L299.0 624.9 L301.9 626.1 L304.3 626.8 L306.9 628.0 L308.8 629.8 L310.6 631.7 L312.8 634.0 L315.0 634.9 L317.0 636.0 L319.3 636.7 L321.8 637.7 L324.2 638.8 L327.0 639.8 L329.0 640.8 L331.3 641.8 L333.4 642.5 L335.7 643.4 L337.8 644.4 L340.0 645.3 L342.4 646.3 L344.6 647.2 L346.8 648.0 L349.2 649.0 L351.4 649.7 L353.8 651.0 L356.0 652.1 L358.1 653.1 L360.1 654.0 L362.4 654.8 L364.6 656.0 L366.8 657.0 L369.2 657.8 L371.6 658.5 L373.8 659.1 L375.8 659.7 L378.1 660.2 L380.4 661.0 L382.4 661.6 L384.8 662.5 L386.9 663.2 L389.2 663.8 L391.4 664.6 L393.6 665.2 L395.9 665.9 L398.1 666.5 L400.5 667.1 L402.8 667.7 L404.9 668.6 L407.1 668.9 L409.4 669.6 L411.5 670.4 L413.6 670.9 L415.9 671.5 L418.3 671.9 L420.2 672.3 L422.4 673.0 L424.3 673.5 L426.9 674.3 L429.2 675.0 L431.4 675.5 L433.7 676.3 L436.0 677.0 L438.3 677.9 L440.8 678.5 L443.4 679.4 L445.7 680.1 L448.0 681.0 L450.3 682.0 L452.8 682.6 L455.0 683.2 L457.1 683.7 L459.0 684.4 L460.9 688.0 L459.0 689.4 L456.6 690.8 L453.9 692.0 L451.7 693.0 L449.6 693.5 L447.1 694.1 L444.0 694.9 L442.0 695.3 L439.8 695.5 L437.6 696.0 L435.4 696.4 L433.1 696.8 L430.6 696.9 L428.4 697.1 L426.1 697.3 L423.9 697.5 L421.4 697.6 L418.9 697.7 L416.5 698.2 L414.2 698.4 L412.0 698.8 L409.5 698.9 L407.2 699.0 L405.1 699.2 L402.9 699.3 L400.6 699.4 L398.5 699.8 L396.2 700.1 L393.9 700.5 L391.6 700.8 L389.4 700.8 L387.2 701.1 L384.8 701.1 L382.6 701.4 L380.3 701.8 L378.1 702.0 L376.0 702.3 L373.7 702.4 L371.6 702.7 L369.3 702.8 L367.1 703.1 L364.7 703.3 L362.4 703.7 L360.1 704.0 L357.9 704.2 L355.8 704.4 L353.5 704.8 L351.3 705.2 L349.3 705.7 L347.0 706.2 L344.8 706.4 L342.5 706.9 L340.2 707.2 L338.3 707.8 L335.9 708.1 L333.7 708.5 L331.4 709.1 L329.1 709.6 L327.0 710.1 L324.8 710.5 L322.4 711.3 L320.3 712.0 L318.1 712.8 L315.9 713.2 L313.6 713.9 L311.5 714.5 L309.3 715.4 L307.0 716.1 L304.8 716.7 L302.6 717.6 L300.0 718.1 L297.7 718.7 L295.4 719.4 L293.2 720.0 L291.1 720.6 L288.8 721.5 L286.8 722.0 L284.2 723.3 L282.0 724.2 L280.0 725.5 L277.9 726.7 L276.1 728.4 L274.3 730.3 L272.6 732.0 L270.0 733.8 L268.0 734.4 L266.0 735.0 L263.6 735.6 L261.4 736.4 L259.2 737.0 L257.0 737.7 L254.7 738.3 L252.3 739.1 L250.0 739.6 L247.8 740.1 L245.6 740.5 L243.3 740.9 L241.0 741.4 L238.7 741.7 L236.6 742.0 L234.3 742.5 L232.2 743.0 L229.8 743.4 L227.6 744.1 L225.6 744.6 L223.5 745.2 L221.3 745.8 L219.1 746.1 L216.9 746.7 L214.3 747.3 L212.1 747.8 L209.9 748.3 L207.8 748.8 L205.6 749.3 L203.4 749.9 L201.2 750.1 L198.9 750.5 L196.9 751.0 L194.5 751.4 L192.1 751.7 L190.0 752.4 L187.6 752.9 L185.1 753.4 L182.9 754.0 L180.5 754.5 L178.4 755.1 L176.2 755.7 L174.1 756.0 L172.0 756.9 L170.2 757.3 L167.5 758.1 L165.6 759.0 L164.1 760.1 L162.8 762.2 L161.7 764.9 L161.0 768.0 L161.1 770.0 L161.2 772.1 L161.5 774.2 L161.5 776.7 L161.6 779.3 L161.8 781.7 L161.9 784.1 L161.7 786.2 L161.6 788.7 L161.4 791.0 L160.8 793.1 L160.6 795.5 L160.3 797.7 L159.9 799.9 L159.8 802.4 L159.4 804.7 L159.2 807.2 L159.4 809.4 L159.2 811.9 L159.0 814.2 L159.0 816.0 L155.8 820.0 L155.8 821.4 L155.9 822.9 L156.4 824.3 L156.1 825.7 L156.0 827.1 L156.3 828.6 L155.5 830.0 L155.6 831.4 L155.5 832.9 L155.6 834.3 L155.4 835.7 L155.0 837.1 L154.6 838.6 L154.5 840.0 L154.2 841.4 L153.7 842.9 L152.7 844.3 L152.2 845.7 L152.2 847.1 L151.8 848.6 L150.9 850.0 L151.3 851.4 L151.2 852.9 L151.2 854.3 L150.6 855.7 L151.2 857.1 L150.5 858.6 L149.4 860.0 L149.4 861.5 L149.3 862.9 L149.1 864.4 L148.4 865.8 L148.9 867.3 L148.7 868.7 L148.7 870.2 L148.1 871.6 L147.5 873.1 L147.4 874.5 L147.0 876.0 L146.5 877.4 L146.3 878.8 L146.9 880.2 L146.7 881.6 L146.5 883.0 L145.5 884.4 L145.4 885.8 L145.3 887.2 L144.9 888.6 L144.6 890.0 L143.4 891.4 L142.7 892.8 L142.6 894.2 L142.5 895.6 L142.6 897.0 L142.2 898.4 L141.3 899.8 L140.5 901.2 L140.0 902.6 L139.2 904.0 L138.1 905.1 L137.8 906.2 L137.0 907.3 L136.0 908.4 L135.3 909.6 L135.0 910.7 L134.0 911.8 L133.3 912.9 L132.5 914.0 L132.0 915.3 L131.4 916.7 L130.2 918.0 L129.3 919.3 L128.6 920.7 L128.2 922.0 L126.7 922.8 L125.4 923.6 L124.6 924.4 L123.4 925.2 L121.9 926.0 L120.8 926.8 L119.5 927.6 L118.5 928.4 L116.9 929.2 L115.0 930.0" fill="none" stroke="#8c564b" stroke-opacity="0.5" stroke-width="1.4" stroke-linejoin="round"/>
<path d="M162.5 205.0 L161.0 206.4 L158.2 207.9 L158.2 209.3 L160.7 210.7 L160.9 212.1 L159.7 213.6 L157.3 215.0 L157.1 216.4 L155.8 217.9 L156.0 219.3 L157.2 220.7 L153.8 222.1 L156.0 223.6 L155.6 225.0 L156.7 226.4 L156.8 227.9 L160.4 229.3 L161.3 230.7 L161.1 232.1 L158.7 233.6 L156.1 235.0 L156.4 236.4 L157.8 237.9 L158.6 239.3 L160.5 240.7 L160.1 242.1 L162.9 243.6 L162.7 245.0 L164.3 246.4 L162.7 247.9 L161.1 249.3 L159.6 250.7 L161.4 252.1 L163.0 253.6 L162.8 255.0 L162.7 256.4 L161.2 257.9 L159.5 259.3 L158.1 260.7 L154.6 262.1 L153.6 263.6 L154.5 265.0 L155.5 266.4 L157.7 267.9 L158.8 269.3 L159.4 270.7 L159.3 272.1 L156.3 273.6 L157.3 275.0 L156.8 276.4 L158.3 277.9 L158.6 279.3 L159.0 280.7 L159.4 282.1 L160.2 283.6 L158.6 285.0 L157.7 286.4 L160.3 287.9 L160.5 289.3 L159.4 290.7 L158.8 292.1 L158.7 293.6 L163.3 295.0 L163.3 296.4 L163.0 297.9 L162.3 299.3 L159.8 300.7 L161.0 302.1 L162.9 303.6 L163.2 305.0 L162.3 306.4 L160.6 307.9 L159.0 309.3 L159.5 310.7 L159.2 312.1 L158.1 313.6 L160.3 315.0 L158.3 316.4 L157.2 317.9 L154.2 319.3 L157.0 320.7 L156.8 322.1 L157.1 323.6 L158.1 325.0 L157.9 326.4 L158.2 327.9 L159.4 329.3 L158.7 330.7 L159.1 332.1 L160.0 333.6 L159.8 335.0 L160.3 336.4 L160.3 337.9 L161.1 339.3 L160.1 340.7 L159.7 342.1 L157.7 343.6 L157.2 345.0 L156.1 346.4 L155.9 347.9 L154.7 349.3 L155.4 350.7 L158.4 352.1 L156.9 353.6 L157.6 355.0 L158.1 356.4 L156.8 357.9 L156.1 359.3 L155.0 360.7 L154.9 362.1 L153.4 363.6 L155.5 365.0 L155.3 366.4 L155.7 367.9 L157.2 369.3 L157.6 370.7 L156.6 372.1 L156.5 373.6 L156.1 375.0 L156.1 376.4 L156.9 377.9 L154.8 379.3 L154.2 380.7 L155.4 382.1 L157.1 383.6 L157.5 385.0 L157.8 386.4 L158.9 387.9 L158.9 389.3 L157.8 390.7 L156.7 392.1 L155.0 393.6 L155.8 395.0 L156.2 396.4 L155.7 397.9 L156.9 399.3 L156.9 400.7 L156.9 402.1 L155.6 403.6 L156.8 405.0 L155.9 406.4 L156.2 407.9 L156.3 409.3 L155.7 410.7 L155.9 412.1 L155.8 413.6 L155.7 415.0 L155.7 416.4 L154.8 417.9 L155.0 419.3 L154.5 420.7 L153.2 422.1 L153.8 423.6 L153.8 425.0 L155.0 426.4 L153.8 427.9 L155.3 429.3 L154.3 430.7 L155.0 432.1 L158.0 433.6 L157.7 435.0 L157.7 436.4 L156.4 437.9 L155.3 439.3 L155.6 440.7 L156.1 442.1 L156.1 443.6 L155.5 445.0 L154.9 446.4 L154.7 447.9 L155.9 449.3 L155.6 450.7 L155.2 452.1 L155.4 453.6 L155.3 455.0 L155.2 456.4 L156.3 457.9 L157.7 459.3 L157.9 460.7 L156.6 462.1 L157.6 463.6 L157.2 465.0 L158.3 466.4 L157.8 467.9 L157.0 469.3 L157.8 470.7 L158.3 472.1 L158.2 473.6 L158.5 475.0 L158.9 476.4 L159.1 477.9 L160.2 479.3 L160.9 480.7 L161.3 482.1 L161.9 483.6 L163.1 485.0 L163.9 486.4 L163.6 487.7 L164.2 489.1 L165.3 490.5 L165.1 491.8 L164.5 493.2 L165.3 494.5 L166.4 495.9 L166.2 497.3 L165.2 498.6 L165.3 500.0 L166.9 501.4 L167.2 502.7 L167.8 504.1 L168.2 505.5 L168.3 506.8 L169.1 508.2 L169.2 509.5 L169.6 510.9 L169.9 512.3 L170.3 513.6 L171.4 515.0 L171.2 516.4 L171.2 517.9 L172.1 519.3 L172.0 520.7 L172.6 522.1 L172.8 523.6 L174.0 525.0 L178.0 532.2 L179.7 533.4 L181.5 534.8 L183.5 536.2 L185.5 537.5 L187.7 539.2 L190.1 541.2 L191.8 542.6 L193.7 543.8 L195.5 545.1 L197.4 546.3 L199.3 547.6 L201.5 549.2 L203.5 550.6 L206.0 552.0 L207.6 553.0 L209.5 554.4 L211.4 555.5 L213.1 556.6 L214.8 557.8 L216.8 559.2 L218.7 560.4 L220.6 561.7 L222.6 563.0 L224.4 564.3 L226.3 565.6 L228.3 566.8 L230.0 567.9 L232.1 569.2 L234.0 570.5 L236.2 572.0 L238.1 573.1 L239.9 574.3 L241.9 575.2 L243.8 576.5 L246.1 577.8 L248.0 579.1 L250.1 580.1 L251.8 581.1 L253.9 581.8 L256.0 582.7 L258.1 583.7 L260.3 584.5 L262.5 585.2 L264.4 586.2 L266.5 587.1 L268.5 588.1 L270.3 588.9 L272.2 589.9 L273.9 591.0 L275.7 592.5 L277.3 594.3 L278.6 596.0 L280.0 597.7 L281.3 599.3 L282.6 601.0 L284.0 602.8 L285.3 604.5 L286.8 605.9 L288.9 606.8 L291.0 607.6 L293.2 608.5 L295.8 609.6 L298.0 610.3 L300.4 610.9 L302.7 611.6 L304.9 612.4 L306.9 613.0 L309.0 613.7 L311.6 614.4 L313.9 615.3 L315.8 615.9 L317.9 616.4 L320.2 616.9 L322.5 617.6 L324.9 618.3 L326.9 619.0 L329.1 619.8 L331.4 620.5 L333.6 621.6 L335.9 622.2 L338.3 622.9 L340.3 623.8 L342.6 624.6 L344.9 625.4 L347.0 626.2 L349.2 626.7 L351.4 627.2 L353.6 627.4 L355.7 627.6 L357.9 628.0 L360.3 628.6 L362.6 629.0 L364.9 629.7 L367.0 630.1 L369.4 630.8 L371.6 631.4 L373.7 632.1 L376.0 632.6 L378.0 633.4 L380.2 633.9 L382.2 634.5 L384.4 635.4 L386.9 636.1 L389.0 636.6 L391.3 637.5 L393.7 637.9 L396.1 638.8 L398.4 639.3 L400.5 640.0 L402.7 640.6 L404.7 641.4 L406.9 641.9 L409.4 642.7 L411.7 643.7 L413.6 644.4 L415.4 645.1 L417.6 645.9 L419.7 646.6 L421.7 647.2 L423.9 648.0 L426.1 648.8 L428.3 649.6 L430.6 650.2 L433.0 650.8 L435.2 651.4 L437.4 651.9 L439.6 652.6 L441.7 653.4 L444.0 654.1 L446.3 654.7 L448.4 655.6 L450.6 656.4 L452.6 657.3 L455.0 658.0 L457.2 658.6 L459.7 659.5 L461.7 660.1 L463.8 660.9 L466.2 661.6 L468.6 662.5 L470.9 663.1 L473.3 663.6 L475.1 664.3 L477.4 664.9 L479.7 665.6 L481.9 666.2 L484.2 666.9 L486.3 667.5 L488.5 667.9 L490.6 668.5 L492.7 668.7 L494.9 669.2 L497.2 669.4 L499.5 670.1 L501.7 670.6 L503.9 671.0 L506.1 671.5 L508.7 672.2 L510.8 672.8 L513.3 673.4 L515.6 674.0 L517.8 674.6 L519.9 675.0 L522.0 675.4 L523.9 676.1 L526.6 676.9 L529.2 677.5 L531.6 677.9 L533.4 678.4 L535.2 679.0 L532.3 681.3 L530.3 681.5 L528.2 681.6 L525.7 681.9 L523.2 682.2 L520.7 682.5 L518.2 682.8 L515.6 682.8 L513.6 683.1 L510.9 683.2 L508.7 683.5 L506.6 683.9 L504.0 684.4 L502.1 684.9 L500.0 685.3 L497.7 685.6 L495.6 685.7 L493.3 686.2 L491.0 686.8 L488.5 687.3 L486.3 687.6 L484.2 687.9 L481.7 688.5 L479.5 688.7 L477.2 689.0 L475.0 689.2 L472.8 689.4 L470.6 689.6 L468.4 690.0 L466.2 690.1 L464.0 690.6 L461.7 690.8 L459.6 691.1 L457.4 691.0 L455.1 691.1 L453.0 691.2 L450.9 691.3 L448.6 691.5 L446.3 691.8 L444.2 691.9 L442.0 692.1 L439.5 692.3 L437.2 692.5 L434.9 692.6 L432.8 693.1 L430.5 693.2 L428.6 693.5 L426.4 693.5 L424.2 693.8 L421.7 693.8 L419.2 694.0 L416.7 693.9 L414.5 694.0 L412.1 694.1 L409.5 693.9 L407.0 694.0 L404.8 694.0 L402.6 694.0 L400.5 694.1 L398.2 694.2 L396.0 694.3 L393.6 694.4 L391.5 694.4 L389.2 694.3 L387.1 694.4 L384.8 694.6 L382.5 694.8 L380.3 694.9 L378.0 695.2 L375.9 695.4 L373.7 695.4 L371.5 695.5 L369.1 695.7 L366.8 696.2 L364.7 696.4 L362.6 696.6 L360.5 696.8 L358.4 697.2 L355.8 697.6 L353.6 698.0 L351.5 698.3 L349.4 698.4 L347.1 698.9 L344.9 699.4 L342.4 699.7 L340.1 700.0 L337.8 700.1 L335.5 700.6 L333.3 701.0 L331.1 701.4 L329.1 701.8 L327.3 702.0 L324.3 703.0 L321.8 703.9 L319.3 704.7 L317.0 706.0 L315.0 707.5 L312.8 709.1 L310.5 710.9 L308.5 712.7 L307.0 714.0 L307.5 716.9 L309.0 720.0 L308.6 722.5 L307.9 725.4 L306.7 728.0 L305.1 730.0 L303.3 731.8 L301.4 733.6 L299.0 735.3 L296.9 735.8 L294.6 736.3 L292.1 736.8 L289.6 737.4 L287.0 737.9 L284.8 738.6 L282.6 739.4 L280.0 739.9 L277.4 740.5 L274.8 741.0 L272.4 741.7 L269.9 742.3 L267.6 742.7 L265.6 743.1 L263.4 743.5 L261.2 744.2 L258.8 744.6 L256.8 745.1 L254.4 745.8 L252.2 746.3 L250.2 747.0 L247.9 747.5 L245.6 748.3 L243.4 749.0 L241.1 749.5 L238.8 750.2 L236.6 750.9 L234.5 751.5 L232.2 752.2 L230.0 752.9 L227.8 753.4 L225.4 753.9 L223.0 754.4 L220.9 755.0 L218.7 755.5 L216.6 755.8 L214.5 756.0 L212.3 756.5 L210.1 757.1 L208.1 757.5 L205.7 758.0 L203.6 758.5 L201.1 759.3 L198.8 759.8 L196.3 760.2 L194.2 760.9 L192.0 761.6 L190.1 762.1 L187.4 762.9 L184.9 763.7 L182.5 764.9 L180.2 766.0 L178.0 766.9 L175.9 768.0 L174.2 769.9 L173.1 771.7 L172.0 774.0 L171.2 776.6 L170.4 779.4 L169.9 781.8 L171.6 783.3 L174.0 784.7 L176.0 786.0 L173.3 786.0 L172.9 787.5 L172.7 789.0 L172.1 790.5 L171.9 792.0 L171.7 793.0 L170.9 794.0 L170.2 795.0 L169.1 796.0 L167.4 797.0 L166.1 798.0 L165.4 799.3 L165.1 800.7 L164.9 802.0 L164.2 803.3 L163.3 804.7 L163.3 806.0 L163.3 807.3 L163.3 808.7 L162.5 810.0 L161.8 811.4 L161.1 812.9 L160.7 814.3 L160.6 815.7 L161.1 817.1 L160.8 818.6 L160.1 820.0 L159.6 821.3 L158.0 822.7 L157.6 824.0 L157.3 825.3 L156.1 826.7 L155.4 828.0 L154.2 829.3 L153.3 830.7 L152.5 832.0 L152.2 833.3 L151.8 834.7 L151.1 836.0 L151.0 837.3 L150.2 838.7 L149.2 840.0 L149.7 841.5 L149.7 842.9 L149.6 844.4 L150.1 845.8 L150.5 847.3 L150.6 848.7 L150.6 850.2 L151.2 851.6 L150.9 853.1 L151.0 854.5 L151.3 856.0 L151.0 857.5 L150.9 858.9 L151.1 860.4 L151.6 861.8 L151.5 863.3 L151.7 864.7 L151.9 866.2 L152.3 867.6 L152.5 869.1 L152.3 870.5 L152.7 872.0 L151.7 873.5 L151.2 874.9 L151.3 876.4 L151.0 877.8 L151.2 879.3 L151.3 880.7 L150.3 882.2 L150.3 883.6 L149.8 885.1 L149.7 886.5 L150.0 888.0 L149.4 889.5 L149.3 890.9 L148.6 892.4 L149.2 893.8 L148.6 895.3 L148.3 896.7 L147.8 898.2 L147.7 899.6 L147.1 901.1 L145.9 902.5 L145.6 904.0 L145.0 905.2 L144.3 906.4 L143.8 907.6 L142.6 908.8 L141.9 910.0 L141.2 911.2 L140.5 912.4 L138.9 913.6 L138.8 914.8 L138.4 916.0 L137.6 917.2 L136.8 918.5 L135.5 919.8 L134.5 921.0 L134.1 922.2 L133.4 923.5 L132.7 924.8 L132.0 926.0 L131.0 926.7 L129.6 927.3 L128.0 928.0" fill="none" stroke="#e377c2" stroke-opacity="0.5" stroke-width="1.4" stroke-linejoin="round"/>
<path d="M162.7 215.0 L161.8 216.4 L160.7 217.9 L161.8 219.3 L163.3 220.7 L169.0 222.1 L169.3 223.6 L169.1 225.0 L170.4 226.4 L167.5 227.9 L165.9 229.3 L166.2 230.7 L164.3 232.1 L162.1 233.6 L161.6 235.0 L160.0 236.4 L163.1 237.9 L165.2 239.3 L168.4 240.7 L165.6 242.1 L163.7 243.6 L162.4 245.0 L162.7 246.4 L162.3 247.9 L163.6 249.3 L163.2 250.7 L161.7 252.1 L165.3 253.6 L164.3 255.0 L166.0 256.4 L164.5 257.9 L163.9 259.3 L160.9 260.7 L160.1 262.1 L161.9 263.6 L163.7 265.0 L164.2 266.4 L165.4 267.9 L163.9 269.3 L165.4 270.7 L165.4 272.1 L164.8 273.6 L166.1 275.0 L165.8 276.4 L165.1 277.9 L165.5 279.3 L165.8 280.7 L166.0 282.1 L166.3 283.6 L165.4 285.0 L165.9 286.4 L166.4 287.9 L165.7 289.3 L163.4 290.7 L161.8 292.1 L162.3 293.6 L162.3 295.0 L164.6 296.4 L164.7 297.9 L165.0 299.3 L163.7 300.7 L163.5 302.1 L161.7 303.6 L160.1 305.0 L161.1 306.4 L160.3 307.9 L160.5 309.3 L162.5 310.7 L164.4 312.1 L163.5 313.6 L162.1 315.0 L162.5 316.4 L162.8 317.9 L162.5 319.3 L161.0 320.7 L161.0 322.1 L163.1 323.6 L162.3 325.0 L163.3 326.4 L165.0 327.9 L165.6 329.3 L163.7 330.7 L162.6 332.1 L161.7 333.6 L160.2 335.0 L160.4 336.4 L159.7 337.9 L160.9 339.3 L159.8 340.7 L159.5 342.1 L159.2 343.6 L159.5 345.0 L157.0 346.4 L159.1 347.9 L159.4 349.3 L160.3 350.7 L162.4 352.1 L162.8 353.6 L163.6 355.0 L163.9 356.4 L164.6 357.9 L164.7 359.3 L164.9 360.7 L163.7 362.1 L162.0 363.6 L162.5 365.0 L161.8 366.4 L162.7 367.9 L163.2 369.3 L161.8 370.7 L162.7 372.1 L162.5 373.6 L162.0 375.0 L161.2 376.4 L162.9 377.9 L164.2 379.3 L163.7 380.7 L163.5 382.1 L163.6 383.6 L163.4 385.0 L164.3 386.4 L163.1 387.9 L163.7 389.3 L160.9 390.7 L159.7 392.1 L161.5 393.6 L161.7 395.0 L160.9 396.5 L164.4 398.0 L165.4 399.5 L165.7 401.0 L163.4 402.5 L164.9 404.0 L165.1 405.5 L165.1 407.0 L165.2 408.5 L164.4 410.0 L164.5 411.5 L165.8 413.0 L166.9 414.5 L167.1 416.0 L166.8 417.5 L166.2 419.0 L166.1 420.5 L167.6 422.0 L167.1 423.5 L165.8 425.0 L166.4 426.4 L166.1 427.7 L165.2 429.1 L164.2 430.5 L164.7 431.8 L163.6 433.2 L163.0 434.5 L162.0 435.9 L162.7 437.3 L162.0 438.6 L161.4 440.0 L160.1 441.4 L159.3 442.7 L160.3 444.1 L159.0 445.5 L159.5 446.8 L159.2 448.2 L158.8 449.5 L158.6 450.9 L158.5 452.3 L159.3 453.6 L159.1 455.0 L158.3 456.5 L158.5 458.0 L159.6 459.5 L158.1 461.0 L157.8 462.5 L157.3 464.0 L157.8 465.5 L156.8 467.0 L157.7 468.5 L156.6 470.0 L157.0 471.5 L156.4 473.0 L156.7 474.5 L156.4 476.0 L155.7 477.5 L156.4 479.0 L156.2 480.5 L157.2 482.0 L156.2 483.5 L157.9 485.0 L158.2 486.4 L159.3 487.8 L159.4 489.2 L159.1 490.7 L158.8 492.1 L158.7 493.5 L159.4 494.9 L159.7 496.3 L159.6 497.8 L160.4 499.2 L161.4 500.6 L162.0 502.0 L165.0 516.0 L166.0 517.5 L167.1 519.4 L168.1 521.6 L169.6 523.7 L171.0 525.9 L172.4 528.0 L174.0 530.0 L175.4 531.3 L177.0 532.5 L178.8 533.9 L180.6 535.0 L182.4 536.4 L184.4 537.8 L186.3 539.2 L188.1 540.4 L190.0 541.9 L191.5 543.3 L193.1 544.7 L194.9 546.1 L196.5 547.8 L198.3 549.5 L200.1 551.0 L201.7 552.4 L203.3 554.1 L204.9 555.6 L206.7 557.0 L208.3 558.6 L210.0 559.9 L211.9 561.4 L213.9 563.0 L215.7 564.6 L217.5 566.2 L219.1 567.7 L221.0 569.1 L223.1 570.7 L225.0 572.2 L226.7 573.5 L228.3 574.9 L230.1 576.1 L232.1 577.6 L234.2 579.0 L236.0 580.2 L237.8 581.8 L239.6 583.3 L241.7 584.6 L243.9 586.1 L245.7 587.1 L247.8 588.2 L249.6 589.2 L251.6 590.3 L253.7 591.4 L255.7 592.4 L257.8 593.6 L259.9 594.7 L262.0 595.7 L264.1 596.9 L265.9 598.0 L268.2 599.2 L270.5 600.4 L272.6 601.2 L274.7 602.2 L277.0 603.2 L279.1 604.2 L281.1 605.3 L283.3 606.3 L285.2 607.3 L287.0 608.1 L289.4 610.3 L291.1 612.2 L293.0 613.9 L295.4 614.7 L297.7 615.6 L300.3 616.0 L302.9 616.7 L304.9 617.8 L306.8 618.9 L308.9 620.1 L310.9 621.5 L313.1 622.8 L314.8 623.9 L316.8 624.8 L318.6 625.6 L320.8 626.6 L322.8 627.6 L324.8 628.7 L326.9 629.6 L329.0 630.4 L331.2 631.3 L333.4 632.1 L335.7 632.8 L337.8 633.7 L340.1 634.5 L342.5 635.2 L344.7 636.1 L347.1 636.7 L349.5 637.3 L351.6 637.8 L353.7 638.5 L355.9 639.3 L358.2 640.0 L360.4 640.7 L362.5 641.4 L364.8 642.0 L367.0 642.8 L369.2 643.4 L371.5 644.1 L373.7 644.8 L376.0 645.2 L378.3 645.8 L380.4 646.5 L382.5 647.2 L384.8 647.8 L387.0 648.6 L389.2 649.1 L391.6 649.7 L393.7 650.5 L395.9 651.0 L397.9 651.5 L400.4 652.3 L402.8 653.0 L405.0 653.4 L407.1 654.0 L409.6 654.9 L412.0 655.3 L414.2 655.9 L416.7 656.4 L419.1 657.0 L421.5 657.7 L424.2 658.3 L426.5 658.9 L428.5 659.7 L430.6 660.6 L432.9 661.4 L435.2 662.0 L437.4 662.5 L439.7 663.1 L442.0 663.8 L444.1 664.6 L446.4 665.2 L448.2 665.8 L450.5 666.5 L452.7 667.0 L454.9 667.6 L457.1 668.2 L459.4 669.0 L461.7 669.8 L464.1 670.4 L466.1 671.0 L468.3 671.7 L470.6 672.2 L473.1 673.0 L475.2 673.7 L477.2 674.3 L479.7 674.8 L482.1 675.4 L484.2 676.1 L486.1 676.7 L488.4 677.3 L490.4 677.9 L493.6 679.1 L496.1 680.1 L498.1 680.8 L500.0 681.9 L501.9 685.1 L500.0 685.9 L497.2 686.6 L494.0 687.0 L491.8 687.2 L489.5 687.4 L487.3 687.8 L484.9 688.0 L482.5 688.4 L480.1 688.9 L477.9 689.2 L475.6 689.6 L473.4 689.9 L471.1 690.3 L468.7 690.7 L466.3 691.5 L463.9 692.0 L461.9 692.4 L459.7 692.8 L457.5 693.2 L455.3 693.7 L453.1 694.0 L450.7 694.3 L448.3 694.6 L446.0 695.1 L444.0 695.3 L441.8 695.8 L440.2 696.1 L438.2 696.4 L436.3 696.7 L434.3 696.9 L432.4 697.3 L430.0 697.6 L427.5 697.8 L424.2 698.5 L422.2 698.5 L420.4 698.7 L418.4 698.9 L416.1 699.1 L414.0 699.4 L411.9 699.6 L409.4 699.8 L407.2 700.1 L404.9 700.1 L402.6 700.5 L400.1 700.7 L397.9 701.1 L395.4 701.2 L392.8 701.5 L390.6 701.7 L388.1 701.8 L385.8 702.1 L383.5 702.3 L381.1 702.5 L379.1 702.7 L376.9 702.9 L374.8 703.0 L372.7 703.2 L370.7 703.6 L368.9 703.9 L367.1 704.2 L364.0 704.6 L361.1 705.2 L358.5 705.5 L356.2 705.8 L354.2 706.1 L352.3 706.6 L350.4 707.0 L348.8 707.5 L347.1 708.1 L344.4 708.9 L342.1 710.1 L340.6 711.3 L338.9 712.2 L337.3 714.2 L336.0 716.1 L335.0 718.1 L334.1 720.7 L332.9 723.1 L330.4 724.3 L326.8 725.0 L325.1 725.7 L323.1 725.9 L320.9 726.3 L318.7 726.8 L316.3 727.2 L313.9 727.7 L311.6 728.2 L309.3 728.6 L307.1 729.1 L304.7 729.6 L302.5 730.3 L300.1 730.4 L297.7 730.9 L295.6 731.3 L293.4 731.7 L291.2 732.2 L289.1 732.7 L286.9 733.2 L284.5 733.6 L282.1 734.0 L279.4 734.5 L277.1 735.1 L274.8 735.6 L272.4 736.0 L269.9 736.2 L267.9 736.9 L265.8 737.5 L263.5 737.7 L261.2 738.0 L259.1 738.3 L256.7 738.4 L254.4 738.9 L252.2 739.4 L249.9 739.8 L247.8 740.2 L245.7 740.9 L243.2 741.3 L241.0 741.7 L238.8 742.2 L236.6 742.7 L234.3 743.1 L232.0 743.7 L229.8 744.3 L227.7 745.0 L225.5 745.7 L223.4 746.4 L221.2 746.9 L219.0 747.4 L216.9 748.1 L214.7 748.4 L212.3 749.0 L209.9 749.8 L207.5 750.2 L205.2 750.9 L202.9 751.3 L200.8 751.6 L198.6 751.9 L196.4 752.3 L194.2 752.8 L192.1 753.2 L190.1 753.7 L187.4 754.3 L184.8 754.9 L182.5 755.4 L180.2 755.8 L178.0 756.3 L175.7 756.7 L173.5 757.9 L171.8 758.7 L170.1 760.0 L169.0 761.7 L168.1 763.5 L167.1 765.5 L166.2 768.1 L165.6 770.1 L164.9 772.4 L164.2 774.7 L163.7 777.0 L163.3 779.4 L162.6 781.9 L162.0 784.2 L161.5 786.3 L160.8 788.5 L160.4 790.9 L160.1 793.5 L159.4 795.7 L158.6 798.0 L158.2 800.0 L157.2 802.4 L156.0 804.6 L154.7 806.4 L154.0 808.0 L153.2 808.0 L153.0 809.5 L152.7 811.0 L152.9 812.5 L153.3 814.0 L153.0 815.5 L152.7 817.0 L152.2 818.5 L151.6 820.0 L151.6 821.5 L151.7 823.0 L152.5 824.5 L152.8 826.0 L153.0 827.5 L153.2 829.0 L153.8 830.5 L154.6 832.0 L153.9 833.5 L153.4 834.9 L152.7 836.4 L153.3 837.8 L152.5 839.3 L152.6 840.7 L152.2 842.2 L151.8 843.6 L151.6 845.1 L150.5 846.5 L150.4 848.0 L149.4 849.2 L148.7 850.5 L148.0 851.8 L147.4 853.0 L146.9 854.2 L145.3 855.5 L144.7 856.8 L144.0 858.0 L143.1 859.2 L142.4 860.5 L141.3 861.8 L140.6 863.0 L139.5 864.2 L139.0 865.5 L138.2 866.8 L137.5 868.0 L138.0 869.6 L138.4 871.2 L139.0 872.8 L138.9 874.4 L139.1 876.0 L138.5 877.5 L139.1 879.0 L139.2 880.5 L138.6 882.0 L138.4 883.5 L138.9 885.0 L138.4 886.5 L138.7 888.0 L138.5 889.5 L138.0 891.0 L137.6 892.5 L137.6 894.0 L137.7 895.5 L136.9 897.0 L136.4 898.5 L136.1 900.0 L136.5 901.3 L137.3 902.7 L137.8 904.0 L138.3 905.3 L139.1 906.7 L139.6 908.0 L139.8 909.4 L140.1 910.9 L140.5 912.3 L141.0 913.7 L141.4 915.1 L141.8 916.6 L142.2 918.0 L141.5 919.2 L140.2 920.4 L139.6 921.6 L138.8 922.8 L137.9 924.0 L137.6 925.2 L136.5 926.4 L136.0 927.6 L135.2 928.8 L134.0 930.0 L133.1 931.0 L132.4 932.0 L131.6 933.0 L130.4 934.0 L129.8 935.0 L128.1 936.0 L127.3 937.0 L126.0 938.0" fill="none" stroke="#7f7f7f" stroke-opacity="0.5" stroke-width="1.4" stroke-linejoin="round"/>
<path d="M135.0 61.6 L215.6 63.6" fill="none" stroke="#bcbd22" stroke-opacity="0.5" stroke-width="1.4" stroke-linejoin="round"/>
<path d="M99.6 65.6 L142.4 68.0" fill="none" stroke="#bcbd22" stroke-opacity="0.5" stroke-width="1.4" stroke-linejoin="round"/>
<path d="M124.0 68.4 L119.6 70.0 L125.0 71.6 L181.0 74.4 L147.0 75.0 L134.4 78.0 L142.4 79.0 L135.6 80.0 L140.0 81.6 L137.0 83.0 L129.6 87.0 L131.0 89.0 L164.0 91.6 L144.0 93.0 L152.4 94.4 L137.6 98.0 L154.4 101.0 L131.0 109.0 L145.0 112.4 L133.0 116.0 L141.0 118.0 L163.0 121.6 L160.0 123.0 L178.0 126.0 L197.6 130.0 L180.4 133.6 L181.0 135.0 L149.6 137.6 L158.0 141.6 L163.6 145.6 L167.0 149.6 L164.4 154.0 L169.0 159.0 L174.0 162.0 L180.0 164.0 L170.0 166.0 L173.0 170.0 L169.0 175.0 L172.0 180.0 L169.0 186.0 L174.0 190.0 L181.0 192.4 L176.0 196.0 L180.0 202.0 L183.0 208.0 L178.0 212.0 L176.0 220.0 L175.0 226.0 L171.0 231.0 L171.6 236.0 L167.0 242.0 L165.0 248.0 L159.0 254.0 L156.0 257.0 L157.9 257.0 L158.0 258.4 L156.1 259.9 L154.6 261.3 L154.9 262.7 L154.8 264.1 L155.5 265.6 L155.7 267.0 L154.8 268.3 L154.0 269.6 L155.2 270.9 L153.8 272.1 L152.2 273.4 L150.6 274.7 L150.0 276.0 L150.0 277.6 L149.8 279.2 L149.9 280.8 L150.4 282.4 L151.0 284.0 L150.9 285.4 L150.0 286.9 L147.9 288.3 L147.8 289.7 L146.3 291.1 L146.0 292.6 L145.0 294.0 L145.6 295.5 L145.7 297.0 L146.3 298.5 L148.5 300.0 L147.5 301.5 L147.2 303.0 L145.3 304.5 L144.6 306.0 L144.6 307.5 L144.2 309.0 L144.3 310.5 L144.2 312.0 L143.5 313.5 L143.9 315.0 L143.2 316.5 L144.2 318.0 L143.0 319.3 L142.8 320.7 L142.2 322.0 L142.3 323.3 L141.4 324.7 L141.8 326.0 L141.2 327.3 L141.5 328.7 L141.0 330.0 L141.0 331.4 L140.4 332.9 L141.0 334.3 L141.3 335.7 L142.4 337.1 L142.4 338.6 L143.2 340.0 L144.0 341.6 L144.7 343.2 L145.3 344.8 L145.7 346.4 L145.7 348.0 L144.8 349.4 L144.4 350.9 L144.5 352.3 L145.0 353.7 L144.8 355.1 L144.6 356.6 L144.0 358.0 L144.1 359.6 L143.9 361.2 L144.0 362.8 L144.7 364.4 L144.3 366.0 L144.3 367.4 L146.0 368.9 L146.5 370.3 L147.4 371.7 L148.2 373.1 L147.8 374.6 L149.3 376.0 L149.8 377.4 L149.3 378.9 L149.4 380.3 L149.4 381.7 L149.1 383.1 L149.4 384.6 L149.9 386.0 L151.0 387.3 L151.6 388.7 L151.9 390.0 L152.8 391.3 L152.7 392.7 L153.7 394.0 L154.6 395.3 L154.9 396.7 L154.8 398.0 L155.5 399.3 L156.6 400.7 L157.6 402.0 L159.0 403.3 L159.0 404.7 L159.6 406.0 L160.5 407.3 L161.0 408.7 L160.7 410.0 L161.8 411.4 L163.3 412.9 L163.8 414.3 L163.5 415.7 L163.6 417.1 L164.1 418.6 L165.4 420.0 L165.3 421.4 L165.3 422.9 L166.0 424.3 L166.0 425.7 L167.0 427.1 L166.8 428.6 L166.9 430.0 L167.4 431.4 L167.9 432.9 L167.9 434.3 L167.8 435.7 L167.0 437.1 L167.1 438.6 L167.4 440.0 L168.1 441.4 L169.2 442.7 L169.7 444.1 L170.7 445.5 L171.2 446.8 L171.5 448.2 L172.0 449.6 L172.6 450.9 L173.4 452.3 L174.3 453.2 L175.4 454.0 L176.1 454.9 L178.1 455.7 L179.7 456.6 L180.6 457.5 L181.4 458.3 L182.1 459.2 L183.4 460.1 L184.5 460.9 L186.3 461.8 L187.0 462.6 L187.5 463.5 L185.8 464.9 L185.7 466.3 L185.1 467.7 L184.0 469.1 L183.7 470.6 L182.8 472.0 L183.6 473.4 L183.1 474.8 L183.7 476.1 L184.1 477.4 L184.0 478.8 L184.9 480.1 L185.3 481.4 L186.6 482.7 L186.9 484.0 L187.8 485.4 L189.2 486.7 L190.4 488.0 L190.9 489.0 L191.6 489.9 L193.0 490.9 L194.1 491.9 L194.8 492.9 L195.7 493.8 L196.7 494.8 L197.7 495.6 L198.9 496.4 L200.6 497.2 L202.0 498.0 L221.9 508.1 L222.5 509.6 L223.3 511.6 L225.0 514.0 L226.6 515.3 L228.1 516.6 L230.1 517.9 L232.2 519.4 L234.3 520.9 L236.0 522.0 L238.0 523.7 L240.0 525.1 L241.9 526.1 L244.1 527.5 L246.0 528.7 L248.0 530.0 L250.1 531.3 L251.9 532.9 L254.0 534.1 L256.0 535.2 L257.7 536.5 L260.0 537.9 L262.2 539.2 L264.1 540.7 L266.1 542.2 L268.0 543.7 L269.9 545.0 L272.0 546.7 L273.7 548.2 L275.4 549.7 L277.1 551.2 L278.7 552.7 L280.1 553.9 L282.2 555.2 L283.9 556.4 L287.0 557.8 L288.7 558.5 L290.7 559.2 L293.0 560.1 L295.2 560.9 L297.4 561.9 L299.6 562.7 L302.1 563.5 L304.7 564.3 L306.9 564.9 L309.4 565.8 L311.7 566.5 L313.6 567.4 L315.2 568.1 L317.1 569.1 L319.6 571.4 L320.0 572.9 L321.0 575.0 L322.7 576.1 L324.3 577.3 L326.4 578.9 L328.3 580.3 L330.6 581.6 L333.0 582.9 L334.8 583.9 L336.9 584.8 L339.0 585.8 L341.2 586.4 L343.3 587.3 L345.5 588.2 L347.8 589.3 L350.0 590.0 L352.3 591.0 L354.7 591.9 L356.8 592.7 L359.0 593.6 L361.1 594.4 L363.4 595.2 L365.7 596.1 L368.0 597.0 L370.2 597.6 L372.4 598.4 L374.5 599.3 L376.7 599.8 L378.7 600.7 L381.0 601.3 L383.0 602.1 L385.4 603.1 L387.7 603.7 L389.9 604.2 L391.8 604.7 L394.0 605.6 L396.3 606.1 L398.4 606.8 L400.7 607.5 L402.7 608.1 L405.2 608.8 L407.7 609.5 L410.0 610.2 L412.3 610.8 L414.7 611.5 L417.3 612.1 L419.4 612.9 L421.8 613.7 L424.0 614.3 L426.4 615.0 L428.6 615.7 L430.7 616.4 L432.9 616.7 L435.1 617.2 L437.5 617.9 L439.6 618.7 L441.9 619.3 L444.0 620.0 L446.4 620.7 L448.6 621.2 L451.0 621.9 L453.4 622.5 L455.6 623.3 L457.9 623.9 L460.1 624.7 L462.2 625.4 L464.0 626.0 L466.6 627.3 L469.0 628.7 L471.1 630.0 L472.9 631.1 L475.3 633.6 L476.9 636.2 L475.7 640.0 L474.2 641.4 L472.5 642.7 L469.8 644.0 L467.9 644.5 L466.1 645.1 L463.8 645.7 L461.5 646.2 L458.9 646.8 L456.4 647.4 L454.0 647.6 L451.7 648.0 L449.4 648.5 L447.3 648.9 L444.7 649.1 L442.4 649.7 L440.2 649.8 L438.0 650.2 L435.8 650.4 L433.9 650.4 L431.2 650.6 L428.8 650.9 L426.5 651.2 L423.9 651.5 L421.8 651.8 L419.5 652.4 L417.1 652.9 L414.5 653.5 L412.1 653.9 L409.8 654.7 L407.0 655.2 L404.7 655.4 L402.5 655.7 L400.3 655.8 L398.1 655.8 L396.0 656.3 L393.9 656.5 L391.5 656.8 L389.3 656.9 L387.0 657.2 L384.9 657.5 L382.6 657.6 L380.3 657.8 L377.9 658.0 L375.6 658.2 L373.3 658.7 L371.3 659.2 L369.2 659.7 L367.0 659.8 L364.8 660.1 L362.4 660.4 L360.3 660.8 L357.9 661.1 L355.7 661.5 L353.4 661.8 L351.3 662.1 L349.3 662.4 L347.0 662.8 L344.7 663.3 L342.2 663.8 L339.7 664.4 L337.4 665.1 L334.9 665.7 L332.9 666.1 L330.9 667.0 L327.9 668.5 L325.6 669.7 L324.0 671.1 L323.4 673.7 L322.8 676.2 L319.9 679.1 L320.6 681.6 L321.2 683.9 L319.5 685.3 L316.9 686.8 L315.0 687.9 L312.7 688.9 L310.0 689.8 L306.9 691.0 L305.0 691.8 L302.8 692.6 L300.8 693.7 L298.4 694.6 L296.2 695.3 L294.0 696.3 L291.4 697.4 L289.1 698.3 L287.0 699.0 L284.4 699.9 L281.9 700.2 L279.5 700.9 L277.1 701.2 L274.9 701.9 L272.7 702.4 L270.1 702.9 L267.9 703.5 L265.6 703.9 L263.4 704.1 L261.1 704.7 L259.0 705.1 L256.8 705.5 L254.4 706.0 L252.2 706.4 L250.0 707.0 L247.7 707.5 L245.5 708.1 L243.4 708.3 L241.3 709.1 L239.0 709.7 L236.7 710.3 L234.5 710.8 L232.2 711.4 L230.0 712.0 L227.8 712.3 L225.5 713.0 L223.3 713.5 L221.1 714.1 L218.8 714.5 L216.8 715.2 L214.7 715.7 L212.4 716.3 L210.1 717.0 L207.8 717.6 L205.3 718.2 L203.0 719.0 L200.7 719.4 L198.4 719.6 L196.2 720.5 L194.0 720.9 L191.9 721.4 L190.1 721.9 L187.5 722.8 L185.4 723.7 L183.5 725.0 L181.7 726.2 L179.9 727.1 L177.6 729.1 L175.7 731.0 L173.9 733.0 L173.1 735.3 L172.9 737.7 L172.7 740.3 L173.8 743.3 L175.0 746.0 L174.2 747.9 L173.2 749.9 L172.1 752.0 L171.5 754.1 L170.7 756.5 L170.6 758.7 L170.0 761.3 L169.6 763.8 L169.7 766.1 L169.9 768.1 L169.8 770.5 L169.7 772.9 L169.6 775.1 L169.3 777.5 L169.2 780.1 L168.9 782.1 L168.6 784.2 L168.4 786.5 L168.4 788.8 L168.3 790.9 L168.3 793.2 L168.1 795.3 L167.9 797.4 L168.0 799.8 L167.8 802.1 L167.7 804.5 L167.6 807.1 L167.4 809.6 L167.3 811.9 L167.2 814.2 L167.0 816.2 L167.1 818.4 L167.0 820.0 L166.2 820.0 L166.7 821.6 L167.0 823.2 L167.6 824.8 L168.0 826.4 L168.3 828.0 L167.6 829.3 L167.2 830.7 L166.5 832.0 L166.1 833.3 L165.3 834.7 L164.2 836.0 L164.6 837.3 L164.8 838.7 L165.4 840.0 L165.8 841.3 L166.2 842.7 L166.7 844.0 L167.6 845.3 L167.6 846.7 L168.1 848.0 L168.3 849.6 L168.2 851.2 L168.4 852.8 L168.7 854.4 L169.5 856.0 L169.1 857.4 L168.7 858.9 L168.7 860.3 L168.2 861.7 L168.3 863.1 L167.6 864.6 L167.2 866.0 L166.3 867.3 L165.6 868.7 L165.4 870.0 L165.1 871.3 L164.5 872.7 L163.8 874.0 L162.8 875.2 L162.5 876.5 L162.1 877.8 L161.5 879.0 L161.0 880.2 L160.0 881.5 L158.7 882.8 L157.4 884.0 L156.4 885.0 L155.5 886.0 L154.9 887.0 L153.7 888.0 L152.3 889.0 L151.8 890.0 L151.2 891.0 L149.7 892.0 L148.7 892.8 L146.8 893.5 L145.8 894.2 L144.1 895.0 L142.9 895.8 L142.1 896.5 L141.0 897.2 L140.3 898.0 L138.8 898.7 L137.8 899.3 L136.7 900.0 L135.2 900.7 L133.9 901.3 L132.7 902.0 L131.3 902.7 L129.9 903.3 L128.0 904.0" fill="none" stroke="#bcbd22" stroke-opacity="0.5" stroke-width="1.4" stroke-linejoin="round"/>
<path d="M173.1 91.0 L173.2 91.7 L170.9 92.4 L171.6 93.0 L172.7 93.6 L171.5 94.4 L171.1 95.2 L170.5 96.0 L169.8 96.7 L169.4 97.3 L168.5 98.0 L166.5 98.4 L165.2 98.8 L163.2 99.1 L160.5 99.5 L159.3 99.9 L157.4 100.2 L155.4 100.6 L155.4 101.0 L154.3 103.0 L152.7 105.0 L153.8 106.1 L157.2 107.3 L157.9 108.4 L157.9 110.2 L157.5 112.0 L158.7 113.3 L159.8 114.7 L159.8 116.0 L158.6 118.0 L157.9 120.0 L158.4 121.3 L159.9 122.7 L161.8 124.0 L160.7 125.7 L161.1 127.3 L159.9 129.0 L159.6 130.7 L159.9 132.3 L160.7 134.0 L161.1 136.0 L160.2 138.0 L163.3 139.3 L164.1 140.7 L164.4 142.0 L163.9 143.0 L162.0 144.0 L159.4 145.0 L158.9 146.0 L157.8 147.0 L158.3 147.8 L160.5 148.6 L162.0 149.4 L162.3 150.2 L165.4 151.0 L165.0 152.7 L163.7 154.3 L164.0 156.0 L163.5 157.5 L163.6 159.0 L161.7 160.5 L162.4 162.0 L163.8 163.5 L165.0 165.0 L166.2 166.5 L167.8 168.0 L168.5 169.5 L168.6 171.0 L167.8 172.5 L168.7 174.0 L169.2 175.5 L169.1 177.0 L169.1 178.5 L169.9 180.0 L168.1 181.4 L169.2 182.9 L167.9 184.3 L169.0 185.7 L170.2 187.1 L171.5 188.6 L170.6 190.0 L170.3 191.6 L169.8 193.2 L168.1 194.8 L169.0 196.4 L168.9 198.0 L169.1 199.6 L168.3 201.2 L168.3 202.8 L168.3 204.4 L169.2 206.0 L168.3 207.2 L169.7 208.4 L167.8 209.6 L166.7 210.8 L165.9 212.0 L164.8 213.5 L165.3 215.0 L164.6 216.5 L162.6 218.0 L162.8 219.6 L163.7 221.2 L162.9 222.8 L163.4 224.4 L163.6 226.0 L165.0 227.6 L164.6 229.2 L163.7 230.8 L162.9 232.4 L163.9 234.0 L162.2 235.3 L162.6 236.7 L160.5 238.0 L159.8 239.3 L159.1 240.7 L158.2 242.0 L157.3 243.2 L156.8 244.4 L155.3 245.6 L153.5 246.8 L153.5 248.0 L153.5 249.3 L152.3 250.7 L152.0 252.0 L150.3 253.3 L150.9 254.7 L151.0 256.0 L148.9 256.0 L148.1 257.4 L149.2 258.8 L148.2 260.2 L147.3 261.6 L145.3 263.0 L147.8 264.4 L147.1 265.8 L148.5 267.2 L149.2 268.6 L148.1 270.0 L151.4 271.4 L152.8 272.9 L152.6 274.3 L154.1 275.7 L155.9 277.1 L155.0 278.6 L154.8 280.0 L155.8 281.4 L153.9 282.9 L152.8 284.3 L153.1 285.7 L153.2 287.1 L155.4 288.6 L156.5 290.0 L157.4 291.4 L155.7 292.9 L157.3 294.3 L156.9 295.7 L156.4 297.1 L157.9 298.6 L159.2 300.0 L159.5 301.4 L159.0 302.9 L157.3 304.3 L156.9 305.7 L157.3 307.1 L158.7 308.6 L157.4 310.0 L156.4 311.4 L155.8 312.9 L155.1 314.3 L154.7 315.7 L156.6 317.1 L156.8 318.6 L156.6 320.0 L158.5 321.4 L159.8 322.9 L159.9 324.3 L160.4 325.7 L160.5 327.1 L158.0 328.6 L157.7 330.0 L160.0 331.4 L160.6 332.9 L158.2 334.3 L158.7 335.7 L157.1 337.1 L157.5 338.6 L156.5 340.0 L156.1 341.4 L156.4 342.9 L156.6 344.3 L158.5 345.7 L159.2 347.1 L159.8 348.6 L158.8 350.0 L159.6 351.4 L160.7 352.9 L158.9 354.3 L159.2 355.7 L159.7 357.1 L159.4 358.6 L159.0 360.0 L159.6 361.4 L159.6 362.9 L159.3 364.3 L158.5 365.7 L160.1 367.1 L160.0 368.6 L160.2 370.0 L161.5 371.4 L162.0 372.9 L163.7 374.3 L163.6 375.7 L163.9 377.1 L165.2 378.6 L166.6 380.0 L167.6 381.4 L166.8 382.9 L165.1 384.3 L165.8 385.7 L164.6 387.1 L162.2 388.6 L163.2 390.0 L163.7 391.4 L164.4 392.9 L162.2 394.3 L163.4 395.7 L162.9 397.1 L163.8 398.6 L164.5 400.0 L165.1 401.4 L167.2 402.9 L167.8 404.3 L168.5 405.7 L168.0 407.1 L166.3 408.6 L166.0 410.0 L164.4 411.5 L164.9 413.0 L165.3 414.5 L165.4 416.0 L165.5 417.5 L167.2 419.0 L167.5 420.5 L168.6 422.0 L169.2 423.5 L168.8 425.0 L168.8 426.5 L168.6 428.0 L167.3 429.5 L167.1 431.0 L167.9 432.5 L168.1 434.0 L167.7 435.5 L167.3 437.0 L165.9 438.5 L164.1 440.0 L163.2 441.4 L162.7 442.7 L161.9 444.1 L161.5 445.5 L161.8 446.8 L162.2 448.2 L162.3 449.5 L161.0 450.9 L160.4 452.3 L159.1 453.6 L159.2 455.0 L160.0 456.4 L159.2 457.7 L159.1 459.1 L158.5 460.5 L158.0 461.8 L157.5 463.2 L157.2 464.5 L156.8 465.9 L156.8 467.3 L156.7 468.6 L155.8 470.0 L153.8 471.5 L153.2 473.0 L154.1 474.5 L154.3 476.0 L155.5 477.5 L155.9 479.0 L155.7 480.5 L155.8 482.0 L154.8 483.5 L153.1 485.0 L153.8 486.4 L152.8 487.8 L153.7 489.2 L153.7 490.6 L154.0 492.0 L155.8 497.9 L157.1 499.6 L158.2 501.5 L159.6 503.6 L160.9 505.7 L162.2 508.0 L163.0 510.0 L164.1 511.9 L164.9 513.8 L165.9 515.9 L167.3 517.8 L169.0 519.8 L169.8 521.8 L169.8 524.5 L169.5 527.1 L169.0 529.9 L169.1 532.2 L169.1 534.6 L169.1 537.0 L169.5 539.5 L170.1 542.0 L171.2 544.0 L172.3 545.8 L173.8 547.6 L175.1 549.9 L176.6 552.0 L178.2 554.1 L179.8 556.1 L181.7 557.3 L183.4 558.6 L185.3 559.7 L186.9 561.0 L188.8 562.3 L190.8 563.5 L192.5 564.7 L194.3 566.1 L196.3 567.6 L198.0 568.7 L200.0 570.0 L202.0 571.4 L204.0 572.8 L205.8 574.2 L207.5 575.8 L209.4 577.3 L211.4 578.6 L213.3 580.3 L214.8 581.9 L216.7 583.4 L218.3 584.7 L219.9 586.1 L221.5 587.9 L223.0 589.6 L224.4 591.2 L225.5 593.0 L226.8 594.6 L228.2 596.3 L230.0 597.9 L231.7 599.3 L233.5 600.5 L235.3 601.9 L237.3 603.2 L239.4 604.5 L241.3 605.9 L243.6 607.1 L245.5 608.5 L247.3 609.8 L248.7 611.0 L250.2 611.9 L251.8 614.2 L252.5 615.8 L254.0 617.8 L255.4 618.8 L257.3 619.9 L259.3 620.7 L261.3 621.7 L263.7 622.9 L265.8 623.9 L268.2 625.0 L270.2 626.3 L272.1 627.3 L274.4 628.6 L276.4 629.7 L278.6 631.0 L280.8 632.1 L282.9 633.2 L285.0 634.4 L287.0 635.6 L289.7 636.9 L292.0 637.8 L294.6 638.5 L296.8 639.4 L298.9 640.0 L301.0 640.7 L302.6 641.7 L304.5 642.8 L307.0 644.0 L308.8 644.6 L310.7 645.5 L313.2 646.5 L315.5 647.4 L317.8 648.5 L320.1 649.4 L322.5 650.4 L324.6 651.2 L327.0 652.2 L329.1 653.0 L331.4 653.7 L333.6 654.6 L335.7 655.6 L337.9 656.4 L340.3 657.2 L342.6 657.9 L344.7 658.7 L346.8 659.5 L349.2 660.2 L351.5 660.7 L353.6 661.3 L355.7 662.0 L358.0 662.7 L360.2 663.3 L362.4 663.8 L364.8 664.4 L367.1 665.0 L369.4 665.5 L371.5 666.2 L373.6 666.8 L376.0 667.4 L377.9 668.3 L380.2 669.1 L382.5 669.8 L384.6 670.5 L386.8 671.0 L389.1 671.6 L391.3 672.2 L393.6 672.9 L395.8 673.3 L398.2 673.8 L400.5 674.4 L402.8 675.1 L405.1 675.7 L407.4 676.2 L409.4 676.8 L411.5 677.4 L413.7 677.7 L415.7 678.3 L417.9 678.9 L419.9 679.4 L422.0 679.9 L424.1 680.5 L426.0 681.2 L428.2 682.0 L430.5 682.5 L432.6 683.2 L435.1 683.9 L437.4 684.7 L439.8 685.4 L441.7 686.1 L444.1 687.0 L446.2 687.6 L448.5 688.2 L450.8 688.9 L453.0 689.5 L455.1 690.1 L457.2 690.8 L459.5 691.6 L461.7 692.1 L463.7 693.1 L466.1 693.7 L468.5 694.2 L470.8 694.8 L473.4 695.3 L475.5 696.0 L477.7 696.6 L480.0 696.9 L482.2 697.3 L484.1 697.7 L486.8 698.4 L489.2 699.0 L491.1 699.3 L492.7 699.9 L492.2 701.8 L489.7 703.9 L488.2 704.3 L486.2 704.8 L484.2 705.2 L481.6 705.4 L479.3 705.8 L476.7 706.4 L473.9 706.8 L471.7 707.2 L469.6 707.5 L467.3 707.8 L465.1 708.3 L462.6 708.6 L460.3 708.9 L457.8 709.3 L455.3 709.6 L452.9 710.0 L450.4 710.1 L448.3 710.3 L446.3 710.8 L443.8 711.0 L441.5 711.3 L439.3 711.7 L437.0 712.1 L434.7 712.6 L432.6 712.9 L430.3 713.3 L428.2 713.7 L426.0 714.0 L424.1 714.4 L421.6 714.8 L419.1 715.3 L416.8 715.5 L414.4 715.7 L412.1 716.3 L409.6 716.6 L407.2 717.1 L405.0 717.4 L402.7 717.5 L400.4 717.6 L398.1 717.9 L395.9 717.9 L393.6 718.3 L391.3 718.6 L389.3 718.7 L387.2 719.1 L385.0 719.2 L382.7 719.5 L380.3 719.7 L378.1 719.9 L375.8 720.2 L373.7 720.3 L371.2 720.7 L368.9 720.9 L366.9 721.0 L364.9 720.9 L362.6 721.2 L360.5 721.6 L358.2 721.8 L356.1 722.1 L353.8 722.4 L351.4 722.6 L349.1 722.6 L346.8 722.7 L344.7 722.9 L342.6 723.0 L340.3 723.4 L338.1 723.7 L335.9 723.9 L333.7 724.0 L331.4 724.4 L329.1 724.6 L326.9 725.0 L324.6 725.2 L322.4 725.7 L320.3 726.2 L317.9 726.5 L315.5 727.0 L313.0 727.5 L311.0 728.0 L309.0 728.6 L307.1 728.9 L304.5 730.5 L302.4 732.4 L300.6 734.0 L299.0 735.8 L297.5 739.0 L296.8 741.8 L295.7 744.7 L293.9 747.0 L292.1 747.9 L289.8 748.8 L286.9 749.9 L285.3 750.6 L283.4 751.2 L281.1 752.2 L279.0 752.9 L277.0 753.6 L274.6 754.5 L272.2 755.2 L270.0 756.0 L267.9 756.7 L265.6 757.2 L263.5 758.0 L261.2 758.6 L259.2 759.3 L257.0 759.9 L254.6 760.5 L252.3 761.3 L250.3 761.9 L247.7 762.4 L245.6 762.9 L243.4 763.8 L241.4 764.3 L238.9 765.0 L236.5 765.5 L234.2 766.0 L231.9 766.7 L229.8 767.2 L227.5 767.6 L225.3 768.3 L223.0 768.6 L220.4 769.0 L218.1 769.5 L215.9 769.8 L213.6 770.2 L211.4 770.6 L210.0 771.0 L189.7 774.0 L188.5 774.5 L186.8 775.0 L185.7 775.5 L184.7 776.0 L183.2 776.5 L181.6 777.0 L180.4 777.5 L179.1 778.0 L178.1 778.5 L176.7 779.0 L175.2 779.5 L173.6 780.0 L172.7 781.0 L171.6 782.0 L170.5 783.0 L170.0 784.0 L169.1 785.0 L168.0 786.0 L168.3 787.4 L168.4 788.8 L167.9 790.2 L168.1 791.6 L167.4 793.0 L167.3 794.4 L166.9 795.8 L166.4 797.2 L165.9 798.6 L166.3 800.0 L166.1 801.4 L165.7 802.9 L165.4 804.3 L165.1 805.7 L165.0 807.1 L164.6 808.6 L164.3 810.0 L163.7 811.4 L163.0 812.9 L163.1 814.3 L163.1 815.7 L162.4 817.1 L162.1 818.6 L162.0 820.0 L162.1 821.4 L161.6 822.9 L161.2 824.3 L161.3 825.7 L161.1 827.1 L160.6 828.6 L160.3 830.0 L160.3 831.4 L160.4 832.9 L160.2 834.3 L160.3 835.7 L160.1 837.1 L160.0 838.6 L160.1 840.0 L159.9 841.5 L159.5 842.9 L159.0 844.4 L159.2 845.8 L159.0 847.3 L158.7 848.7 L158.7 850.2 L158.0 851.6 L157.9 853.1 L157.8 854.5 L157.5 856.0 L156.9 857.5 L156.7 858.9 L156.6 860.4 L156.3 861.8 L156.3 863.3 L156.1 864.7 L155.2 866.2 L154.6 867.6 L154.3 869.1 L154.1 870.5 L153.6 872.0 L153.3 873.5 L153.2 874.9 L152.7 876.4 L151.8 877.8 L151.9 879.3 L151.6 880.7 L151.0 882.2 L151.2 883.6 L150.6 885.1 L150.2 886.5 L150.0 888.0 L150.2 889.5 L149.5 890.9 L149.3 892.4 L148.8 893.8 L148.8 895.3 L148.0 896.7 L148.0 898.2 L147.2 899.6 L146.7 901.1 L145.9 902.5 L145.6 904.0 L145.7 905.5 L145.5 906.9 L144.9 908.4 L145.0 909.8 L144.8 911.3 L144.0 912.7 L143.5 914.2 L143.0 915.6 L142.7 917.1 L142.5 918.5 L142.0 920.0 L141.4 921.3 L141.0 922.7 L139.8 924.0 L139.0 925.3 L138.4 926.7 L137.6 928.0 L136.6 929.3 L136.2 930.7 L135.5 932.0 L134.3 932.9 L133.5 933.8 L132.5 934.7 L130.9 935.6 L129.9 936.4 L129.0 937.3 L127.5 938.2 L126.8 939.1 L125.9 940.0 L124.5 940.6 L123.0 941.2 L121.3 941.8 L120.5 942.4 L119.7 943.0 L118.0 943.6" fill="none" stroke="#17becf" stroke-opacity="0.5" stroke-width="1.4" stroke-linejoin="round"/>
<path d="M155.1 170.0 L153.5 171.4 L152.4 172.9 L152.9 174.3 L154.5 175.7 L156.2 177.1 L156.1 178.6 L158.7 180.0 L158.2 181.4 L152.9 182.9 L158.9 184.3 L160.1 185.7 L160.8 187.1 L163.9 188.6 L166.1 190.0 L167.0 191.4 L165.4 192.9 L165.9 194.3 L162.4 195.7 L165.6 197.1 L162.4 198.6 L162.9 200.0 L164.2 201.4 L166.1 202.9 L166.8 204.3 L168.9 205.7 L162.6 207.1 L164.8 208.6 L165.5 210.0 L164.9 211.4 L167.8 212.9 L165.1 214.3 L165.1 215.7 L161.7 217.1 L163.6 218.6 L161.2 220.0 L159.3 221.4 L164.1 222.9 L163.6 224.3 L161.7 225.7 L160.8 227.1 L157.9 228.6 L157.4 230.0 L160.0 231.4 L158.0 232.9 L161.0 234.3 L159.5 235.7 L161.3 237.1 L160.0 238.6 L163.3 240.0 L163.9 241.4 L161.9 242.9 L158.7 244.3 L158.6 245.7 L159.8 247.1 L159.1 248.6 L160.3 250.0 L161.8 251.4 L161.0 252.9 L159.7 254.3 L160.7 255.7 L160.1 257.1 L161.8 258.6 L161.7 260.0 L164.7 261.4 L164.0 262.9 L162.5 264.3 L162.8 265.7 L161.6 267.1 L160.0 268.6 L159.9 270.0 L160.7 271.4 L157.4 272.9 L158.5 274.3 L159.2 275.7 L159.8 277.1 L161.4 278.6 L159.6 280.0 L160.9 281.4 L160.5 282.9 L160.7 284.3 L160.7 285.7 L161.0 287.1 L161.3 288.6 L163.0 290.0 L166.3 291.4 L166.8 292.9 L166.6 294.3 L165.6 295.7 L163.3 297.1 L162.8 298.6 L164.2 300.0 L161.0 301.4 L161.9 302.9 L162.9 304.3 L162.7 305.7 L163.3 307.1 L164.1 308.6 L165.3 310.0 L164.6 311.4 L164.3 312.9 L162.5 314.3 L162.1 315.7 L161.1 317.1 L160.7 318.6 L159.6 320.0 L159.9 321.4 L160.6 322.9 L158.7 324.3 L157.6 325.7 L157.0 327.1 L155.9 328.6 L156.5 330.0 L156.5 331.4 L155.3 332.9 L155.2 334.3 L157.2 335.7 L158.3 337.1 L159.3 338.6 L158.8 340.0 L158.3 341.4 L156.0 342.9 L157.8 344.3 L156.6 345.7 L158.0 347.1 L156.6 348.6 L156.1 350.0 L156.6 351.5 L156.0 353.0 L155.0 354.5 L156.0 356.0 L156.4 357.5 L156.7 359.0 L156.5 360.5 L156.4 362.0 L157.0 363.5 L157.4 365.0 L157.7 366.4 L158.3 367.9 L157.3 369.3 L155.9 370.8 L155.0 372.2 L156.3 373.7 L156.2 375.1 L156.2 376.6 L156.4 378.0 L155.6 378.8 L154.3 379.6 L154.0 380.4 L153.0 381.2 L148.4 382.0 L147.7 382.8 L149.7 383.6 L146.4 384.4 L145.3 385.2 L145.2 386.0 L144.7 387.4 L145.8 388.8 L144.2 390.2 L143.4 391.6 L143.9 393.0 L143.3 394.4 L142.3 395.8 L142.6 397.2 L142.0 398.6 L141.0 400.0 L140.3 401.4 L140.5 402.9 L140.5 404.3 L140.1 405.7 L141.1 407.1 L141.5 408.6 L141.4 410.0 L141.4 411.5 L139.7 412.9 L139.3 414.4 L138.7 415.8 L139.9 417.3 L140.1 418.7 L141.5 420.2 L141.8 421.6 L140.2 423.1 L138.4 424.5 L138.1 426.0 L138.2 427.2 L138.5 428.4 L138.3 429.6 L139.9 430.8 L141.1 432.0 L142.5 433.2 L143.8 434.4 L144.2 435.6 L143.9 436.8 L145.7 438.0 L146.1 439.4 L146.5 440.8 L147.9 442.2 L148.0 443.7 L149.3 445.1 L149.4 446.5 L150.0 447.9 L150.4 449.3 L150.9 450.8 L149.7 452.2 L150.4 453.6 L150.0 455.0 L148.8 456.5 L149.1 458.0 L149.3 459.5 L150.2 461.0 L150.8 462.5 L151.1 464.0 L150.2 465.5 L151.9 467.0 L152.7 468.5 L152.6 470.0 L152.6 471.4 L153.1 472.9 L152.3 474.3 L153.1 475.7 L153.4 477.1 L153.2 478.6 L154.0 480.0 L154.6 481.4 L155.7 482.9 L156.0 484.3 L154.9 485.7 L154.3 487.1 L155.2 488.6 L156.0 490.0 L157.0 491.0 L157.8 492.0 L159.4 493.0 L160.3 494.0 L161.5 495.0 L163.3 496.0 L164.3 497.0 L164.8 498.0 L165.2 499.0 L166.2 500.0 L167.9 501.0 L168.3 502.0 L169.8 503.0 L170.0 504.0 L176.1 516.0 L177.1 517.6 L178.2 519.1 L179.2 521.2 L180.3 523.3 L181.8 525.5 L183.2 527.7 L184.8 529.9 L186.1 531.6 L187.5 533.6 L188.9 535.5 L190.4 537.3 L192.0 539.3 L193.6 541.4 L194.8 543.3 L196.2 545.0 L197.5 546.7 L198.9 548.5 L199.8 549.9 L202.5 552.2 L204.4 553.6 L205.6 555.2 L205.3 557.6 L204.3 560.0 L204.0 562.9 L205.2 564.3 L206.8 565.7 L208.7 567.4 L210.7 568.7 L212.5 570.1 L214.3 571.6 L215.8 573.1 L218.0 575.3 L220.2 577.2 L221.9 578.9 L222.7 581.3 L223.9 584.0 L225.7 585.1 L227.6 586.2 L230.0 587.5 L232.2 589.1 L234.3 590.5 L236.4 591.7 L238.2 593.0 L240.1 594.6 L241.5 596.2 L242.7 598.0 L244.4 599.6 L246.2 601.1 L248.2 602.0 L250.6 603.1 L252.7 604.0 L255.2 605.4 L257.8 606.3 L259.9 607.2 L261.9 608.0 L264.7 609.2 L267.0 610.0 L269.4 610.8 L272.1 611.9 L274.1 612.7 L276.1 613.7 L278.0 614.6 L279.9 615.5 L282.5 616.5 L284.7 617.3 L287.1 618.4 L289.1 619.1 L291.2 620.0 L293.5 620.9 L295.8 621.9 L298.1 622.7 L300.1 623.5 L302.5 624.4 L304.7 625.3 L307.0 626.0 L309.2 626.7 L311.5 627.2 L313.6 627.6 L315.8 628.1 L318.0 628.9 L320.2 629.5 L322.5 630.0 L324.6 630.4 L327.0 631.0 L329.3 631.6 L331.2 632.1 L333.6 632.8 L335.9 633.2 L338.0 633.8 L340.3 634.4 L342.8 634.8 L344.9 635.4 L347.0 635.8 L349.2 636.5 L351.4 637.0 L353.7 637.5 L356.0 638.0 L358.1 638.8 L360.4 639.2 L362.6 639.9 L364.7 640.3 L366.9 640.9 L369.0 641.3 L371.2 642.1 L373.4 642.4 L376.0 643.1 L378.2 643.6 L380.4 644.3 L382.5 644.8 L384.6 645.5 L386.7 646.0 L389.0 646.4 L391.4 647.0 L393.5 647.7 L395.9 648.2 L398.3 648.9 L400.6 649.3 L402.8 649.9 L404.8 650.5 L406.9 651.2 L409.5 651.6 L412.2 652.1 L414.8 652.9 L417.1 653.7 L419.4 654.2 L421.9 654.4 L424.0 655.0 L426.8 655.5 L429.2 655.8 L431.7 656.1 L434.0 656.5 L436.4 656.7 L438.9 656.8 L441.2 657.2 L443.7 657.6 L445.9 658.3 L448.2 659.7 L449.6 661.2 L448.7 663.3 L447.7 665.2 L450.7 668.1 L448.7 669.0 L446.2 670.0 L443.9 671.0 L442.9 674.9 L445.2 676.4 L446.6 678.0 L445.1 679.0 L443.1 680.1 L440.6 681.2 L438.3 682.2 L435.9 683.1 L433.8 684.1 L431.3 685.0 L429.2 685.9 L426.6 687.0 L424.0 687.7 L421.7 687.9 L419.4 688.3 L417.0 688.7 L414.6 688.6 L412.2 688.7 L409.5 688.7 L406.9 689.1 L404.7 689.3 L402.6 689.3 L400.5 689.4 L397.9 689.9 L395.8 689.9 L393.4 690.2 L391.3 690.5 L389.2 690.5 L386.9 690.6 L384.9 690.9 L382.7 691.2 L380.5 691.5 L378.3 691.7 L376.1 692.1 L373.7 692.3 L371.5 692.4 L369.4 692.6 L367.0 692.9 L364.5 693.0 L362.4 693.2 L360.3 693.6 L358.0 693.8 L356.0 694.0 L353.5 694.2 L351.2 694.6 L349.4 694.9 L347.3 695.0 L344.9 695.3 L342.8 695.5 L340.3 695.8 L338.2 695.7 L335.9 695.8 L333.5 696.0 L331.3 696.4 L329.3 696.7 L327.0 696.9 L324.8 697.2 L322.5 697.6 L320.3 697.9 L318.1 698.2 L315.9 698.5 L313.7 698.8 L311.4 699.2 L309.2 699.6 L307.0 700.1 L304.9 700.5 L302.6 701.0 L300.3 701.4 L297.7 701.9 L295.3 702.3 L293.1 702.7 L291.1 703.2 L289.1 703.5 L287.3 703.9 L284.1 704.6 L281.9 705.0 L280.1 705.9 L279.4 708.0 L278.7 710.6 L278.1 713.1 L276.9 715.0 L275.9 717.0 L273.9 719.1 L272.5 720.1 L270.9 721.1 L269.1 722.5 L267.0 723.6 L264.9 724.8 L262.6 725.8 L260.3 726.8 L257.9 727.8 L256.0 728.5 L254.0 729.2 L252.0 729.7 L249.9 730.2 L247.5 731.0 L245.1 731.4 L243.1 731.9 L240.8 732.5 L238.3 733.0 L236.1 733.7 L234.0 734.1 L231.9 734.6 L229.9 734.9 L227.3 735.6 L225.0 736.2 L222.7 736.8 L220.5 737.4 L218.3 738.1 L216.2 738.6 L214.0 739.0 L211.8 739.5 L209.8 740.1 L207.4 740.7 L205.4 741.3 L203.2 741.8 L200.9 742.4 L198.7 743.3 L196.1 743.8 L194.0 744.6 L191.7 745.4 L189.6 746.3 L187.4 747.1 L185.4 748.0 L183.1 748.7 L180.8 749.7 L178.4 750.8 L176.2 751.6 L174.0 752.5 L171.9 753.3 L170.0 754.0 L167.5 754.7 L165.0 755.6 L162.6 756.3 L160.2 757.1 L157.9 757.8 L155.6 758.5 L153.7 759.1 L151.8 759.5 L150.0 760.0 L153.8 766.0 L154.5 767.2 L155.7 768.5 L156.4 769.8 L156.7 771.0 L157.2 772.2 L158.3 773.5 L158.7 774.8 L159.4 776.0 L160.2 777.4 L161.2 778.8 L162.0 780.2 L162.2 781.6 L162.2 783.0 L162.3 784.4 L163.0 785.8 L163.5 787.2 L164.2 788.6 L164.7 790.0 L164.7 791.5 L164.0 792.9 L163.5 794.4 L163.4 795.8 L163.3 797.3 L162.7 798.7 L162.8 800.2 L161.9 801.6 L161.7 803.1 L161.4 804.5 L161.7 806.0 L161.2 807.1 L160.4 808.3 L159.9 809.4 L159.5 810.6 L158.3 811.7 L157.2 812.9 L156.1 814.0 L154.9 814.8 L153.5 815.6 L151.9 816.4 L151.2 817.2 L149.7 818.0 L148.5 819.3 L148.5 820.7 L147.6 822.0 L147.4 823.3 L147.1 824.7 L146.0 826.0 L145.7 827.4 L146.3 828.9 L145.7 830.3 L145.6 831.7 L145.8 833.1 L146.1 834.6 L147.0 836.0 L145.6 836.8 L143.8 837.6 L143.1 838.4 L141.8 839.2 L140.3 840.0 L140.4 841.4 L140.1 842.8 L139.6 844.2 L138.8 845.6 L138.4 847.0 L138.5 848.4 L138.3 849.8 L137.9 851.2 L137.3 852.6 L137.4 854.0 L135.8 854.7 L134.5 855.3 L132.9 856.0 L134.5 857.0 L135.8 858.0 L134.6 858.9 L133.2 859.7 L132.2 860.6 L131.2 861.4 L130.2 862.3 L128.9 863.1 L128.0 864.0 L127.0 864.9 L125.7 865.7 L124.7 866.6 L123.9 867.4 L122.7 868.3 L122.0 869.1 L120.8 870.0 L121.3 871.3 L121.7 872.7 L121.3 874.0 L121.2 875.3 L122.1 876.7 L122.6 878.0 L123.6 879.0 L125.0 880.0 L126.3 881.0 L127.4 882.0 L127.4 883.5 L128.1 885.0 L127.5 886.5 L128.2 888.0 L129.0 889.0 L130.3 890.0 L131.3 891.0 L132.3 892.0 L133.8 893.0 L134.4 894.0 L133.0 895.2 L132.2 896.4 L130.9 897.6 L130.2 898.8 L129.3 900.0 L128.6 901.0 L127.4 902.0 L126.5 903.0 L125.1 904.0 L124.4 905.0 L123.4 906.0 L122.9 907.0 L122.7 908.0 L121.7 909.0 L120.9 910.0 L119.5 911.0 L118.3 912.0 L118.0 913.0 L116.3 914.0 L115.3 915.0 L114.5 916.0 L113.7 917.0 L112.4 918.0 L111.3 919.0 L110.5 920.0 L109.6 920.8 L108.1 921.5 L106.7 922.2 L105.8 923.0 L104.7 923.8 L103.0 924.5 L101.8 925.2 L100.4 926.0 L99.0 926.7 L97.0 927.3 L95.9 928.0 L94.5 928.7 L92.7 929.3 L91.5 930.0 L89.9 930.7 L88.5 931.3 L88.0 932.0" fill="none" stroke="#1f77b4" stroke-opacity="0.5" stroke-width="1.4" stroke-linejoin="round"/>
<path d="M154.4 143.0 L157.0 146.0 L160.0 149.6 L154.0 152.4 L155.0 155.0 L170.0 159.0 L174.0 160.0 L160.0 165.0 L162.0 166.0 L160.7 166.0 L157.5 167.4 L158.3 168.8 L157.9 170.2 L158.2 171.6 L160.0 173.0 L162.2 174.4 L163.8 175.8 L165.0 177.2 L169.4 178.6 L169.5 180.0 L165.2 181.4 L167.0 182.9 L167.0 184.3 L167.5 185.7 L171.3 187.1 L170.1 188.6 L165.3 190.0 L166.1 191.4 L164.9 192.9 L162.2 194.3 L161.4 195.7 L161.9 197.1 L163.9 198.6 L164.9 200.0 L166.6 201.4 L170.8 202.9 L168.2 204.3 L166.3 205.7 L165.8 207.1 L167.8 208.6 L165.9 210.0 L168.8 211.4 L166.0 212.9 L164.9 214.3 L166.0 215.7 L164.8 217.1 L164.1 218.6 L165.1 220.0 L165.6 221.4 L164.8 222.9 L164.0 224.3 L166.7 225.7 L167.4 227.1 L167.3 228.6 L169.8 230.0 L167.9 231.4 L168.1 232.9 L168.5 234.3 L167.2 235.7 L165.1 237.1 L165.1 238.6 L163.6 240.0 L163.0 241.4 L162.0 242.9 L164.9 244.3 L163.6 245.7 L165.0 247.1 L164.4 248.6 L162.8 250.0 L163.2 251.4 L163.2 252.9 L163.4 254.3 L162.1 255.7 L163.8 257.1 L166.3 258.6 L167.3 260.0 L168.5 261.5 L169.6 263.0 L168.5 264.5 L169.7 266.0 L166.1 267.5 L165.9 269.0 L163.3 270.5 L166.5 272.0 L167.8 273.5 L170.8 275.0 L170.0 276.6 L167.5 278.1 L170.2 279.7 L168.9 281.3 L168.7 282.9 L170.5 284.4 L170.0 286.0 L170.0 286.0 L182.0 294.0 L186.0 300.0 L176.0 298.0 L179.0 306.0 L181.0 310.0 L170.0 312.0 L178.0 314.0 L168.0 320.0 L166.2 320.0 L165.5 321.4 L165.2 322.9 L164.1 324.3 L165.5 325.7 L164.9 327.1 L166.9 328.6 L166.6 330.0 L167.6 331.4 L168.1 332.9 L167.4 334.3 L166.2 335.7 L165.0 337.1 L163.9 338.6 L166.2 340.0 L166.6 341.4 L168.2 342.9 L167.2 344.3 L166.3 345.7 L164.4 347.1 L163.2 348.6 L160.9 350.0 L162.2 351.4 L163.2 352.9 L164.5 354.3 L165.5 355.7 L163.6 357.1 L160.9 358.6 L162.5 360.0 L162.5 361.4 L160.9 362.9 L159.6 364.3 L160.4 365.7 L161.8 367.1 L161.4 368.6 L160.2 370.0 L161.1 371.4 L162.0 372.9 L160.2 374.3 L161.0 375.7 L159.6 377.1 L159.8 378.6 L160.4 380.0 L160.6 381.4 L159.5 382.9 L160.9 384.3 L160.2 385.7 L161.8 387.1 L160.0 388.6 L159.9 390.0 L159.5 391.4 L158.6 392.9 L158.7 394.3 L158.6 395.7 L160.1 397.1 L159.8 398.6 L160.3 400.0 L158.7 401.4 L159.6 402.9 L159.8 404.3 L160.2 405.7 L160.2 407.1 L158.1 408.6 L156.5 410.0 L156.1 411.4 L156.1 412.9 L157.9 414.3 L156.0 415.7 L156.4 417.1 L157.1 418.6 L156.2 420.0 L154.3 421.4 L153.6 422.9 L154.4 424.3 L155.2 425.7 L155.2 427.1 L155.8 428.6 L157.3 430.0 L156.8 431.4 L158.3 432.9 L156.6 434.3 L157.7 435.7 L155.6 437.1 L156.5 438.6 L156.0 440.0 L154.7 441.4 L155.2 442.9 L155.8 444.3 L156.1 445.7 L155.7 447.1 L154.9 448.6 L154.2 450.0 L154.0 451.4 L154.7 452.9 L154.8 454.3 L155.3 455.7 L155.5 457.1 L156.7 458.6 L158.2 460.0 L159.1 461.4 L157.2 462.9 L156.3 464.3 L155.6 465.7 L155.8 467.1 L157.6 468.6 L157.4 470.0 L157.8 471.4 L158.1 472.9 L157.3 474.3 L157.4 475.7 L157.8 477.1 L158.1 478.6 L158.7 480.0 L159.8 481.1 L161.1 482.2 L161.5 483.3 L163.9 484.4 L165.5 485.5 L166.2 486.5 L167.2 487.6 L168.0 488.7 L168.2 489.8 L170.0 490.9 L170.7 492.0 L172.4 492.9 L173.9 493.8 L173.8 494.7 L174.2 495.6 L175.7 496.4 L176.5 497.3 L177.3 498.2 L178.5 499.1 L180.0 500.0 L200.2 520.1 L201.3 521.4 L202.6 522.8 L204.2 524.4 L205.7 526.1 L207.3 528.2 L209.1 530.2 L210.5 532.1 L212.3 534.2 L214.1 536.2 L215.9 537.9 L217.7 539.7 L219.3 541.4 L221.1 543.1 L222.5 544.8 L224.0 546.5 L225.9 548.2 L227.5 549.7 L229.1 551.4 L230.6 553.2 L232.3 554.8 L234.1 556.3 L236.1 557.7 L237.8 559.1 L239.5 560.4 L241.2 561.5 L242.9 562.8 L244.5 564.1 L246.2 565.3 L248.1 566.4 L250.3 567.7 L252.2 568.9 L253.8 570.1 L255.4 571.5 L257.3 572.8 L259.2 574.1 L261.2 575.5 L262.9 576.9 L264.8 578.0 L266.6 579.3 L268.4 580.7 L269.9 581.9 L271.9 583.3 L274.1 585.0 L276.2 586.3 L278.0 587.6 L279.9 589.1 L281.8 590.2 L283.8 591.7 L285.4 592.8 L287.1 593.9 L289.2 595.4 L291.6 597.0 L293.3 598.4 L295.2 599.8 L297.3 601.1 L299.1 602.3 L301.1 603.4 L302.9 604.2 L304.8 604.9 L307.1 606.0 L309.0 606.8 L311.0 607.9 L313.1 608.8 L315.3 609.8 L317.8 610.9 L319.9 611.8 L322.1 613.0 L324.6 613.7 L326.9 614.7 L329.0 615.6 L331.3 616.7 L333.5 617.8 L335.9 618.7 L338.3 619.8 L340.3 620.6 L342.6 621.5 L345.0 622.2 L347.2 623.0 L349.5 623.6 L351.5 624.4 L353.8 625.0 L355.9 625.8 L358.0 626.4 L360.1 627.1 L362.4 627.6 L364.8 628.3 L367.0 629.1 L369.3 629.8 L371.4 630.6 L373.5 631.4 L375.7 632.0 L377.9 632.9 L380.3 633.7 L382.6 634.4 L384.8 635.3 L387.1 636.0 L389.5 636.9 L391.6 637.6 L393.9 638.3 L396.1 639.1 L398.3 639.9 L400.5 640.8 L402.9 641.5 L405.1 642.5 L407.2 643.1 L409.4 643.9 L411.5 644.6 L413.4 645.3 L415.4 646.1 L417.3 646.7 L419.5 647.5 L421.5 648.3 L423.8 649.0 L426.0 649.4 L428.3 650.2 L430.6 650.9 L433.0 651.5 L435.1 652.5 L437.4 653.0 L439.6 653.7 L441.8 654.4 L443.9 655.0 L446.2 655.7 L448.7 656.5 L451.0 657.3 L453.1 657.9 L455.5 658.6 L457.8 659.4 L460.0 660.0 L462.2 660.8 L464.2 661.6 L466.7 662.5 L468.6 663.6 L470.3 664.7 L472.2 665.9 L473.6 667.0 L475.5 669.3 L476.8 671.8 L476.9 674.8 L476.2 678.0 L474.7 679.8 L471.9 681.3 L469.9 681.6 L467.9 681.9 L465.8 682.2 L463.5 682.8 L461.2 683.0 L458.8 683.3 L456.4 683.6 L454.1 684.0 L452.0 684.3 L449.5 684.5 L447.3 684.9 L445.1 685.1 L442.6 685.5 L440.3 685.9 L438.1 686.5 L435.9 686.7 L434.1 687.1 L431.4 687.5 L429.0 687.6 L426.6 688.0 L423.8 688.2 L421.6 688.3 L419.3 688.4 L417.1 688.4 L414.6 688.8 L412.0 689.0 L409.6 689.2 L407.1 689.6 L405.0 690.0 L402.7 690.4 L400.6 690.3 L398.3 690.7 L395.8 691.1 L393.8 691.4 L391.6 691.6 L389.4 692.1 L387.1 692.4 L384.8 692.8 L382.6 693.1 L380.3 693.3 L378.0 693.7 L375.8 693.9 L373.6 694.2 L371.5 694.3 L369.4 694.7 L367.0 695.1 L364.6 695.4 L362.3 695.8 L360.2 696.0 L358.1 696.4 L356.0 696.8 L353.7 697.1 L351.3 697.4 L349.2 697.5 L347.0 698.0 L345.0 698.4 L342.6 698.8 L340.5 699.1 L338.0 699.3 L335.9 699.7 L333.6 700.0 L331.4 700.4 L329.4 700.6 L327.2 700.9 L325.1 701.0 L322.6 701.5 L320.4 702.1 L318.0 702.7 L316.1 703.4 L313.8 703.7 L311.5 704.1 L309.4 704.5 L307.1 705.1 L304.9 705.6 L302.5 706.0 L300.1 706.9 L297.8 707.4 L295.4 707.9 L293.2 708.4 L291.0 708.9 L288.9 709.3 L286.8 709.5 L283.9 709.9 L281.8 710.0 L279.9 710.2 L277.9 710.3 L275.0 713.0 L278.2 715.9 L276.8 716.8 L275.1 717.7 L272.9 718.6 L270.1 719.6 L268.2 720.5 L266.1 721.4 L263.9 722.4 L261.7 723.4 L259.4 724.5 L256.9 725.4 L254.4 726.3 L252.3 727.1 L250.1 727.9 L247.8 728.6 L245.7 729.5 L243.6 729.9 L241.6 730.4 L239.3 730.8 L236.7 731.3 L234.6 731.9 L232.3 732.6 L230.2 733.3 L228.0 733.5 L225.7 734.1 L223.4 734.9 L221.0 735.1 L218.8 735.7 L216.6 736.3 L214.6 736.7 L212.1 737.5 L209.9 738.2 L207.7 738.8 L205.5 739.0 L203.3 739.6 L201.2 740.2 L199.0 740.8 L196.8 741.2 L194.7 741.7 L192.3 742.5 L190.0 743.2 L187.8 744.0 L185.3 744.6 L183.1 745.3 L180.8 746.1 L178.8 746.8 L176.3 747.7 L174.1 748.4 L171.9 749.3 L170.1 750.2 L168.0 751.4 L166.1 752.9 L164.9 754.4 L163.5 756.3 L162.1 758.0 L161.0 760.4 L159.9 762.8 L158.8 765.4 L158.0 768.1 L158.0 770.1 L158.2 772.6 L158.2 774.9 L158.2 777.3 L158.4 779.7 L158.6 781.7 L159.0 784.1 L159.3 786.4 L159.9 788.9 L160.1 791.2 L160.5 793.6 L161.0 795.8 L161.3 797.9 L161.7 799.9 L163.0 802.1 L164.3 804.2 L165.6 806.0 L166.7 807.9 L167.7 809.8 L167.8 812.5 L167.3 815.4 L166.7 817.8 L166.0 820.0 L169.2 832.0 L169.0 833.4 L169.3 834.8 L169.7 836.2 L169.7 837.6 L169.7 839.0 L169.2 840.4 L169.4 841.8 L169.3 843.2 L168.6 844.6 L168.1 846.0 L168.0 847.4 L167.4 848.8 L167.1 850.2 L166.9 851.6 L167.3 853.0 L167.1 854.4 L167.1 855.8 L167.2 857.2 L167.2 858.6 L167.1 860.0 L166.2 861.3 L165.3 862.7 L163.7 864.0 L163.1 865.3 L162.7 866.7 L162.2 868.0 L161.3 869.3 L160.7 870.7 L159.9 872.0 L159.5 873.5 L159.0 875.0 L158.4 876.5 L157.8 878.0 L157.6 879.5 L157.7 881.0 L158.8 882.5 L158.0 884.0 L158.6 885.5 L159.1 887.0 L159.4 888.5 L159.4 890.0 L159.4 891.5 L159.5 893.0 L159.5 894.5 L159.7 896.0 L159.3 897.3 L159.0 898.7 L158.7 900.0 L158.0 901.3 L157.9 902.7 L157.5 904.0 L156.7 905.3 L155.8 906.7 L155.2 908.0 L155.8 909.6 L156.5 911.2 L156.8 912.8 L157.7 914.4 L157.6 916.0 L157.1 917.1 L155.5 918.2 L154.8 919.3 L153.5 920.4 L152.2 921.6 L151.6 922.7 L150.9 923.8 L150.2 924.9 L149.8 926.0 L148.7 926.9 L147.4 927.8 L146.6 928.7 L146.0 929.6 L145.1 930.4 L143.4 931.3 L142.1 932.2 L141.0 933.1 L139.9 934.0 L138.4 935.3 L137.5 936.5 L136.6 937.8 L135.6 939.1 L135.6 940.3 L134.0 941.6" fill="none" stroke="#ff7f0e" stroke-opacity="0.5" stroke-width="1.4" stroke-linejoin="round"/>
<path d="M163.6 284.6 L157.0 286.0 L155.9 288.2 L157.0 290.1 L154.2 292.8 L157.0 295.2 L162.1 297.4 L164.6 301.0 L166.2 305.1 L165.5 308.1 L162.6 309.7 L159.0 311.7 L158.0 314.3 L160.5 317.3 L164.6 319.9 L167.9 322.5 L167.5 325.0 L165.7 327.6 L170.3 329.1 L172.6 331.1 L172.8 333.7 L171.8 336.8 L171.3 338.8 L175.9 342.4 L170.3 343.9 L167.9 346.5 L167.5 349.5 L163.1 353.6 L163.6 356.7 L165.7 358.7 L170.3 361.8 L167.2 364.3 L163.1 367.4 L162.1 370.0 L163.4 372.5 L161.8 374.6 L164.1 376.1 L160.5 379.2 L159.0 382.2 L159.0 380.0 L158.7 386.1 L158.3 392.3 L159.0 396.9 L162.6 398.9 L162.8 403.0 L159.5 405.0 L160.5 407.6 L164.6 411.7 L169.7 416.3 L174.9 419.9 L181.0 422.9 L188.1 428.0 L195.3 433.6 L193.8 435.7 L188.1 437.2 L181.0 440.3 L173.8 441.8 L169.2 443.9 L167.7 447.4 L170.8 450.0 L169.2 452.6 L164.6 455.1 L161.8 458.7 L162.4 461.7 L163.1 465.8 L165.1 469.9 L162.6 473.5 L159.0 476.6 L161.6 480.1 L165.7 483.2 L171.8 486.0 L178.6 491.7 L174.4 494.7 L176.1 500.9 L175.0 500.0 L177.5 507.5 L180.0 516.2 L187.4 523.7 L192.4 528.7 L204.9 534.9 L206.9 538.7 L217.4 543.7 L227.4 547.4 L236.1 551.9 L239.9 556.2 L241.1 559.9 L249.9 564.9 L262.3 569.9 L279.8 574.9 L299.8 579.9 L321.0 586.1 L346.0 594.4 L375.9 602.3 L380.9 607.3 L390.9 611.1 L420.9 617.3 L424.0 618.4 L444.0 623.0 L464.0 627.6 L484.0 631.0 L504.0 634.0 L510.0 636.0 L524.0 642.0 L544.0 647.0 L561.0 649.6 L568.2 651.3 L579.0 654.2 L583.1 656.6 L592.3 659.0 L603.1 660.9 L607.2 663.4 L603.1 666.2 L592.3 666.7 L568.2 666.2 L561.4 666.5 L561.0 666.4 L544.0 667.0 L524.0 668.0 L504.0 669.6 L484.0 673.0 L476.0 676.0 L468.0 679.0 L460.0 681.0 L450.0 685.0 L450.0 687.0 L458.0 691.0 L474.0 696.0 L482.0 699.0 L484.0 701.0 L504.0 706.0 L515.0 709.0 L517.6 714.0 L517.0 716.0 L484.0 717.6 L444.0 720.0 L424.0 721.6 L395.9 724.2 L346.0 726.7 L321.0 727.9 L299.8 729.2 L274.8 729.7 L249.9 730.9 L224.9 732.7 L199.9 736.6 L187.2 738.6 L191.3 742.2 L195.4 744.2 L187.2 745.7 L178.0 747.8 L170.9 751.9 L166.3 756.5 L168.8 759.0 L170.4 761.1 L167.8 762.6 L162.7 764.6 L162.7 767.2 L165.8 769.2 L166.8 772.3 L173.4 776.9 L170.9 778.4 L165.3 780.0 L164.2 783.0 L165.3 787.1 L165.3 792.2 L164.2 795.3 L161.2 796.8 L163.2 800.4 L164.7 803.5 L163.7 805.5 L160.1 807.6 L158.6 810.6 L154.5 813.7 L152.0 816.7 L148.9 822.4 L147.4 823.9 L140.2 827.0 L137.2 828.0 L133.1 830.6 L133.6 833.7 L136.2 836.2 L133.1 838.8 L132.1 841.3 L136.2 844.4 L139.3 847.5 L141.3 853.1 L137.2 856.7 L136.7 861.3 L140.3 865.3 L145.9 868.9 L144.4 872.5 L137.2 876.1 L130.1 879.1 L130.6 884.2 L132.6 887.8 L134.2 889.9 L131.6 895.5 L127.0 897.5 L121.9 900.1 L118.3 903.7 L114.7 907.7 L114.2 910.3 L109.6 912.3 L102.5 915.9 L99.9 919.0 L98.2 923.1" fill="none" stroke="#000" stroke-width="2.75" stroke-linejoin="round" stroke-linecap="butt"/>
</g>
<path d="M59.6 988.3V0M59.03 988.3H685" fill="none" stroke="#000" stroke-width="1.15"/>
<rect x="684" y="0" width="1" height="988.87" fill="#000"/>
<rect x="59.03" y="0" width="625.97" height="0.9" fill="#000"/>
<path d="M59.6 946.70h-4.6" stroke="#000" stroke-width="1.15"/>
<text class="tk" transform="translate(51.400000000000006 953.00) scale(1 1.015)" text-anchor="end">0</text>
<path d="M59.6 905.02h-4.6" stroke="#000" stroke-width="1.15"/>
<text class="tk" transform="translate(51.400000000000006 911.32) scale(1 1.015)" text-anchor="end">20</text>
<path d="M59.6 863.34h-4.6" stroke="#000" stroke-width="1.15"/>
<text class="tk" transform="translate(51.400000000000006 869.64) scale(1 1.015)" text-anchor="end">40</text>
<path d="M59.6 821.66h-4.6" stroke="#000" stroke-width="1.15"/>
<text class="tk" transform="translate(51.400000000000006 827.96) scale(1 1.015)" text-anchor="end">60</text>
<path d="M59.6 779.98h-4.6" stroke="#000" stroke-width="1.15"/>
<text class="tk" transform="translate(51.400000000000006 786.28) scale(1 1.015)" text-anchor="end">80</text>
<path d="M59.6 738.30h-4.6" stroke="#000" stroke-width="1.15"/>
<text class="tk" transform="translate(51.400000000000006 744.60) scale(1 1.015)" text-anchor="end">100</text>
<path d="M59.6 696.62h-4.6" stroke="#000" stroke-width="1.15"/>
<text class="tk" transform="translate(51.400000000000006 702.92) scale(1 1.015)" text-anchor="end">120</text>
<path d="M59.6 654.94h-4.6" stroke="#000" stroke-width="1.15"/>
<text class="tk" transform="translate(51.400000000000006 661.24) scale(1 1.015)" text-anchor="end">140</text>
<path d="M59.6 613.26h-4.6" stroke="#000" stroke-width="1.15"/>
<text class="tk" transform="translate(51.400000000000006 619.56) scale(1 1.015)" text-anchor="end">160</text>
<path d="M59.6 571.58h-4.6" stroke="#000" stroke-width="1.15"/>
<text class="tk" transform="translate(51.400000000000006 577.88) scale(1 1.015)" text-anchor="end">180</text>
<path d="M59.6 529.90h-4.6" stroke="#000" stroke-width="1.15"/>
<text class="tk" transform="translate(51.400000000000006 536.20) scale(1 1.015)" text-anchor="end">200</text>
<path d="M59.6 488.22h-4.6" stroke="#000" stroke-width="1.15"/>
<text class="tk" transform="translate(51.400000000000006 494.52) scale(1 1.015)" text-anchor="end">220</text>
<path d="M59.6 446.54h-4.6" stroke="#000" stroke-width="1.15"/>
<text class="tk" transform="translate(51.400000000000006 452.84) scale(1 1.015)" text-anchor="end">240</text>
<path d="M59.6 404.86h-4.6" stroke="#000" stroke-width="1.15"/>
<text class="tk" transform="translate(51.400000000000006 411.16) scale(1 1.015)" text-anchor="end">260</text>
<path d="M59.6 363.18h-4.6" stroke="#000" stroke-width="1.15"/>
<text class="tk" transform="translate(51.400000000000006 369.48) scale(1 1.015)" text-anchor="end">280</text>
<path d="M59.6 321.50h-4.6" stroke="#000" stroke-width="1.15"/>
<text class="tk" transform="translate(51.400000000000006 327.80) scale(1 1.015)" text-anchor="end">300</text>
<path d="M59.6 279.82h-4.6" stroke="#000" stroke-width="1.15"/>
<text class="tk" transform="translate(51.400000000000006 286.12) scale(1 1.015)" text-anchor="end">320</text>
<path d="M59.6 238.14h-4.6" stroke="#000" stroke-width="1.15"/>
<text class="tk" transform="translate(51.400000000000006 244.44) scale(1 1.015)" text-anchor="end">340</text>
<path d="M59.6 196.46h-4.6" stroke="#000" stroke-width="1.15"/>
<text class="tk" transform="translate(51.400000000000006 202.76) scale(1 1.015)" text-anchor="end">360</text>
<path d="M59.6 154.78h-4.6" stroke="#000" stroke-width="1.15"/>
<text class="tk" transform="translate(51.400000000000006 161.08) scale(1 1.015)" text-anchor="end">380</text>
<path d="M59.6 113.10h-4.6" stroke="#000" stroke-width="1.15"/>
<text class="tk" transform="translate(51.400000000000006 119.40) scale(1 1.015)" text-anchor="end">400</text>
<path d="M59.6 71.42h-4.6" stroke="#000" stroke-width="1.15"/>
<text class="tk" transform="translate(51.400000000000006 77.72) scale(1 1.015)" text-anchor="end">420</text>
<path d="M163.30 988.3v4.6" stroke="#000" stroke-width="1.2"/>
<text class="tk" transform="translate(163.30 1008.50) scale(1 1.015)" text-anchor="middle">0.0</text>
<path d="M283.10 988.3v4.6" stroke="#000" stroke-width="1.2"/>
<text class="tk" transform="translate(283.10 1008.50) scale(1 1.015)" text-anchor="middle">0.5</text>
<path d="M402.90 988.3v4.6" stroke="#000" stroke-width="1.2"/>
<text class="tk" transform="translate(402.90 1008.50) scale(1 1.015)" text-anchor="middle">1.0</text>
<path d="M522.70 988.3v4.6" stroke="#000" stroke-width="1.2"/>
<text class="tk" transform="translate(522.70 1008.50) scale(1 1.015)" text-anchor="middle">1.5</text>
<path d="M642.50 988.3v4.6" stroke="#000" stroke-width="1.2"/>
<text class="tk" transform="translate(642.50 1008.50) scale(1 1.015)" text-anchor="middle">2.0</text>
<text class="tk" transform="translate(684.0 1026.9) scale(1 1.015)" text-anchor="end">1e11</text>
<text class="ax" x="372" y="1033.2" text-anchor="middle">Electron Density (m<tspan font-size="13" dy="-7">−3</tspan><tspan dy="7">)</tspan></text>
<text class="ax" transform="translate(13.9 494) rotate(-90)" text-anchor="middle">Altitude (km)</text>
<rect x="557.0" y="7.6" width="120.0" height="353.6" rx="3" ry="3" fill="#fff" fill-opacity="0.8" stroke="#cccccc" stroke-width="1.1"/>
<path d="M563 19.80h30" stroke="#1f77b4" stroke-opacity="0.5" stroke-width="1.5"/>
<text class="lg" transform="translate(605.0 24.80) scale(1 1.015)">27/04/22</text>
<path d="M563 41.53h30" stroke="#ff7f0e" stroke-opacity="0.5" stroke-width="1.5"/>
<text class="lg" transform="translate(605.0 46.53) scale(1 1.015)">25/08/22</text>
<path d="M563 63.26h30" stroke="#2ca02c" stroke-opacity="0.5" stroke-width="1.5"/>
<text class="lg" transform="translate(605.0 68.26) scale(1 1.015)">30/08/22</text>
<path d="M563 84.99h30" stroke="#d62728" stroke-opacity="0.5" stroke-width="1.5"/>
<text class="lg" transform="translate(605.0 89.99) scale(1 1.015)">17/09/22</text>
<path d="M563 106.72h30" stroke="#9467bd" stroke-opacity="0.5" stroke-width="1.5"/>
<text class="lg" transform="translate(605.0 111.72) scale(1 1.015)">19/09/22</text>
<path d="M563 128.45h30" stroke="#8c564b" stroke-opacity="0.5" stroke-width="1.5"/>
<text class="lg" transform="translate(605.0 133.45) scale(1 1.015)">19/12/22</text>
<path d="M563 150.18h30" stroke="#e377c2" stroke-opacity="0.5" stroke-width="1.5"/>
<text class="lg" transform="translate(605.0 155.18) scale(1 1.015)">23/02/23</text>
<path d="M563 171.91h30" stroke="#7f7f7f" stroke-opacity="0.5" stroke-width="1.5"/>
<text class="lg" transform="translate(605.0 176.91) scale(1 1.015)">26/02/23</text>
<path d="M563 193.64h30" stroke="#bcbd22" stroke-opacity="0.5" stroke-width="1.5"/>
<text class="lg" transform="translate(605.0 198.64) scale(1 1.015)">20/03/23</text>
<path d="M563 215.37h30" stroke="#17becf" stroke-opacity="0.5" stroke-width="1.5"/>
<text class="lg" transform="translate(605.0 220.37) scale(1 1.015)">15/05/23</text>
<path d="M563 237.10h30" stroke="#1f77b4" stroke-opacity="0.5" stroke-width="1.5"/>
<text class="lg" transform="translate(605.0 242.10) scale(1 1.015)">10/10/23</text>
<path d="M563 258.83h30" stroke="#ff7f0e" stroke-opacity="0.5" stroke-width="1.5"/>
<text class="lg" transform="translate(605.0 263.83) scale(1 1.015)">31/05/24</text>
<path d="M563 280.56h30" stroke="#000" stroke-width="2.75"/>
<text class="lg" transform="translate(605.0 285.56) scale(1 1.015)">15/05/24</text>
<rect x="563" y="297.09" width="30" height="10.4" fill="#c8c8c8"/>
<text class="lg" transform="translate(605.0 307.29) scale(1 1.015)">1<tspan font-style="italic">σ</tspan> error</text>
<path d="M570.4 318.42L585.6 333.62M570.4 333.62L585.6 318.42" stroke="#0000ff" stroke-width="2.1" fill="none"/>
<text class="lg" transform="translate(609.6 330.82) scale(1 1.015)"><tspan font-style="italic">M</tspan>1</text>
<path d="M608.5 316.82h23" stroke="#000" stroke-width="1.1"/>
<circle cx="578" cy="348.25" r="8.2" fill="#0000ff"/>
<text class="lg" transform="translate(609.6 353.05) scale(1 1.015)"><tspan font-style="italic">M</tspan>2</text>
<path d="M608.5 339.05h23" stroke="#000" stroke-width="1.1"/>
</svg></body></html>
